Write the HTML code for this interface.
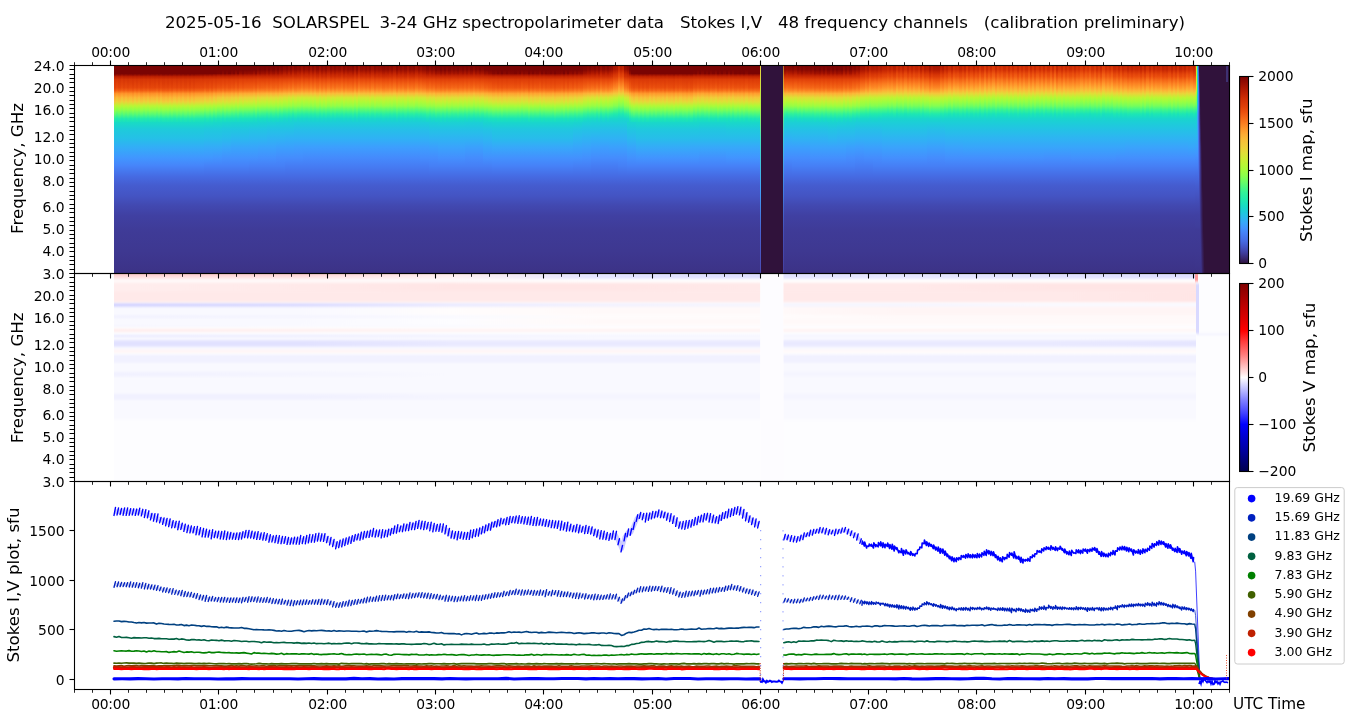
<!DOCTYPE html>
<html><head><meta charset="utf-8"><title>SOLARSPEL</title>
<style>html,body{margin:0;padding:0;background:#fff;}svg{display:block;}</style></head>
<body><svg width="1350" height="725" viewBox="0 0 1350 725" font-family="'DejaVu Sans', 'Liberation Sans', sans-serif">
<defs><linearGradient id="u0" x1="0" y1="0" x2="0" y2="1"><stop offset="0" stop-color="#7a0403"/><stop offset="0.07" stop-color="#7a0403"/><stop offset="0.14" stop-color="#7a0403"/><stop offset="0.16" stop-color="#880802"/><stop offset="0.19" stop-color="#bc2002"/><stop offset="0.24" stop-color="#d63506"/><stop offset="0.31" stop-color="#dc3b07"/><stop offset="0.38" stop-color="#e2430a"/><stop offset="0.43" stop-color="#ef5811"/><stop offset="0.48" stop-color="#fd8d27"/><stop offset="0.55" stop-color="#fdae35"/><stop offset="0.62" stop-color="#f2c93a"/><stop offset="0.69" stop-color="#bef434"/><stop offset="0.76" stop-color="#92ff47"/><stop offset="0.83" stop-color="#61fc6c"/><stop offset="0.91" stop-color="#25eca7"/><stop offset="1" stop-color="#18dbc5"/></linearGradient><linearGradient id="u1" x1="0" y1="0" x2="0" y2="1"><stop offset="0" stop-color="#7a0403"/><stop offset="0.07" stop-color="#7a0403"/><stop offset="0.14" stop-color="#7a0403"/><stop offset="0.16" stop-color="#950d01"/><stop offset="0.19" stop-color="#be2102"/><stop offset="0.24" stop-color="#d83706"/><stop offset="0.31" stop-color="#e14109"/><stop offset="0.38" stop-color="#e7490c"/><stop offset="0.43" stop-color="#f36315"/><stop offset="0.48" stop-color="#fe962b"/><stop offset="0.55" stop-color="#faba39"/><stop offset="0.62" stop-color="#e9d539"/><stop offset="0.69" stop-color="#b7f735"/><stop offset="0.76" stop-color="#8bff4b"/><stop offset="0.83" stop-color="#55fa76"/><stop offset="0.91" stop-color="#1fe9af"/><stop offset="1" stop-color="#18d7ca"/></linearGradient><linearGradient id="u2" x1="0" y1="0" x2="0" y2="1"><stop offset="0" stop-color="#7a0403"/><stop offset="0.07" stop-color="#7a0403"/><stop offset="0.14" stop-color="#7a0403"/><stop offset="0.16" stop-color="#8e0a01"/><stop offset="0.19" stop-color="#bc2002"/><stop offset="0.24" stop-color="#d63506"/><stop offset="0.31" stop-color="#dd3d08"/><stop offset="0.38" stop-color="#e4450a"/><stop offset="0.43" stop-color="#f15d13"/><stop offset="0.48" stop-color="#fe9029"/><stop offset="0.55" stop-color="#fcb336"/><stop offset="0.62" stop-color="#efcd3a"/><stop offset="0.69" stop-color="#bcf534"/><stop offset="0.76" stop-color="#8fff49"/><stop offset="0.83" stop-color="#5dfc6f"/><stop offset="0.91" stop-color="#22ebaa"/><stop offset="1" stop-color="#18d9c8"/></linearGradient><linearGradient id="u3" x1="0" y1="0" x2="0" y2="1"><stop offset="0" stop-color="#7a0403"/><stop offset="0.07" stop-color="#7a0403"/><stop offset="0.14" stop-color="#7a0403"/><stop offset="0.16" stop-color="#980e01"/><stop offset="0.19" stop-color="#c12302"/><stop offset="0.24" stop-color="#da3907"/><stop offset="0.31" stop-color="#e14109"/><stop offset="0.38" stop-color="#e84b0c"/><stop offset="0.43" stop-color="#f36315"/><stop offset="0.48" stop-color="#fe962b"/><stop offset="0.55" stop-color="#f9bc39"/><stop offset="0.62" stop-color="#e7d739"/><stop offset="0.69" stop-color="#b4f836"/><stop offset="0.76" stop-color="#88ff4e"/><stop offset="0.83" stop-color="#52fa7a"/><stop offset="0.91" stop-color="#1fe9af"/><stop offset="1" stop-color="#18d7ca"/></linearGradient><linearGradient id="u4" x1="0" y1="0" x2="0" y2="1"><stop offset="0" stop-color="#7a0403"/><stop offset="0.07" stop-color="#7a0403"/><stop offset="0.14" stop-color="#7a0403"/><stop offset="0.16" stop-color="#920b01"/><stop offset="0.19" stop-color="#be2102"/><stop offset="0.24" stop-color="#d83706"/><stop offset="0.31" stop-color="#df3f08"/><stop offset="0.38" stop-color="#e7490c"/><stop offset="0.43" stop-color="#f26014"/><stop offset="0.48" stop-color="#fe932a"/><stop offset="0.55" stop-color="#fbb838"/><stop offset="0.62" stop-color="#ebd339"/><stop offset="0.69" stop-color="#b7f735"/><stop offset="0.76" stop-color="#8bff4b"/><stop offset="0.83" stop-color="#55fa76"/><stop offset="0.91" stop-color="#20eaac"/><stop offset="1" stop-color="#18d7ca"/></linearGradient><linearGradient id="u5" x1="0" y1="0" x2="0" y2="1"><stop offset="0" stop-color="#7a0403"/><stop offset="0.07" stop-color="#7a0403"/><stop offset="0.14" stop-color="#7a0403"/><stop offset="0.16" stop-color="#8b0902"/><stop offset="0.19" stop-color="#bc2002"/><stop offset="0.24" stop-color="#d63506"/><stop offset="0.31" stop-color="#dc3b07"/><stop offset="0.38" stop-color="#e4450a"/><stop offset="0.43" stop-color="#f05b12"/><stop offset="0.48" stop-color="#fd8d27"/><stop offset="0.55" stop-color="#fcb136"/><stop offset="0.62" stop-color="#f1cb3a"/><stop offset="0.69" stop-color="#bcf534"/><stop offset="0.76" stop-color="#92ff47"/><stop offset="0.83" stop-color="#5dfc6f"/><stop offset="0.91" stop-color="#22ebaa"/><stop offset="1" stop-color="#18d9c8"/></linearGradient><linearGradient id="u6" x1="0" y1="0" x2="0" y2="1"><stop offset="0" stop-color="#7a0403"/><stop offset="0.07" stop-color="#7a0403"/><stop offset="0.14" stop-color="#7a0403"/><stop offset="0.16" stop-color="#920b01"/><stop offset="0.19" stop-color="#be2102"/><stop offset="0.24" stop-color="#d83706"/><stop offset="0.31" stop-color="#df3f08"/><stop offset="0.38" stop-color="#e5470b"/><stop offset="0.43" stop-color="#f15d13"/><stop offset="0.48" stop-color="#fe9029"/><stop offset="0.55" stop-color="#fbb637"/><stop offset="0.62" stop-color="#eecf3a"/><stop offset="0.69" stop-color="#b9f635"/><stop offset="0.76" stop-color="#8fff49"/><stop offset="0.83" stop-color="#59fb73"/><stop offset="0.91" stop-color="#20eaac"/><stop offset="1" stop-color="#18d9c8"/></linearGradient><linearGradient id="u7" x1="0" y1="0" x2="0" y2="1"><stop offset="0" stop-color="#7a0403"/><stop offset="0.07" stop-color="#7a0403"/><stop offset="0.14" stop-color="#7a0403"/><stop offset="0.16" stop-color="#9e1001"/><stop offset="0.19" stop-color="#c32503"/><stop offset="0.24" stop-color="#da3907"/><stop offset="0.31" stop-color="#e4450a"/><stop offset="0.38" stop-color="#eb500e"/><stop offset="0.43" stop-color="#f66c19"/><stop offset="0.48" stop-color="#fe9b2d"/><stop offset="0.55" stop-color="#f6c33a"/><stop offset="0.62" stop-color="#e1dd37"/><stop offset="0.69" stop-color="#b1f936"/><stop offset="0.76" stop-color="#80ff53"/><stop offset="0.83" stop-color="#4af880"/><stop offset="0.91" stop-color="#1ce6b4"/><stop offset="1" stop-color="#19d5cd"/></linearGradient><linearGradient id="u8" x1="0" y1="0" x2="0" y2="1"><stop offset="0" stop-color="#7a0403"/><stop offset="0.07" stop-color="#7a0403"/><stop offset="0.14" stop-color="#7a0403"/><stop offset="0.16" stop-color="#a41301"/><stop offset="0.19" stop-color="#c32503"/><stop offset="0.24" stop-color="#dc3b07"/><stop offset="0.31" stop-color="#e5470b"/><stop offset="0.38" stop-color="#ec530f"/><stop offset="0.43" stop-color="#f76f1a"/><stop offset="0.48" stop-color="#fea130"/><stop offset="0.55" stop-color="#f2c93a"/><stop offset="0.62" stop-color="#dde037"/><stop offset="0.69" stop-color="#acfb38"/><stop offset="0.76" stop-color="#7dff56"/><stop offset="0.83" stop-color="#46f884"/><stop offset="0.91" stop-color="#1ae4b6"/><stop offset="1" stop-color="#1ad4d0"/></linearGradient><linearGradient id="u9" x1="0" y1="0" x2="0" y2="1"><stop offset="0" stop-color="#7a0403"/><stop offset="0.07" stop-color="#7a0403"/><stop offset="0.14" stop-color="#7a0403"/><stop offset="0.16" stop-color="#9e1001"/><stop offset="0.19" stop-color="#c12302"/><stop offset="0.24" stop-color="#da3907"/><stop offset="0.31" stop-color="#e2430a"/><stop offset="0.38" stop-color="#ea4e0d"/><stop offset="0.43" stop-color="#f56918"/><stop offset="0.48" stop-color="#fe9b2d"/><stop offset="0.55" stop-color="#f7c13a"/><stop offset="0.62" stop-color="#e3db38"/><stop offset="0.69" stop-color="#b1f936"/><stop offset="0.76" stop-color="#84ff51"/><stop offset="0.83" stop-color="#4ef97d"/><stop offset="0.91" stop-color="#1de7b2"/><stop offset="1" stop-color="#19d5cd"/></linearGradient><linearGradient id="u10" x1="0" y1="0" x2="0" y2="1"><stop offset="0" stop-color="#7a0403"/><stop offset="0.07" stop-color="#7a0403"/><stop offset="0.14" stop-color="#7e0502"/><stop offset="0.16" stop-color="#a71401"/><stop offset="0.19" stop-color="#c52603"/><stop offset="0.24" stop-color="#dc3b07"/><stop offset="0.31" stop-color="#e5470b"/><stop offset="0.38" stop-color="#ed5510"/><stop offset="0.43" stop-color="#f8721c"/><stop offset="0.48" stop-color="#fea130"/><stop offset="0.55" stop-color="#f1cb3a"/><stop offset="0.62" stop-color="#dbe236"/><stop offset="0.69" stop-color="#acfb38"/><stop offset="0.76" stop-color="#79fe59"/><stop offset="0.83" stop-color="#43f787"/><stop offset="0.91" stop-color="#1ae4b6"/><stop offset="1" stop-color="#1ad4d0"/></linearGradient><linearGradient id="u11" x1="0" y1="0" x2="0" y2="1"><stop offset="0" stop-color="#7a0403"/><stop offset="0.07" stop-color="#7a0403"/><stop offset="0.14" stop-color="#7a0403"/><stop offset="0.16" stop-color="#a11201"/><stop offset="0.19" stop-color="#c32503"/><stop offset="0.24" stop-color="#dc3b07"/><stop offset="0.31" stop-color="#e4450a"/><stop offset="0.38" stop-color="#ec530f"/><stop offset="0.43" stop-color="#f66c19"/><stop offset="0.48" stop-color="#fe9e2f"/><stop offset="0.55" stop-color="#f4c73a"/><stop offset="0.62" stop-color="#dfdf37"/><stop offset="0.69" stop-color="#affa37"/><stop offset="0.76" stop-color="#80ff53"/><stop offset="0.83" stop-color="#4af880"/><stop offset="0.91" stop-color="#1ce6b4"/><stop offset="1" stop-color="#19d5cd"/></linearGradient><linearGradient id="u12" x1="0" y1="0" x2="0" y2="1"><stop offset="0" stop-color="#7a0403"/><stop offset="0.07" stop-color="#7a0403"/><stop offset="0.14" stop-color="#880802"/><stop offset="0.16" stop-color="#a91601"/><stop offset="0.19" stop-color="#c52603"/><stop offset="0.24" stop-color="#dd3d08"/><stop offset="0.31" stop-color="#e7490c"/><stop offset="0.38" stop-color="#ef5811"/><stop offset="0.43" stop-color="#f9751d"/><stop offset="0.48" stop-color="#fea732"/><stop offset="0.55" stop-color="#eecf3a"/><stop offset="0.62" stop-color="#d7e535"/><stop offset="0.69" stop-color="#a9fb39"/><stop offset="0.76" stop-color="#75fe5c"/><stop offset="0.83" stop-color="#3ff68a"/><stop offset="0.91" stop-color="#19e3b9"/><stop offset="1" stop-color="#1ad4d0"/></linearGradient><linearGradient id="u13" x1="0" y1="0" x2="0" y2="1"><stop offset="0" stop-color="#7a0403"/><stop offset="0.07" stop-color="#7a0403"/><stop offset="0.14" stop-color="#850702"/><stop offset="0.16" stop-color="#a71401"/><stop offset="0.19" stop-color="#c52603"/><stop offset="0.24" stop-color="#dd3d08"/><stop offset="0.31" stop-color="#e7490c"/><stop offset="0.38" stop-color="#ef5811"/><stop offset="0.43" stop-color="#f8721c"/><stop offset="0.48" stop-color="#fea431"/><stop offset="0.55" stop-color="#efcd3a"/><stop offset="0.62" stop-color="#d9e436"/><stop offset="0.69" stop-color="#a9fb39"/><stop offset="0.76" stop-color="#79fe59"/><stop offset="0.83" stop-color="#43f787"/><stop offset="0.91" stop-color="#19e3b9"/><stop offset="1" stop-color="#1ad4d0"/></linearGradient><linearGradient id="u14" x1="0" y1="0" x2="0" y2="1"><stop offset="0" stop-color="#7a0403"/><stop offset="0.07" stop-color="#7a0403"/><stop offset="0.14" stop-color="#920b01"/><stop offset="0.16" stop-color="#af1801"/><stop offset="0.19" stop-color="#c82803"/><stop offset="0.24" stop-color="#dd3d08"/><stop offset="0.31" stop-color="#ea4e0d"/><stop offset="0.38" stop-color="#f15d13"/><stop offset="0.43" stop-color="#f9781e"/><stop offset="0.48" stop-color="#fea933"/><stop offset="0.55" stop-color="#ebd339"/><stop offset="0.62" stop-color="#d2e935"/><stop offset="0.69" stop-color="#a4fc3c"/><stop offset="0.76" stop-color="#71fe5f"/><stop offset="0.83" stop-color="#3cf58e"/><stop offset="0.91" stop-color="#19e2bb"/><stop offset="1" stop-color="#1ad2d2"/></linearGradient><linearGradient id="u15" x1="0" y1="0" x2="0" y2="1"><stop offset="0" stop-color="#7a0403"/><stop offset="0.07" stop-color="#7a0403"/><stop offset="0.14" stop-color="#950d01"/><stop offset="0.16" stop-color="#b21a01"/><stop offset="0.19" stop-color="#c82803"/><stop offset="0.24" stop-color="#df3f08"/><stop offset="0.31" stop-color="#ea4e0d"/><stop offset="0.38" stop-color="#f15d13"/><stop offset="0.43" stop-color="#fa7b1f"/><stop offset="0.48" stop-color="#fdac34"/><stop offset="0.55" stop-color="#e9d539"/><stop offset="0.62" stop-color="#cdec34"/><stop offset="0.69" stop-color="#a4fc3c"/><stop offset="0.76" stop-color="#71fe5f"/><stop offset="0.83" stop-color="#38f491"/><stop offset="0.91" stop-color="#19e2bb"/><stop offset="1" stop-color="#1ad2d2"/></linearGradient><linearGradient id="u16" x1="0" y1="0" x2="0" y2="1"><stop offset="0" stop-color="#7a0403"/><stop offset="0.07" stop-color="#7a0403"/><stop offset="0.14" stop-color="#9e1001"/><stop offset="0.16" stop-color="#b41b01"/><stop offset="0.19" stop-color="#ca2a04"/><stop offset="0.24" stop-color="#df3f08"/><stop offset="0.31" stop-color="#eb500e"/><stop offset="0.38" stop-color="#f36315"/><stop offset="0.43" stop-color="#fb7e21"/><stop offset="0.48" stop-color="#fdae35"/><stop offset="0.55" stop-color="#e5d938"/><stop offset="0.62" stop-color="#c8ef34"/><stop offset="0.69" stop-color="#a1fd3d"/><stop offset="0.76" stop-color="#69fd66"/><stop offset="0.83" stop-color="#35f394"/><stop offset="0.91" stop-color="#18e0bd"/><stop offset="1" stop-color="#1bd0d5"/></linearGradient><linearGradient id="u17" x1="0" y1="0" x2="0" y2="1"><stop offset="0" stop-color="#7a0403"/><stop offset="0.07" stop-color="#7a0403"/><stop offset="0.14" stop-color="#8b0902"/><stop offset="0.16" stop-color="#ac1701"/><stop offset="0.19" stop-color="#c82803"/><stop offset="0.24" stop-color="#dd3d08"/><stop offset="0.31" stop-color="#e84b0c"/><stop offset="0.38" stop-color="#f05b12"/><stop offset="0.43" stop-color="#f9781e"/><stop offset="0.48" stop-color="#fea732"/><stop offset="0.55" stop-color="#ecd13a"/><stop offset="0.62" stop-color="#d4e735"/><stop offset="0.69" stop-color="#a7fc3a"/><stop offset="0.76" stop-color="#75fe5c"/><stop offset="0.83" stop-color="#3ff68a"/><stop offset="0.91" stop-color="#19e2bb"/><stop offset="1" stop-color="#1ad2d2"/></linearGradient><linearGradient id="u18" x1="0" y1="0" x2="0" y2="1"><stop offset="0" stop-color="#7a0403"/><stop offset="0.07" stop-color="#810602"/><stop offset="0.14" stop-color="#a41301"/><stop offset="0.16" stop-color="#b91e02"/><stop offset="0.19" stop-color="#cc2b04"/><stop offset="0.24" stop-color="#e14109"/><stop offset="0.31" stop-color="#ec530f"/><stop offset="0.38" stop-color="#f46617"/><stop offset="0.43" stop-color="#fc8423"/><stop offset="0.48" stop-color="#fcb136"/><stop offset="0.55" stop-color="#e1dd37"/><stop offset="0.62" stop-color="#c3f134"/><stop offset="0.69" stop-color="#9ffd3f"/><stop offset="0.76" stop-color="#65fd69"/><stop offset="0.83" stop-color="#32f298"/><stop offset="0.91" stop-color="#18dec0"/><stop offset="1" stop-color="#1ccdd8"/></linearGradient><linearGradient id="u19" x1="0" y1="0" x2="0" y2="1"><stop offset="0" stop-color="#7a0403"/><stop offset="0.07" stop-color="#7a0403"/><stop offset="0.14" stop-color="#980e01"/><stop offset="0.16" stop-color="#b21a01"/><stop offset="0.19" stop-color="#ca2a04"/><stop offset="0.24" stop-color="#df3f08"/><stop offset="0.31" stop-color="#eb500e"/><stop offset="0.38" stop-color="#f26014"/><stop offset="0.43" stop-color="#fb7e21"/><stop offset="0.48" stop-color="#fdac34"/><stop offset="0.55" stop-color="#e7d739"/><stop offset="0.62" stop-color="#cbed34"/><stop offset="0.69" stop-color="#a1fd3d"/><stop offset="0.76" stop-color="#6dfe62"/><stop offset="0.83" stop-color="#38f491"/><stop offset="0.91" stop-color="#18e0bd"/><stop offset="1" stop-color="#1bd0d5"/></linearGradient><linearGradient id="u20" x1="0" y1="0" x2="0" y2="1"><stop offset="0" stop-color="#7a0403"/><stop offset="0.07" stop-color="#7e0502"/><stop offset="0.14" stop-color="#a11201"/><stop offset="0.16" stop-color="#b71d02"/><stop offset="0.19" stop-color="#ca2a04"/><stop offset="0.24" stop-color="#df3f08"/><stop offset="0.31" stop-color="#ec530f"/><stop offset="0.38" stop-color="#f36315"/><stop offset="0.43" stop-color="#fb8122"/><stop offset="0.48" stop-color="#fdae35"/><stop offset="0.55" stop-color="#e3db38"/><stop offset="0.62" stop-color="#c6f034"/><stop offset="0.69" stop-color="#9ffd3f"/><stop offset="0.76" stop-color="#69fd66"/><stop offset="0.83" stop-color="#35f394"/><stop offset="0.91" stop-color="#18dec0"/><stop offset="1" stop-color="#1bd0d5"/></linearGradient><linearGradient id="u21" x1="0" y1="0" x2="0" y2="1"><stop offset="0" stop-color="#7a0403"/><stop offset="0.07" stop-color="#850702"/><stop offset="0.14" stop-color="#a91601"/><stop offset="0.16" stop-color="#bc2002"/><stop offset="0.19" stop-color="#cc2b04"/><stop offset="0.24" stop-color="#e14109"/><stop offset="0.31" stop-color="#ed5510"/><stop offset="0.38" stop-color="#f56918"/><stop offset="0.43" stop-color="#fc8423"/><stop offset="0.48" stop-color="#fcb336"/><stop offset="0.55" stop-color="#dfdf37"/><stop offset="0.62" stop-color="#c1f334"/><stop offset="0.69" stop-color="#9cfe40"/><stop offset="0.76" stop-color="#65fd69"/><stop offset="0.83" stop-color="#2ff19b"/><stop offset="0.91" stop-color="#18ddc2"/><stop offset="1" stop-color="#1ccdd8"/></linearGradient><linearGradient id="u22" x1="0" y1="0" x2="0" y2="1"><stop offset="0" stop-color="#7a0403"/><stop offset="0.07" stop-color="#880802"/><stop offset="0.14" stop-color="#ac1701"/><stop offset="0.16" stop-color="#bc2002"/><stop offset="0.19" stop-color="#cc2b04"/><stop offset="0.24" stop-color="#e14109"/><stop offset="0.31" stop-color="#ed5510"/><stop offset="0.38" stop-color="#f56918"/><stop offset="0.43" stop-color="#fc8725"/><stop offset="0.48" stop-color="#fcb336"/><stop offset="0.55" stop-color="#dde037"/><stop offset="0.62" stop-color="#bef434"/><stop offset="0.69" stop-color="#99fe42"/><stop offset="0.76" stop-color="#61fc6c"/><stop offset="0.83" stop-color="#2ff19b"/><stop offset="0.91" stop-color="#18ddc2"/><stop offset="1" stop-color="#1ccdd8"/></linearGradient><linearGradient id="u23" x1="0" y1="0" x2="0" y2="1"><stop offset="0" stop-color="#7e0502"/><stop offset="0.07" stop-color="#8b0902"/><stop offset="0.14" stop-color="#af1801"/><stop offset="0.16" stop-color="#be2102"/><stop offset="0.19" stop-color="#ce2d04"/><stop offset="0.24" stop-color="#e2430a"/><stop offset="0.31" stop-color="#ef5811"/><stop offset="0.38" stop-color="#f66c19"/><stop offset="0.43" stop-color="#fd8a26"/><stop offset="0.48" stop-color="#fbb637"/><stop offset="0.55" stop-color="#dbe236"/><stop offset="0.62" stop-color="#bcf534"/><stop offset="0.69" stop-color="#99fe42"/><stop offset="0.76" stop-color="#5dfc6f"/><stop offset="0.83" stop-color="#2cf09e"/><stop offset="0.91" stop-color="#18dbc5"/><stop offset="1" stop-color="#1ccdd8"/></linearGradient><linearGradient id="u24" x1="0" y1="0" x2="0" y2="1"><stop offset="0" stop-color="#850702"/><stop offset="0.07" stop-color="#920b01"/><stop offset="0.14" stop-color="#b71d02"/><stop offset="0.16" stop-color="#c32503"/><stop offset="0.19" stop-color="#ce2d04"/><stop offset="0.24" stop-color="#e2430a"/><stop offset="0.31" stop-color="#f05b12"/><stop offset="0.38" stop-color="#f76f1a"/><stop offset="0.43" stop-color="#fd8d27"/><stop offset="0.48" stop-color="#fbb838"/><stop offset="0.55" stop-color="#d7e535"/><stop offset="0.62" stop-color="#b7f735"/><stop offset="0.69" stop-color="#96fe44"/><stop offset="0.76" stop-color="#59fb73"/><stop offset="0.83" stop-color="#2aefa1"/><stop offset="0.91" stop-color="#18d9c8"/><stop offset="1" stop-color="#1ecbda"/></linearGradient><linearGradient id="u25" x1="0" y1="0" x2="0" y2="1"><stop offset="0" stop-color="#8b0902"/><stop offset="0.07" stop-color="#950d01"/><stop offset="0.14" stop-color="#be2102"/><stop offset="0.16" stop-color="#c52603"/><stop offset="0.19" stop-color="#d02f05"/><stop offset="0.24" stop-color="#e4450a"/><stop offset="0.31" stop-color="#f15d13"/><stop offset="0.38" stop-color="#f9751d"/><stop offset="0.43" stop-color="#fe9029"/><stop offset="0.48" stop-color="#f9bc39"/><stop offset="0.55" stop-color="#d0ea34"/><stop offset="0.62" stop-color="#b1f936"/><stop offset="0.69" stop-color="#92ff47"/><stop offset="0.76" stop-color="#55fa76"/><stop offset="0.83" stop-color="#27eea4"/><stop offset="0.91" stop-color="#18d7ca"/><stop offset="1" stop-color="#1fc9dd"/></linearGradient><linearGradient id="u26" x1="0" y1="0" x2="0" y2="1"><stop offset="0" stop-color="#8e0a01"/><stop offset="0.07" stop-color="#9b0f01"/><stop offset="0.14" stop-color="#c12302"/><stop offset="0.16" stop-color="#ca2a04"/><stop offset="0.19" stop-color="#d23105"/><stop offset="0.24" stop-color="#e5470b"/><stop offset="0.31" stop-color="#f26014"/><stop offset="0.38" stop-color="#f9781e"/><stop offset="0.43" stop-color="#fe962b"/><stop offset="0.48" stop-color="#f8be39"/><stop offset="0.55" stop-color="#d0ea34"/><stop offset="0.62" stop-color="#affa37"/><stop offset="0.69" stop-color="#8fff49"/><stop offset="0.76" stop-color="#55fa76"/><stop offset="0.83" stop-color="#25eca7"/><stop offset="0.91" stop-color="#18d7ca"/><stop offset="1" stop-color="#1fc9dd"/></linearGradient><linearGradient id="u27" x1="0" y1="0" x2="0" y2="1"><stop offset="0" stop-color="#810602"/><stop offset="0.07" stop-color="#8e0a01"/><stop offset="0.14" stop-color="#b41b01"/><stop offset="0.16" stop-color="#c12302"/><stop offset="0.19" stop-color="#ce2d04"/><stop offset="0.24" stop-color="#e2430a"/><stop offset="0.31" stop-color="#ef5811"/><stop offset="0.38" stop-color="#f76f1a"/><stop offset="0.43" stop-color="#fd8a26"/><stop offset="0.48" stop-color="#fbb838"/><stop offset="0.55" stop-color="#d9e436"/><stop offset="0.62" stop-color="#b9f635"/><stop offset="0.69" stop-color="#96fe44"/><stop offset="0.76" stop-color="#5dfc6f"/><stop offset="0.83" stop-color="#2cf09e"/><stop offset="0.91" stop-color="#18dbc5"/><stop offset="1" stop-color="#1ecbda"/></linearGradient><linearGradient id="u28" x1="0" y1="0" x2="0" y2="1"><stop offset="0" stop-color="#880802"/><stop offset="0.07" stop-color="#920b01"/><stop offset="0.14" stop-color="#b91e02"/><stop offset="0.16" stop-color="#c52603"/><stop offset="0.19" stop-color="#d02f05"/><stop offset="0.24" stop-color="#e2430a"/><stop offset="0.31" stop-color="#f05b12"/><stop offset="0.38" stop-color="#f8721c"/><stop offset="0.43" stop-color="#fe9029"/><stop offset="0.48" stop-color="#faba39"/><stop offset="0.55" stop-color="#d2e935"/><stop offset="0.62" stop-color="#b4f836"/><stop offset="0.69" stop-color="#92ff47"/><stop offset="0.76" stop-color="#59fb73"/><stop offset="0.83" stop-color="#27eea4"/><stop offset="0.91" stop-color="#18d9c8"/><stop offset="1" stop-color="#1ecbda"/></linearGradient><linearGradient id="u29" x1="0" y1="0" x2="0" y2="1"><stop offset="0" stop-color="#950d01"/><stop offset="0.07" stop-color="#a11201"/><stop offset="0.14" stop-color="#c52603"/><stop offset="0.16" stop-color="#cc2b04"/><stop offset="0.19" stop-color="#d63506"/><stop offset="0.24" stop-color="#e7490c"/><stop offset="0.31" stop-color="#f36315"/><stop offset="0.38" stop-color="#fa7b1f"/><stop offset="0.43" stop-color="#fe992c"/><stop offset="0.48" stop-color="#f7c13a"/><stop offset="0.55" stop-color="#cdec34"/><stop offset="0.62" stop-color="#acfb38"/><stop offset="0.69" stop-color="#8bff4b"/><stop offset="0.76" stop-color="#52fa7a"/><stop offset="0.83" stop-color="#25eca7"/><stop offset="0.91" stop-color="#18d7ca"/><stop offset="1" stop-color="#1ecbda"/></linearGradient><linearGradient id="u30" x1="0" y1="0" x2="0" y2="1"><stop offset="0" stop-color="#9b0f01"/><stop offset="0.07" stop-color="#a71401"/><stop offset="0.14" stop-color="#c82803"/><stop offset="0.16" stop-color="#d02f05"/><stop offset="0.19" stop-color="#d83706"/><stop offset="0.24" stop-color="#e84b0c"/><stop offset="0.31" stop-color="#f46617"/><stop offset="0.38" stop-color="#fb7e21"/><stop offset="0.43" stop-color="#fe9b2d"/><stop offset="0.48" stop-color="#f6c33a"/><stop offset="0.55" stop-color="#cbed34"/><stop offset="0.62" stop-color="#a9fb39"/><stop offset="0.69" stop-color="#8bff4b"/><stop offset="0.76" stop-color="#4ef97d"/><stop offset="0.83" stop-color="#22ebaa"/><stop offset="0.91" stop-color="#18d7ca"/><stop offset="1" stop-color="#1ecbda"/></linearGradient><linearGradient id="u31" x1="0" y1="0" x2="0" y2="1"><stop offset="0" stop-color="#a41301"/><stop offset="0.07" stop-color="#af1801"/><stop offset="0.14" stop-color="#ce2d04"/><stop offset="0.16" stop-color="#d63506"/><stop offset="0.19" stop-color="#dd3d08"/><stop offset="0.24" stop-color="#eb500e"/><stop offset="0.31" stop-color="#f66c19"/><stop offset="0.38" stop-color="#fc8725"/><stop offset="0.43" stop-color="#fea431"/><stop offset="0.48" stop-color="#f4c73a"/><stop offset="0.55" stop-color="#c8ef34"/><stop offset="0.62" stop-color="#a7fc3a"/><stop offset="0.69" stop-color="#84ff51"/><stop offset="0.76" stop-color="#4af880"/><stop offset="0.83" stop-color="#20eaac"/><stop offset="0.91" stop-color="#18d7ca"/><stop offset="1" stop-color="#1ecbda"/></linearGradient><linearGradient id="u32" x1="0" y1="0" x2="0" y2="1"><stop offset="0" stop-color="#a91601"/><stop offset="0.07" stop-color="#b41b01"/><stop offset="0.14" stop-color="#d23105"/><stop offset="0.16" stop-color="#d83706"/><stop offset="0.19" stop-color="#df3f08"/><stop offset="0.24" stop-color="#ec530f"/><stop offset="0.31" stop-color="#f8721c"/><stop offset="0.38" stop-color="#fd8a26"/><stop offset="0.43" stop-color="#fea732"/><stop offset="0.48" stop-color="#f2c93a"/><stop offset="0.55" stop-color="#c6f034"/><stop offset="0.62" stop-color="#a4fc3c"/><stop offset="0.69" stop-color="#84ff51"/><stop offset="0.76" stop-color="#46f884"/><stop offset="0.83" stop-color="#20eaac"/><stop offset="0.91" stop-color="#18d7ca"/><stop offset="1" stop-color="#1ecbda"/></linearGradient><linearGradient id="u33" x1="0" y1="0" x2="0" y2="1"><stop offset="0" stop-color="#c52603"/><stop offset="0.07" stop-color="#cc2b04"/><stop offset="0.14" stop-color="#e2430a"/><stop offset="0.16" stop-color="#e7490c"/><stop offset="0.19" stop-color="#eb500e"/><stop offset="0.24" stop-color="#f46617"/><stop offset="0.31" stop-color="#fc8423"/><stop offset="0.38" stop-color="#fea130"/><stop offset="0.43" stop-color="#fbb838"/><stop offset="0.48" stop-color="#e9d539"/><stop offset="0.55" stop-color="#b9f635"/><stop offset="0.62" stop-color="#99fe42"/><stop offset="0.69" stop-color="#75fe5c"/><stop offset="0.76" stop-color="#3cf58e"/><stop offset="0.83" stop-color="#1ce6b4"/><stop offset="0.91" stop-color="#19d5cd"/><stop offset="1" stop-color="#1ecbda"/></linearGradient><linearGradient id="u34" x1="0" y1="0" x2="0" y2="1"><stop offset="0" stop-color="#b41b01"/><stop offset="0.07" stop-color="#bc2002"/><stop offset="0.14" stop-color="#d83706"/><stop offset="0.16" stop-color="#dd3d08"/><stop offset="0.19" stop-color="#e4450a"/><stop offset="0.24" stop-color="#f05b12"/><stop offset="0.31" stop-color="#f9781e"/><stop offset="0.38" stop-color="#fe932a"/><stop offset="0.43" stop-color="#fdac34"/><stop offset="0.48" stop-color="#efcd3a"/><stop offset="0.55" stop-color="#c1f334"/><stop offset="0.62" stop-color="#a1fd3d"/><stop offset="0.69" stop-color="#7dff56"/><stop offset="0.76" stop-color="#43f787"/><stop offset="0.83" stop-color="#1fe9af"/><stop offset="0.91" stop-color="#19d5cd"/><stop offset="1" stop-color="#1ecbda"/></linearGradient><linearGradient id="u35" x1="0" y1="0" x2="0" y2="1"><stop offset="0" stop-color="#bc2002"/><stop offset="0.07" stop-color="#c32503"/><stop offset="0.14" stop-color="#dd3d08"/><stop offset="0.16" stop-color="#e2430a"/><stop offset="0.19" stop-color="#e7490c"/><stop offset="0.24" stop-color="#f26014"/><stop offset="0.31" stop-color="#fb7e21"/><stop offset="0.38" stop-color="#fe992c"/><stop offset="0.43" stop-color="#fcb336"/><stop offset="0.48" stop-color="#ecd13a"/><stop offset="0.55" stop-color="#bef434"/><stop offset="0.62" stop-color="#9cfe40"/><stop offset="0.69" stop-color="#79fe59"/><stop offset="0.76" stop-color="#3ff68a"/><stop offset="0.83" stop-color="#1de7b2"/><stop offset="0.91" stop-color="#19d5cd"/><stop offset="1" stop-color="#1ecbda"/></linearGradient><linearGradient id="u36" x1="0" y1="0" x2="0" y2="1"><stop offset="0" stop-color="#7a0403"/><stop offset="0.07" stop-color="#7a0403"/><stop offset="0.14" stop-color="#7a0403"/><stop offset="0.16" stop-color="#9b0f01"/><stop offset="0.19" stop-color="#c12302"/><stop offset="0.24" stop-color="#da3907"/><stop offset="0.31" stop-color="#e2430a"/><stop offset="0.38" stop-color="#ea4e0d"/><stop offset="0.43" stop-color="#f46617"/><stop offset="0.48" stop-color="#fe992c"/><stop offset="0.55" stop-color="#f8be39"/><stop offset="0.62" stop-color="#e5d938"/><stop offset="0.69" stop-color="#b4f836"/><stop offset="0.76" stop-color="#84ff51"/><stop offset="0.83" stop-color="#52fa7a"/><stop offset="0.91" stop-color="#1de7b2"/><stop offset="1" stop-color="#18d7ca"/></linearGradient><linearGradient id="u37" x1="0" y1="0" x2="0" y2="1"><stop offset="0" stop-color="#a11201"/><stop offset="0.07" stop-color="#a91601"/><stop offset="0.14" stop-color="#cc2b04"/><stop offset="0.16" stop-color="#d23105"/><stop offset="0.19" stop-color="#da3907"/><stop offset="0.24" stop-color="#ea4e0d"/><stop offset="0.31" stop-color="#f56918"/><stop offset="0.38" stop-color="#fc8423"/><stop offset="0.43" stop-color="#fe9e2f"/><stop offset="0.48" stop-color="#f5c53a"/><stop offset="0.55" stop-color="#c8ef34"/><stop offset="0.62" stop-color="#a9fb39"/><stop offset="0.69" stop-color="#88ff4e"/><stop offset="0.76" stop-color="#4ef97d"/><stop offset="0.83" stop-color="#22ebaa"/><stop offset="0.91" stop-color="#18d7ca"/><stop offset="1" stop-color="#1ecbda"/></linearGradient><linearGradient id="u38" x1="0" y1="0" x2="0" y2="1"><stop offset="0" stop-color="#af1801"/><stop offset="0.07" stop-color="#b71d02"/><stop offset="0.14" stop-color="#d43305"/><stop offset="0.16" stop-color="#dc3b07"/><stop offset="0.19" stop-color="#e14109"/><stop offset="0.24" stop-color="#ef5811"/><stop offset="0.31" stop-color="#f9751d"/><stop offset="0.38" stop-color="#fd8d27"/><stop offset="0.43" stop-color="#fea933"/><stop offset="0.48" stop-color="#f1cb3a"/><stop offset="0.55" stop-color="#c3f134"/><stop offset="0.62" stop-color="#a4fc3c"/><stop offset="0.69" stop-color="#80ff53"/><stop offset="0.76" stop-color="#46f884"/><stop offset="0.83" stop-color="#1fe9af"/><stop offset="0.91" stop-color="#18d7ca"/><stop offset="1" stop-color="#1ecbda"/></linearGradient><linearGradient id="u39" x1="0" y1="0" x2="0" y2="1"><stop offset="0" stop-color="#b71d02"/><stop offset="0.07" stop-color="#c12302"/><stop offset="0.14" stop-color="#da3907"/><stop offset="0.16" stop-color="#e14109"/><stop offset="0.19" stop-color="#e5470b"/><stop offset="0.24" stop-color="#f15d13"/><stop offset="0.31" stop-color="#fa7b1f"/><stop offset="0.38" stop-color="#fe962b"/><stop offset="0.43" stop-color="#fcb136"/><stop offset="0.48" stop-color="#eecf3a"/><stop offset="0.55" stop-color="#c1f334"/><stop offset="0.62" stop-color="#9ffd3f"/><stop offset="0.69" stop-color="#7dff56"/><stop offset="0.76" stop-color="#43f787"/><stop offset="0.83" stop-color="#1de7b2"/><stop offset="0.91" stop-color="#19d5cd"/><stop offset="1" stop-color="#1ecbda"/></linearGradient><linearGradient id="u40" x1="0" y1="0" x2="0" y2="1"><stop offset="0" stop-color="#c12302"/><stop offset="0.07" stop-color="#c82803"/><stop offset="0.14" stop-color="#df3f08"/><stop offset="0.16" stop-color="#e4450a"/><stop offset="0.19" stop-color="#ea4e0d"/><stop offset="0.24" stop-color="#f36315"/><stop offset="0.31" stop-color="#fb8122"/><stop offset="0.38" stop-color="#fe9b2d"/><stop offset="0.43" stop-color="#fbb637"/><stop offset="0.48" stop-color="#ebd339"/><stop offset="0.55" stop-color="#bcf534"/><stop offset="0.62" stop-color="#9cfe40"/><stop offset="0.69" stop-color="#75fe5c"/><stop offset="0.76" stop-color="#3cf58e"/><stop offset="0.83" stop-color="#1ce6b4"/><stop offset="0.91" stop-color="#19d5cd"/><stop offset="1" stop-color="#1ecbda"/></linearGradient><linearGradient id="u41" x1="0" y1="0" x2="0" y2="1"><stop offset="0" stop-color="#c82803"/><stop offset="0.07" stop-color="#ce2d04"/><stop offset="0.14" stop-color="#e5470b"/><stop offset="0.16" stop-color="#e84b0c"/><stop offset="0.19" stop-color="#ec530f"/><stop offset="0.24" stop-color="#f56918"/><stop offset="0.31" stop-color="#fc8725"/><stop offset="0.38" stop-color="#fea431"/><stop offset="0.43" stop-color="#f9bc39"/><stop offset="0.48" stop-color="#e7d739"/><stop offset="0.55" stop-color="#b9f635"/><stop offset="0.62" stop-color="#96fe44"/><stop offset="0.69" stop-color="#71fe5f"/><stop offset="0.76" stop-color="#38f491"/><stop offset="0.83" stop-color="#1ae4b6"/><stop offset="0.91" stop-color="#19d5cd"/><stop offset="1" stop-color="#1ecbda"/></linearGradient><linearGradient id="u42" x1="0" y1="0" x2="0" y2="1"><stop offset="0" stop-color="#cc2b04"/><stop offset="0.07" stop-color="#d23105"/><stop offset="0.14" stop-color="#e7490c"/><stop offset="0.16" stop-color="#eb500e"/><stop offset="0.19" stop-color="#ef5811"/><stop offset="0.24" stop-color="#f76f1a"/><stop offset="0.31" stop-color="#fd8a26"/><stop offset="0.38" stop-color="#fea732"/><stop offset="0.43" stop-color="#f8be39"/><stop offset="0.48" stop-color="#e3db38"/><stop offset="0.55" stop-color="#b7f735"/><stop offset="0.62" stop-color="#96fe44"/><stop offset="0.69" stop-color="#6dfe62"/><stop offset="0.76" stop-color="#38f491"/><stop offset="0.83" stop-color="#19e3b9"/><stop offset="0.91" stop-color="#19d5cd"/><stop offset="1" stop-color="#1ecbda"/></linearGradient><linearGradient id="u43" x1="0" y1="0" x2="0" y2="1"><stop offset="0" stop-color="#d02f05"/><stop offset="0.07" stop-color="#d63506"/><stop offset="0.14" stop-color="#ea4e0d"/><stop offset="0.16" stop-color="#ec530f"/><stop offset="0.19" stop-color="#f05b12"/><stop offset="0.24" stop-color="#f8721c"/><stop offset="0.31" stop-color="#fd8d27"/><stop offset="0.38" stop-color="#fea933"/><stop offset="0.43" stop-color="#f7c13a"/><stop offset="0.48" stop-color="#e1dd37"/><stop offset="0.55" stop-color="#b4f836"/><stop offset="0.62" stop-color="#92ff47"/><stop offset="0.69" stop-color="#6dfe62"/><stop offset="0.76" stop-color="#35f394"/><stop offset="0.83" stop-color="#19e3b9"/><stop offset="0.91" stop-color="#19d5cd"/><stop offset="1" stop-color="#1ecbda"/></linearGradient><linearGradient id="u44" x1="0" y1="0" x2="0" y2="1"><stop offset="0" stop-color="#d23105"/><stop offset="0.07" stop-color="#d83706"/><stop offset="0.14" stop-color="#eb500e"/><stop offset="0.16" stop-color="#ef5811"/><stop offset="0.19" stop-color="#f26014"/><stop offset="0.24" stop-color="#f9751d"/><stop offset="0.31" stop-color="#fe932a"/><stop offset="0.38" stop-color="#fdae35"/><stop offset="0.43" stop-color="#f6c33a"/><stop offset="0.48" stop-color="#dfdf37"/><stop offset="0.55" stop-color="#b1f936"/><stop offset="0.62" stop-color="#8fff49"/><stop offset="0.69" stop-color="#69fd66"/><stop offset="0.76" stop-color="#32f298"/><stop offset="0.83" stop-color="#19e2bb"/><stop offset="0.91" stop-color="#19d5cd"/><stop offset="1" stop-color="#1ecbda"/></linearGradient><linearGradient id="u45" x1="0" y1="0" x2="0" y2="1"><stop offset="0" stop-color="#d63506"/><stop offset="0.07" stop-color="#dc3b07"/><stop offset="0.14" stop-color="#ed5510"/><stop offset="0.16" stop-color="#f05b12"/><stop offset="0.19" stop-color="#f36315"/><stop offset="0.24" stop-color="#f9781e"/><stop offset="0.31" stop-color="#fe962b"/><stop offset="0.38" stop-color="#fcb136"/><stop offset="0.43" stop-color="#f4c73a"/><stop offset="0.48" stop-color="#dde037"/><stop offset="0.55" stop-color="#b1f936"/><stop offset="0.62" stop-color="#8bff4b"/><stop offset="0.69" stop-color="#69fd66"/><stop offset="0.76" stop-color="#32f298"/><stop offset="0.83" stop-color="#19e2bb"/><stop offset="0.91" stop-color="#1ad4d0"/><stop offset="1" stop-color="#1ecbda"/></linearGradient><linearGradient id="u46" x1="0" y1="0" x2="0" y2="1"><stop offset="0" stop-color="#da3907"/><stop offset="0.07" stop-color="#df3f08"/><stop offset="0.14" stop-color="#ef5811"/><stop offset="0.16" stop-color="#f26014"/><stop offset="0.19" stop-color="#f46617"/><stop offset="0.24" stop-color="#fa7b1f"/><stop offset="0.31" stop-color="#fe992c"/><stop offset="0.38" stop-color="#fcb336"/><stop offset="0.43" stop-color="#f2c93a"/><stop offset="0.48" stop-color="#dbe236"/><stop offset="0.55" stop-color="#affa37"/><stop offset="0.62" stop-color="#8bff4b"/><stop offset="0.69" stop-color="#65fd69"/><stop offset="0.76" stop-color="#2ff19b"/><stop offset="0.83" stop-color="#18e0bd"/><stop offset="0.91" stop-color="#1ad4d0"/><stop offset="1" stop-color="#1ecbda"/></linearGradient><linearGradient id="l47" x1="0" y1="0" x2="0" y2="1"><stop offset="0" stop-color="#18dec0"/><stop offset="0.05" stop-color="#1ecbda"/><stop offset="0.11" stop-color="#25c0e7"/><stop offset="0.17" stop-color="#33adf7"/><stop offset="0.24" stop-color="#4196ff"/><stop offset="0.29" stop-color="#4685fa"/><stop offset="0.36" stop-color="#466be3"/><stop offset="0.42" stop-color="#455ccf"/><stop offset="0.49" stop-color="#4454c3"/><stop offset="0.55" stop-color="#4249b1"/><stop offset="0.62" stop-color="#4040a2"/><stop offset="0.72" stop-color="#3f3b97"/><stop offset="0.85" stop-color="#3e3891"/><stop offset="1" stop-color="#3c3286"/></linearGradient><linearGradient id="l48" x1="0" y1="0" x2="0" y2="1"><stop offset="0" stop-color="#18dec0"/><stop offset="0.05" stop-color="#1ecbda"/><stop offset="0.11" stop-color="#25c0e7"/><stop offset="0.17" stop-color="#33adf7"/><stop offset="0.24" stop-color="#4196ff"/><stop offset="0.29" stop-color="#4685fa"/><stop offset="0.36" stop-color="#466be3"/><stop offset="0.42" stop-color="#455ccf"/><stop offset="0.49" stop-color="#4454c3"/><stop offset="0.55" stop-color="#4249b1"/><stop offset="0.62" stop-color="#4040a2"/><stop offset="0.72" stop-color="#3f3b97"/><stop offset="0.85" stop-color="#3e3891"/><stop offset="1" stop-color="#3c3286"/></linearGradient><linearGradient id="l49" x1="0" y1="0" x2="0" y2="1"><stop offset="0" stop-color="#18ddc2"/><stop offset="0.05" stop-color="#1fc9dd"/><stop offset="0.11" stop-color="#27bee9"/><stop offset="0.17" stop-color="#35abf8"/><stop offset="0.24" stop-color="#4196ff"/><stop offset="0.29" stop-color="#4682f8"/><stop offset="0.36" stop-color="#466be3"/><stop offset="0.42" stop-color="#455ccf"/><stop offset="0.49" stop-color="#4454c3"/><stop offset="0.55" stop-color="#4249b1"/><stop offset="0.62" stop-color="#4040a2"/><stop offset="0.72" stop-color="#3f3b97"/><stop offset="0.85" stop-color="#3e3891"/><stop offset="1" stop-color="#3c3286"/></linearGradient><linearGradient id="l50" x1="0" y1="0" x2="0" y2="1"><stop offset="0" stop-color="#18dbc5"/><stop offset="0.05" stop-color="#1fc9dd"/><stop offset="0.11" stop-color="#27bee9"/><stop offset="0.17" stop-color="#35abf8"/><stop offset="0.24" stop-color="#4294ff"/><stop offset="0.29" stop-color="#4682f8"/><stop offset="0.36" stop-color="#466be3"/><stop offset="0.42" stop-color="#455ccf"/><stop offset="0.49" stop-color="#4454c3"/><stop offset="0.55" stop-color="#4249b1"/><stop offset="0.62" stop-color="#4040a2"/><stop offset="0.72" stop-color="#3f3b97"/><stop offset="0.85" stop-color="#3e3891"/><stop offset="1" stop-color="#3c3286"/></linearGradient><linearGradient id="l51" x1="0" y1="0" x2="0" y2="1"><stop offset="0" stop-color="#18d9c8"/><stop offset="0.05" stop-color="#20c7df"/><stop offset="0.11" stop-color="#28bceb"/><stop offset="0.17" stop-color="#37a8fa"/><stop offset="0.24" stop-color="#4391fe"/><stop offset="0.29" stop-color="#4682f8"/><stop offset="0.36" stop-color="#466be3"/><stop offset="0.42" stop-color="#455ccf"/><stop offset="0.49" stop-color="#4454c3"/><stop offset="0.55" stop-color="#4249b1"/><stop offset="0.62" stop-color="#4040a2"/><stop offset="0.72" stop-color="#3f3b97"/><stop offset="0.85" stop-color="#3e3891"/><stop offset="1" stop-color="#3c3286"/></linearGradient><linearGradient id="l52" x1="0" y1="0" x2="0" y2="1"><stop offset="0" stop-color="#18d7ca"/><stop offset="0.05" stop-color="#20c7df"/><stop offset="0.11" stop-color="#2ab9ee"/><stop offset="0.17" stop-color="#38a5fb"/><stop offset="0.24" stop-color="#4391fe"/><stop offset="0.29" stop-color="#4682f8"/><stop offset="0.36" stop-color="#466be3"/><stop offset="0.42" stop-color="#455ccf"/><stop offset="0.49" stop-color="#4454c3"/><stop offset="0.55" stop-color="#4249b1"/><stop offset="0.62" stop-color="#4040a2"/><stop offset="0.72" stop-color="#3f3b97"/><stop offset="0.85" stop-color="#3e3891"/><stop offset="1" stop-color="#3c3286"/></linearGradient><linearGradient id="l53" x1="0" y1="0" x2="0" y2="1"><stop offset="0" stop-color="#18d7ca"/><stop offset="0.05" stop-color="#22c5e2"/><stop offset="0.11" stop-color="#2cb7f0"/><stop offset="0.17" stop-color="#38a5fb"/><stop offset="0.24" stop-color="#4391fe"/><stop offset="0.29" stop-color="#4680f6"/><stop offset="0.36" stop-color="#466be3"/><stop offset="0.42" stop-color="#455ccf"/><stop offset="0.49" stop-color="#4454c3"/><stop offset="0.55" stop-color="#4249b1"/><stop offset="0.62" stop-color="#4040a2"/><stop offset="0.72" stop-color="#3f3b97"/><stop offset="0.85" stop-color="#3e3891"/><stop offset="1" stop-color="#3c3286"/></linearGradient><linearGradient id="l54" x1="0" y1="0" x2="0" y2="1"><stop offset="0" stop-color="#19d5cd"/><stop offset="0.05" stop-color="#22c5e2"/><stop offset="0.11" stop-color="#2cb7f0"/><stop offset="0.17" stop-color="#3aa3fc"/><stop offset="0.24" stop-color="#448ffe"/><stop offset="0.29" stop-color="#4680f6"/><stop offset="0.36" stop-color="#466be3"/><stop offset="0.42" stop-color="#455ccf"/><stop offset="0.49" stop-color="#4454c3"/><stop offset="0.55" stop-color="#4249b1"/><stop offset="0.62" stop-color="#4040a2"/><stop offset="0.72" stop-color="#3f3b97"/><stop offset="0.85" stop-color="#3e3891"/><stop offset="1" stop-color="#3c3286"/></linearGradient><linearGradient id="l55" x1="0" y1="0" x2="0" y2="1"><stop offset="0" stop-color="#1ad4d0"/><stop offset="0.05" stop-color="#23c3e4"/><stop offset="0.11" stop-color="#2eb4f2"/><stop offset="0.17" stop-color="#3aa3fc"/><stop offset="0.24" stop-color="#448ffe"/><stop offset="0.29" stop-color="#4680f6"/><stop offset="0.36" stop-color="#466be3"/><stop offset="0.42" stop-color="#455ccf"/><stop offset="0.49" stop-color="#4454c3"/><stop offset="0.55" stop-color="#4249b1"/><stop offset="0.62" stop-color="#4040a2"/><stop offset="0.72" stop-color="#3f3b97"/><stop offset="0.85" stop-color="#3e3891"/><stop offset="1" stop-color="#3c3286"/></linearGradient><linearGradient id="l56" x1="0" y1="0" x2="0" y2="1"><stop offset="0" stop-color="#1ad2d2"/><stop offset="0.05" stop-color="#23c3e4"/><stop offset="0.11" stop-color="#2eb4f2"/><stop offset="0.17" stop-color="#3ba0fd"/><stop offset="0.24" stop-color="#458cfd"/><stop offset="0.29" stop-color="#4680f6"/><stop offset="0.36" stop-color="#466be3"/><stop offset="0.42" stop-color="#455ccf"/><stop offset="0.49" stop-color="#4454c3"/><stop offset="0.55" stop-color="#4249b1"/><stop offset="0.62" stop-color="#4040a2"/><stop offset="0.72" stop-color="#3f3b97"/><stop offset="0.85" stop-color="#3e3891"/><stop offset="1" stop-color="#3c3286"/></linearGradient><linearGradient id="l57" x1="0" y1="0" x2="0" y2="1"><stop offset="0" stop-color="#1ad2d2"/><stop offset="0.05" stop-color="#23c3e4"/><stop offset="0.11" stop-color="#2fb2f4"/><stop offset="0.17" stop-color="#3ba0fd"/><stop offset="0.24" stop-color="#458cfd"/><stop offset="0.29" stop-color="#467df4"/><stop offset="0.36" stop-color="#466be3"/><stop offset="0.42" stop-color="#455ccf"/><stop offset="0.49" stop-color="#4454c3"/><stop offset="0.55" stop-color="#4249b1"/><stop offset="0.62" stop-color="#4040a2"/><stop offset="0.72" stop-color="#3f3b97"/><stop offset="0.85" stop-color="#3e3891"/><stop offset="1" stop-color="#3c3286"/></linearGradient><linearGradient id="l58" x1="0" y1="0" x2="0" y2="1"><stop offset="0" stop-color="#1bd0d5"/><stop offset="0.05" stop-color="#25c0e7"/><stop offset="0.11" stop-color="#2fb2f4"/><stop offset="0.17" stop-color="#3d9efe"/><stop offset="0.24" stop-color="#458cfd"/><stop offset="0.29" stop-color="#467df4"/><stop offset="0.36" stop-color="#466be3"/><stop offset="0.42" stop-color="#455ccf"/><stop offset="0.49" stop-color="#4454c3"/><stop offset="0.55" stop-color="#4249b1"/><stop offset="0.62" stop-color="#4040a2"/><stop offset="0.72" stop-color="#3f3b97"/><stop offset="0.85" stop-color="#3e3891"/><stop offset="1" stop-color="#3c3286"/></linearGradient><linearGradient id="l59" x1="0" y1="0" x2="0" y2="1"><stop offset="0" stop-color="#1bd0d5"/><stop offset="0.05" stop-color="#25c0e7"/><stop offset="0.11" stop-color="#2fb2f4"/><stop offset="0.17" stop-color="#3d9efe"/><stop offset="0.24" stop-color="#458afc"/><stop offset="0.29" stop-color="#467df4"/><stop offset="0.36" stop-color="#466be3"/><stop offset="0.42" stop-color="#455ccf"/><stop offset="0.49" stop-color="#4454c3"/><stop offset="0.55" stop-color="#4249b1"/><stop offset="0.62" stop-color="#4040a2"/><stop offset="0.72" stop-color="#3f3b97"/><stop offset="0.85" stop-color="#3e3891"/><stop offset="1" stop-color="#3c3286"/></linearGradient><linearGradient id="l60" x1="0" y1="0" x2="0" y2="1"><stop offset="0" stop-color="#1bd0d5"/><stop offset="0.05" stop-color="#25c0e7"/><stop offset="0.11" stop-color="#2fb2f4"/><stop offset="0.17" stop-color="#3ba0fd"/><stop offset="0.24" stop-color="#458cfd"/><stop offset="0.29" stop-color="#467df4"/><stop offset="0.36" stop-color="#466be3"/><stop offset="0.42" stop-color="#455ccf"/><stop offset="0.49" stop-color="#4454c3"/><stop offset="0.55" stop-color="#4249b1"/><stop offset="0.62" stop-color="#4040a2"/><stop offset="0.72" stop-color="#3f3b97"/><stop offset="0.85" stop-color="#3e3891"/><stop offset="1" stop-color="#3c3286"/></linearGradient><linearGradient id="l61" x1="0" y1="0" x2="0" y2="1"><stop offset="0" stop-color="#1bd0d5"/><stop offset="0.05" stop-color="#25c0e7"/><stop offset="0.11" stop-color="#2fb2f4"/><stop offset="0.17" stop-color="#3ba0fd"/><stop offset="0.24" stop-color="#458cfd"/><stop offset="0.29" stop-color="#4680f6"/><stop offset="0.36" stop-color="#466be3"/><stop offset="0.42" stop-color="#455ccf"/><stop offset="0.49" stop-color="#4454c3"/><stop offset="0.55" stop-color="#4249b1"/><stop offset="0.62" stop-color="#4040a2"/><stop offset="0.72" stop-color="#3f3b97"/><stop offset="0.85" stop-color="#3e3891"/><stop offset="1" stop-color="#3c3286"/></linearGradient><linearGradient id="l62" x1="0" y1="0" x2="0" y2="1"><stop offset="0" stop-color="#18dbc5"/><stop offset="0.05" stop-color="#1fc9dd"/><stop offset="0.11" stop-color="#28bceb"/><stop offset="0.17" stop-color="#37a8fa"/><stop offset="0.24" stop-color="#4294ff"/><stop offset="0.29" stop-color="#4682f8"/><stop offset="0.36" stop-color="#466be3"/><stop offset="0.42" stop-color="#455ccf"/><stop offset="0.49" stop-color="#4454c3"/><stop offset="0.55" stop-color="#4249b1"/><stop offset="0.62" stop-color="#4040a2"/><stop offset="0.72" stop-color="#3f3b97"/><stop offset="0.85" stop-color="#3e3891"/><stop offset="1" stop-color="#3c3286"/></linearGradient><linearGradient id="l63" x1="0" y1="0" x2="0" y2="1"><stop offset="0" stop-color="#1bd0d5"/><stop offset="0.05" stop-color="#25c0e7"/><stop offset="0.11" stop-color="#2fb2f4"/><stop offset="0.17" stop-color="#3ba0fd"/><stop offset="0.24" stop-color="#458cfd"/><stop offset="0.29" stop-color="#467df4"/><stop offset="0.36" stop-color="#466be3"/><stop offset="0.42" stop-color="#455ccf"/><stop offset="0.49" stop-color="#4454c3"/><stop offset="0.55" stop-color="#4249b1"/><stop offset="0.62" stop-color="#4040a2"/><stop offset="0.72" stop-color="#3f3b97"/><stop offset="0.85" stop-color="#3e3891"/><stop offset="1" stop-color="#3c3286"/></linearGradient><linearGradient id="l64" x1="0" y1="0" x2="0" y2="1"><stop offset="0" stop-color="#1bd0d5"/><stop offset="0.05" stop-color="#23c3e4"/><stop offset="0.11" stop-color="#2eb4f2"/><stop offset="0.17" stop-color="#3aa3fc"/><stop offset="0.24" stop-color="#448ffe"/><stop offset="0.29" stop-color="#4680f6"/><stop offset="0.36" stop-color="#466be3"/><stop offset="0.42" stop-color="#455ccf"/><stop offset="0.49" stop-color="#4454c3"/><stop offset="0.55" stop-color="#4249b1"/><stop offset="0.62" stop-color="#4040a2"/><stop offset="0.72" stop-color="#3f3b97"/><stop offset="0.85" stop-color="#3e3891"/><stop offset="1" stop-color="#3c3286"/></linearGradient><linearGradient id="l65" x1="0" y1="0" x2="0" y2="1"><stop offset="0" stop-color="#1bd0d5"/><stop offset="0.05" stop-color="#23c3e4"/><stop offset="0.11" stop-color="#2eb4f2"/><stop offset="0.17" stop-color="#3aa3fc"/><stop offset="0.24" stop-color="#448ffe"/><stop offset="0.29" stop-color="#4680f6"/><stop offset="0.36" stop-color="#466be3"/><stop offset="0.42" stop-color="#455ccf"/><stop offset="0.49" stop-color="#4454c3"/><stop offset="0.55" stop-color="#4249b1"/><stop offset="0.62" stop-color="#4040a2"/><stop offset="0.72" stop-color="#3f3b97"/><stop offset="0.85" stop-color="#3e3891"/><stop offset="1" stop-color="#3c3286"/></linearGradient><linearGradient id="l66" x1="0" y1="0" x2="0" y2="1"><stop offset="0" stop-color="#1bd0d5"/><stop offset="0.05" stop-color="#23c3e4"/><stop offset="0.11" stop-color="#2eb4f2"/><stop offset="0.17" stop-color="#38a5fb"/><stop offset="0.24" stop-color="#448ffe"/><stop offset="0.29" stop-color="#4680f6"/><stop offset="0.36" stop-color="#466be3"/><stop offset="0.42" stop-color="#455ccf"/><stop offset="0.49" stop-color="#4454c3"/><stop offset="0.55" stop-color="#4249b1"/><stop offset="0.62" stop-color="#4040a2"/><stop offset="0.72" stop-color="#3f3b97"/><stop offset="0.85" stop-color="#3e3891"/><stop offset="1" stop-color="#3c3286"/></linearGradient><linearGradient id="l67" x1="0" y1="0" x2="0" y2="1"><stop offset="0" stop-color="#1bd0d5"/><stop offset="0.05" stop-color="#23c3e4"/><stop offset="0.11" stop-color="#2eb4f2"/><stop offset="0.17" stop-color="#38a5fb"/><stop offset="0.24" stop-color="#4391fe"/><stop offset="0.29" stop-color="#4680f6"/><stop offset="0.36" stop-color="#466be3"/><stop offset="0.42" stop-color="#455ccf"/><stop offset="0.49" stop-color="#4454c3"/><stop offset="0.55" stop-color="#4249b1"/><stop offset="0.62" stop-color="#4040a2"/><stop offset="0.72" stop-color="#3f3b97"/><stop offset="0.85" stop-color="#3e3891"/><stop offset="1" stop-color="#3c3286"/></linearGradient><linearGradient id="gedge" x1="0" y1="0" x2="0" y2="1"><stop offset="0" stop-color="#e8d040"/><stop offset="0.2" stop-color="#b0f040"/><stop offset="0.35" stop-color="#40e0c0"/><stop offset="0.6" stop-color="#40a0f8"/><stop offset="0.8" stop-color="#4860d0"/><stop offset="1" stop-color="#4a4ab0"/></linearGradient><linearGradient id="ge0" x1="0" y1="0" x2="0" y2="1"><stop offset="0" stop-color="#e5470b"/><stop offset="0.02" stop-color="#da3907"/><stop offset="0.04" stop-color="#e2430a"/><stop offset="0.05" stop-color="#e7490c"/><stop offset="0.05" stop-color="#eb500e"/><stop offset="0.07" stop-color="#f56918"/><stop offset="0.09" stop-color="#fc8423"/><stop offset="0.11" stop-color="#fea130"/><stop offset="0.12" stop-color="#faba39"/><stop offset="0.13" stop-color="#e7d739"/><stop offset="0.15" stop-color="#b9f635"/><stop offset="0.17" stop-color="#99fe42"/><stop offset="0.19" stop-color="#75fe5c"/><stop offset="0.21" stop-color="#3cf58e"/><stop offset="0.23" stop-color="#1ae4b6"/><stop offset="0.25" stop-color="#19d5cd"/><stop offset="0.27" stop-color="#1bd0d5"/><stop offset="0.28" stop-color="#1ecbda"/><stop offset="0.31" stop-color="#23c3e4"/><stop offset="0.34" stop-color="#2cb7f0"/><stop offset="0.35" stop-color="#2eb4f2"/><stop offset="0.39" stop-color="#3aa3fc"/><stop offset="0.43" stop-color="#4294ff"/><stop offset="0.44" stop-color="#448ffe"/><stop offset="0.48" stop-color="#4680f6"/><stop offset="0.53" stop-color="#466be3"/><stop offset="0.58" stop-color="#455ccf"/><stop offset="0.62" stop-color="#4454c3"/><stop offset="0.67" stop-color="#4249b1"/><stop offset="0.72" stop-color="#4040a2"/><stop offset="0.77" stop-color="#3f3e9c"/><stop offset="0.79" stop-color="#3f3b97"/><stop offset="0.89" stop-color="#3e3891"/><stop offset="0.96" stop-color="#3d358b"/><stop offset="1" stop-color="#3c3286"/></linearGradient><linearGradient id="ge1" x1="0" y1="0" x2="0" y2="1"><stop offset="0" stop-color="#b1f936"/><stop offset="0.02" stop-color="#c3f134"/><stop offset="0.04" stop-color="#c3f134"/><stop offset="0.05" stop-color="#c6f034"/><stop offset="0.05" stop-color="#c8ef34"/><stop offset="0.07" stop-color="#c8ef34"/><stop offset="0.09" stop-color="#cbed34"/><stop offset="0.11" stop-color="#cbed34"/><stop offset="0.12" stop-color="#c3f134"/><stop offset="0.13" stop-color="#b4f836"/><stop offset="0.15" stop-color="#92ff47"/><stop offset="0.17" stop-color="#7dff56"/><stop offset="0.19" stop-color="#6dfe62"/><stop offset="0.21" stop-color="#3cf58e"/><stop offset="0.23" stop-color="#1ae4b6"/><stop offset="0.25" stop-color="#19d5cd"/><stop offset="0.27" stop-color="#1bd0d5"/><stop offset="0.28" stop-color="#1ecbda"/><stop offset="0.31" stop-color="#23c3e4"/><stop offset="0.34" stop-color="#2cb7f0"/><stop offset="0.35" stop-color="#2eb4f2"/><stop offset="0.39" stop-color="#3aa3fc"/><stop offset="0.43" stop-color="#4294ff"/><stop offset="0.44" stop-color="#448ffe"/><stop offset="0.48" stop-color="#4680f6"/><stop offset="0.53" stop-color="#466be3"/><stop offset="0.58" stop-color="#455ccf"/><stop offset="0.62" stop-color="#4454c3"/><stop offset="0.67" stop-color="#4249b1"/><stop offset="0.72" stop-color="#4040a2"/><stop offset="0.77" stop-color="#3f3e9c"/><stop offset="0.79" stop-color="#3f3b97"/><stop offset="0.89" stop-color="#3e3891"/><stop offset="0.96" stop-color="#3d358b"/><stop offset="1" stop-color="#3c3286"/></linearGradient><linearGradient id="ge2" x1="0" y1="0" x2="0" y2="1"><stop offset="0" stop-color="#1fc9dd"/><stop offset="0.02" stop-color="#1ad4d0"/><stop offset="0.04" stop-color="#18d7ca"/><stop offset="0.05" stop-color="#18dbc5"/><stop offset="0.05" stop-color="#18ddc2"/><stop offset="0.07" stop-color="#18dec0"/><stop offset="0.09" stop-color="#19e2bb"/><stop offset="0.11" stop-color="#1ae4b6"/><stop offset="0.12" stop-color="#1ae4b6"/><stop offset="0.13" stop-color="#18e0bd"/><stop offset="0.15" stop-color="#19d5cd"/><stop offset="0.17" stop-color="#1ad2d2"/><stop offset="0.19" stop-color="#1ccdd8"/><stop offset="0.21" stop-color="#25c0e7"/><stop offset="0.23" stop-color="#2fb2f4"/><stop offset="0.25" stop-color="#35abf8"/><stop offset="0.27" stop-color="#35abf8"/><stop offset="0.28" stop-color="#35abf8"/><stop offset="0.31" stop-color="#33adf7"/><stop offset="0.34" stop-color="#33adf7"/><stop offset="0.35" stop-color="#33adf7"/><stop offset="0.39" stop-color="#3aa3fc"/><stop offset="0.43" stop-color="#4294ff"/><stop offset="0.44" stop-color="#448ffe"/><stop offset="0.48" stop-color="#4680f6"/><stop offset="0.53" stop-color="#466be3"/><stop offset="0.58" stop-color="#455ccf"/><stop offset="0.62" stop-color="#4454c3"/><stop offset="0.67" stop-color="#4249b1"/><stop offset="0.72" stop-color="#4040a2"/><stop offset="0.77" stop-color="#3f3e9c"/><stop offset="0.79" stop-color="#3f3b97"/><stop offset="0.89" stop-color="#3e3891"/><stop offset="0.96" stop-color="#3d358b"/><stop offset="1" stop-color="#3c3286"/></linearGradient><linearGradient id="ge3" x1="0" y1="0" x2="0" y2="1"><stop offset="0" stop-color="#4454c3"/><stop offset="0.02" stop-color="#455ed3"/><stop offset="0.04" stop-color="#4666dd"/><stop offset="0.05" stop-color="#4669e0"/><stop offset="0.05" stop-color="#466be3"/><stop offset="0.07" stop-color="#4771e9"/><stop offset="0.09" stop-color="#4778f0"/><stop offset="0.11" stop-color="#467df4"/><stop offset="0.12" stop-color="#4680f6"/><stop offset="0.13" stop-color="#4680f6"/><stop offset="0.15" stop-color="#467df4"/><stop offset="0.17" stop-color="#467df4"/><stop offset="0.19" stop-color="#467df4"/><stop offset="0.21" stop-color="#4778f0"/><stop offset="0.23" stop-color="#4771e9"/><stop offset="0.25" stop-color="#476ee6"/><stop offset="0.27" stop-color="#4771e9"/><stop offset="0.28" stop-color="#4771e9"/><stop offset="0.31" stop-color="#4776ee"/><stop offset="0.34" stop-color="#4778f0"/><stop offset="0.35" stop-color="#4778f0"/><stop offset="0.39" stop-color="#477bf2"/><stop offset="0.43" stop-color="#4778f0"/><stop offset="0.44" stop-color="#4778f0"/><stop offset="0.48" stop-color="#4773eb"/><stop offset="0.53" stop-color="#466be3"/><stop offset="0.58" stop-color="#455ccf"/><stop offset="0.62" stop-color="#4454c3"/><stop offset="0.67" stop-color="#4249b1"/><stop offset="0.72" stop-color="#4040a2"/><stop offset="0.77" stop-color="#3f3e9c"/><stop offset="0.79" stop-color="#3f3b97"/><stop offset="0.89" stop-color="#3e3891"/><stop offset="0.96" stop-color="#3d358b"/><stop offset="1" stop-color="#3c3286"/></linearGradient><linearGradient id="ge4" x1="0" y1="0" x2="0" y2="1"><stop offset="0" stop-color="#30123b"/><stop offset="0.02" stop-color="#30123b"/><stop offset="0.04" stop-color="#33184a"/><stop offset="0.05" stop-color="#33184a"/><stop offset="0.05" stop-color="#341b51"/><stop offset="0.07" stop-color="#351e58"/><stop offset="0.09" stop-color="#372466"/><stop offset="0.11" stop-color="#392a73"/><stop offset="0.12" stop-color="#3b2f80"/><stop offset="0.13" stop-color="#3c3286"/><stop offset="0.15" stop-color="#3d358b"/><stop offset="0.17" stop-color="#3e3891"/><stop offset="0.19" stop-color="#3f3b97"/><stop offset="0.21" stop-color="#3f3b97"/><stop offset="0.23" stop-color="#3f3b97"/><stop offset="0.25" stop-color="#3f3e9c"/><stop offset="0.27" stop-color="#3f3e9c"/><stop offset="0.28" stop-color="#4040a2"/><stop offset="0.31" stop-color="#4146ac"/><stop offset="0.34" stop-color="#4249b1"/><stop offset="0.35" stop-color="#4249b1"/><stop offset="0.39" stop-color="#434eba"/><stop offset="0.43" stop-color="#4451bf"/><stop offset="0.44" stop-color="#4451bf"/><stop offset="0.48" stop-color="#4451bf"/><stop offset="0.53" stop-color="#424bb5"/><stop offset="0.58" stop-color="#4249b1"/><stop offset="0.62" stop-color="#4249b1"/><stop offset="0.67" stop-color="#4146ac"/><stop offset="0.72" stop-color="#4040a2"/><stop offset="0.77" stop-color="#3f3e9c"/><stop offset="0.79" stop-color="#3f3b97"/><stop offset="0.89" stop-color="#3e3891"/><stop offset="0.96" stop-color="#3d358b"/><stop offset="1" stop-color="#3c3286"/></linearGradient><linearGradient id="ge5" x1="0" y1="0" x2="0" y2="1"><stop offset="0" stop-color="#30123b"/><stop offset="0.02" stop-color="#30123b"/><stop offset="0.04" stop-color="#30123b"/><stop offset="0.05" stop-color="#30123b"/><stop offset="0.05" stop-color="#30123b"/><stop offset="0.07" stop-color="#30123b"/><stop offset="0.09" stop-color="#30123b"/><stop offset="0.11" stop-color="#30123b"/><stop offset="0.12" stop-color="#30123b"/><stop offset="0.13" stop-color="#30123b"/><stop offset="0.15" stop-color="#30123b"/><stop offset="0.17" stop-color="#30123b"/><stop offset="0.19" stop-color="#30123b"/><stop offset="0.21" stop-color="#321543"/><stop offset="0.23" stop-color="#321543"/><stop offset="0.25" stop-color="#33184a"/><stop offset="0.27" stop-color="#341b51"/><stop offset="0.28" stop-color="#341b51"/><stop offset="0.31" stop-color="#36215f"/><stop offset="0.34" stop-color="#372466"/><stop offset="0.35" stop-color="#372466"/><stop offset="0.39" stop-color="#3a2d79"/><stop offset="0.43" stop-color="#3b2f80"/><stop offset="0.44" stop-color="#3b2f80"/><stop offset="0.48" stop-color="#3c3286"/><stop offset="0.53" stop-color="#3c3286"/><stop offset="0.58" stop-color="#3c3286"/><stop offset="0.62" stop-color="#3c3286"/><stop offset="0.67" stop-color="#3c3286"/><stop offset="0.72" stop-color="#3c3286"/><stop offset="0.77" stop-color="#3d358b"/><stop offset="0.79" stop-color="#3d358b"/><stop offset="0.89" stop-color="#3e3891"/><stop offset="0.96" stop-color="#3d358b"/><stop offset="1" stop-color="#3c3286"/></linearGradient><linearGradient id="ge6" x1="0" y1="0" x2="0" y2="1"><stop offset="0" stop-color="#30123b"/><stop offset="0.02" stop-color="#30123b"/><stop offset="0.04" stop-color="#30123b"/><stop offset="0.05" stop-color="#30123b"/><stop offset="0.05" stop-color="#30123b"/><stop offset="0.07" stop-color="#30123b"/><stop offset="0.09" stop-color="#30123b"/><stop offset="0.11" stop-color="#30123b"/><stop offset="0.12" stop-color="#30123b"/><stop offset="0.13" stop-color="#30123b"/><stop offset="0.15" stop-color="#30123b"/><stop offset="0.17" stop-color="#30123b"/><stop offset="0.19" stop-color="#30123b"/><stop offset="0.21" stop-color="#30123b"/><stop offset="0.23" stop-color="#30123b"/><stop offset="0.25" stop-color="#30123b"/><stop offset="0.27" stop-color="#30123b"/><stop offset="0.28" stop-color="#30123b"/><stop offset="0.31" stop-color="#30123b"/><stop offset="0.34" stop-color="#30123b"/><stop offset="0.35" stop-color="#30123b"/><stop offset="0.39" stop-color="#321543"/><stop offset="0.43" stop-color="#33184a"/><stop offset="0.44" stop-color="#33184a"/><stop offset="0.48" stop-color="#341b51"/><stop offset="0.53" stop-color="#351e58"/><stop offset="0.58" stop-color="#351e58"/><stop offset="0.62" stop-color="#36215f"/><stop offset="0.67" stop-color="#372466"/><stop offset="0.72" stop-color="#372466"/><stop offset="0.77" stop-color="#38276d"/><stop offset="0.79" stop-color="#38276d"/><stop offset="0.89" stop-color="#3a2d79"/><stop offset="0.96" stop-color="#3b2f80"/><stop offset="1" stop-color="#3c3286"/></linearGradient><linearGradient id="ge7" x1="0" y1="0" x2="0" y2="1"><stop offset="0" stop-color="#30123b"/><stop offset="0.02" stop-color="#30123b"/><stop offset="0.04" stop-color="#30123b"/><stop offset="0.05" stop-color="#30123b"/><stop offset="0.05" stop-color="#30123b"/><stop offset="0.07" stop-color="#30123b"/><stop offset="0.09" stop-color="#30123b"/><stop offset="0.11" stop-color="#30123b"/><stop offset="0.12" stop-color="#30123b"/><stop offset="0.13" stop-color="#30123b"/><stop offset="0.15" stop-color="#30123b"/><stop offset="0.17" stop-color="#30123b"/><stop offset="0.19" stop-color="#30123b"/><stop offset="0.21" stop-color="#30123b"/><stop offset="0.23" stop-color="#30123b"/><stop offset="0.25" stop-color="#30123b"/><stop offset="0.27" stop-color="#30123b"/><stop offset="0.28" stop-color="#30123b"/><stop offset="0.31" stop-color="#30123b"/><stop offset="0.34" stop-color="#30123b"/><stop offset="0.35" stop-color="#30123b"/><stop offset="0.39" stop-color="#30123b"/><stop offset="0.43" stop-color="#30123b"/><stop offset="0.44" stop-color="#30123b"/><stop offset="0.48" stop-color="#30123b"/><stop offset="0.53" stop-color="#30123b"/><stop offset="0.58" stop-color="#30123b"/><stop offset="0.62" stop-color="#321543"/><stop offset="0.67" stop-color="#33184a"/><stop offset="0.72" stop-color="#33184a"/><stop offset="0.77" stop-color="#341b51"/><stop offset="0.79" stop-color="#341b51"/><stop offset="0.89" stop-color="#36215f"/><stop offset="0.96" stop-color="#372466"/><stop offset="1" stop-color="#372466"/></linearGradient><linearGradient id="ge8" x1="0" y1="0" x2="0" y2="1"><stop offset="0" stop-color="#30123b"/><stop offset="0.02" stop-color="#30123b"/><stop offset="0.04" stop-color="#30123b"/><stop offset="0.05" stop-color="#30123b"/><stop offset="0.05" stop-color="#30123b"/><stop offset="0.07" stop-color="#30123b"/><stop offset="0.09" stop-color="#30123b"/><stop offset="0.11" stop-color="#30123b"/><stop offset="0.12" stop-color="#30123b"/><stop offset="0.13" stop-color="#30123b"/><stop offset="0.15" stop-color="#30123b"/><stop offset="0.17" stop-color="#30123b"/><stop offset="0.19" stop-color="#30123b"/><stop offset="0.21" stop-color="#30123b"/><stop offset="0.23" stop-color="#30123b"/><stop offset="0.25" stop-color="#30123b"/><stop offset="0.27" stop-color="#30123b"/><stop offset="0.28" stop-color="#30123b"/><stop offset="0.31" stop-color="#30123b"/><stop offset="0.34" stop-color="#30123b"/><stop offset="0.35" stop-color="#30123b"/><stop offset="0.39" stop-color="#30123b"/><stop offset="0.43" stop-color="#30123b"/><stop offset="0.44" stop-color="#30123b"/><stop offset="0.48" stop-color="#30123b"/><stop offset="0.53" stop-color="#30123b"/><stop offset="0.58" stop-color="#30123b"/><stop offset="0.62" stop-color="#30123b"/><stop offset="0.67" stop-color="#30123b"/><stop offset="0.72" stop-color="#30123b"/><stop offset="0.77" stop-color="#30123b"/><stop offset="0.79" stop-color="#30123b"/><stop offset="0.89" stop-color="#33184a"/><stop offset="0.96" stop-color="#341b51"/><stop offset="1" stop-color="#341b51"/></linearGradient><linearGradient id="ge9" x1="0" y1="0" x2="0" y2="1"><stop offset="0" stop-color="#30123b"/><stop offset="0.02" stop-color="#30123b"/><stop offset="0.04" stop-color="#30123b"/><stop offset="0.05" stop-color="#30123b"/><stop offset="0.05" stop-color="#30123b"/><stop offset="0.07" stop-color="#30123b"/><stop offset="0.09" stop-color="#30123b"/><stop offset="0.11" stop-color="#30123b"/><stop offset="0.12" stop-color="#30123b"/><stop offset="0.13" stop-color="#30123b"/><stop offset="0.15" stop-color="#30123b"/><stop offset="0.17" stop-color="#30123b"/><stop offset="0.19" stop-color="#30123b"/><stop offset="0.21" stop-color="#30123b"/><stop offset="0.23" stop-color="#30123b"/><stop offset="0.25" stop-color="#30123b"/><stop offset="0.27" stop-color="#30123b"/><stop offset="0.28" stop-color="#30123b"/><stop offset="0.31" stop-color="#30123b"/><stop offset="0.34" stop-color="#30123b"/><stop offset="0.35" stop-color="#30123b"/><stop offset="0.39" stop-color="#30123b"/><stop offset="0.43" stop-color="#30123b"/><stop offset="0.44" stop-color="#30123b"/><stop offset="0.48" stop-color="#30123b"/><stop offset="0.53" stop-color="#30123b"/><stop offset="0.58" stop-color="#30123b"/><stop offset="0.62" stop-color="#30123b"/><stop offset="0.67" stop-color="#30123b"/><stop offset="0.72" stop-color="#30123b"/><stop offset="0.77" stop-color="#30123b"/><stop offset="0.79" stop-color="#30123b"/><stop offset="0.89" stop-color="#30123b"/><stop offset="0.96" stop-color="#30123b"/><stop offset="1" stop-color="#321543"/></linearGradient><linearGradient id="ge10" x1="0" y1="0" x2="0" y2="1"><stop offset="0" stop-color="#30123b"/><stop offset="0.02" stop-color="#30123b"/><stop offset="0.04" stop-color="#30123b"/><stop offset="0.05" stop-color="#30123b"/><stop offset="0.05" stop-color="#30123b"/><stop offset="0.07" stop-color="#30123b"/><stop offset="0.09" stop-color="#30123b"/><stop offset="0.11" stop-color="#30123b"/><stop offset="0.12" stop-color="#30123b"/><stop offset="0.13" stop-color="#30123b"/><stop offset="0.15" stop-color="#30123b"/><stop offset="0.17" stop-color="#30123b"/><stop offset="0.19" stop-color="#30123b"/><stop offset="0.21" stop-color="#30123b"/><stop offset="0.23" stop-color="#30123b"/><stop offset="0.25" stop-color="#30123b"/><stop offset="0.27" stop-color="#30123b"/><stop offset="0.28" stop-color="#30123b"/><stop offset="0.31" stop-color="#30123b"/><stop offset="0.34" stop-color="#30123b"/><stop offset="0.35" stop-color="#30123b"/><stop offset="0.39" stop-color="#30123b"/><stop offset="0.43" stop-color="#30123b"/><stop offset="0.44" stop-color="#30123b"/><stop offset="0.48" stop-color="#30123b"/><stop offset="0.53" stop-color="#30123b"/><stop offset="0.58" stop-color="#30123b"/><stop offset="0.62" stop-color="#30123b"/><stop offset="0.67" stop-color="#30123b"/><stop offset="0.72" stop-color="#30123b"/><stop offset="0.77" stop-color="#30123b"/><stop offset="0.79" stop-color="#30123b"/><stop offset="0.89" stop-color="#30123b"/><stop offset="0.96" stop-color="#30123b"/><stop offset="1" stop-color="#30123b"/></linearGradient><linearGradient id="ge11" x1="0" y1="0" x2="0" y2="1"><stop offset="0" stop-color="#30123b"/><stop offset="0.02" stop-color="#30123b"/><stop offset="0.04" stop-color="#30123b"/><stop offset="0.05" stop-color="#30123b"/><stop offset="0.05" stop-color="#30123b"/><stop offset="0.07" stop-color="#30123b"/><stop offset="0.09" stop-color="#30123b"/><stop offset="0.11" stop-color="#30123b"/><stop offset="0.12" stop-color="#30123b"/><stop offset="0.13" stop-color="#30123b"/><stop offset="0.15" stop-color="#30123b"/><stop offset="0.17" stop-color="#30123b"/><stop offset="0.19" stop-color="#30123b"/><stop offset="0.21" stop-color="#30123b"/><stop offset="0.23" stop-color="#30123b"/><stop offset="0.25" stop-color="#30123b"/><stop offset="0.27" stop-color="#30123b"/><stop offset="0.28" stop-color="#30123b"/><stop offset="0.31" stop-color="#30123b"/><stop offset="0.34" stop-color="#30123b"/><stop offset="0.35" stop-color="#30123b"/><stop offset="0.39" stop-color="#30123b"/><stop offset="0.43" stop-color="#30123b"/><stop offset="0.44" stop-color="#30123b"/><stop offset="0.48" stop-color="#30123b"/><stop offset="0.53" stop-color="#30123b"/><stop offset="0.58" stop-color="#30123b"/><stop offset="0.62" stop-color="#30123b"/><stop offset="0.67" stop-color="#30123b"/><stop offset="0.72" stop-color="#30123b"/><stop offset="0.77" stop-color="#30123b"/><stop offset="0.79" stop-color="#30123b"/><stop offset="0.89" stop-color="#30123b"/><stop offset="0.96" stop-color="#30123b"/><stop offset="1" stop-color="#30123b"/></linearGradient><linearGradient id="ge12" x1="0" y1="0" x2="0" y2="1"><stop offset="0" stop-color="#30123b"/><stop offset="0.02" stop-color="#30123b"/><stop offset="0.04" stop-color="#30123b"/><stop offset="0.05" stop-color="#30123b"/><stop offset="0.05" stop-color="#30123b"/><stop offset="0.07" stop-color="#30123b"/><stop offset="0.09" stop-color="#30123b"/><stop offset="0.11" stop-color="#30123b"/><stop offset="0.12" stop-color="#30123b"/><stop offset="0.13" stop-color="#30123b"/><stop offset="0.15" stop-color="#30123b"/><stop offset="0.17" stop-color="#30123b"/><stop offset="0.19" stop-color="#30123b"/><stop offset="0.21" stop-color="#30123b"/><stop offset="0.23" stop-color="#30123b"/><stop offset="0.25" stop-color="#30123b"/><stop offset="0.27" stop-color="#30123b"/><stop offset="0.28" stop-color="#30123b"/><stop offset="0.31" stop-color="#30123b"/><stop offset="0.34" stop-color="#30123b"/><stop offset="0.35" stop-color="#30123b"/><stop offset="0.39" stop-color="#30123b"/><stop offset="0.43" stop-color="#30123b"/><stop offset="0.44" stop-color="#30123b"/><stop offset="0.48" stop-color="#30123b"/><stop offset="0.53" stop-color="#30123b"/><stop offset="0.58" stop-color="#30123b"/><stop offset="0.62" stop-color="#30123b"/><stop offset="0.67" stop-color="#30123b"/><stop offset="0.72" stop-color="#30123b"/><stop offset="0.77" stop-color="#30123b"/><stop offset="0.79" stop-color="#30123b"/><stop offset="0.89" stop-color="#30123b"/><stop offset="0.96" stop-color="#30123b"/><stop offset="1" stop-color="#30123b"/></linearGradient><filter id="vblur" x="0" y="0" width="1" height="1"><feGaussianBlur stdDeviation="0.6 1.1"/></filter><clipPath id="clip2"><rect x="74.5" y="273.5" width="1155" height="208"/></clipPath><linearGradient id="v0" x1="0" y1="0" x2="1" y2="0"><stop offset="0" stop-color="#ffbdbd"/><stop offset="0.29" stop-color="#ffc5c5"/><stop offset="0.52" stop-color="#ffe5e5"/><stop offset="0.75" stop-color="#e5e5ff"/><stop offset="1" stop-color="#ddddff"/></linearGradient><linearGradient id="v1" x1="0" y1="0" x2="1" y2="0"><stop offset="0" stop-color="#e1e1ff"/><stop offset="0.28" stop-color="#e5e5ff"/><stop offset="0.65" stop-color="#e1e1ff"/><stop offset="1" stop-color="#ddddff"/></linearGradient><linearGradient id="v2" x1="0" y1="0" x2="1" y2="0"><stop offset="0" stop-color="#ffdddd"/><stop offset="0.29" stop-color="#ffe1e1"/><stop offset="0.52" stop-color="#fff1f1"/><stop offset="0.75" stop-color="#e1e1ff"/><stop offset="1" stop-color="#ddddff"/></linearGradient><linearGradient id="v3" x1="0" y1="0" x2="1" y2="0"><stop offset="0" stop-color="#e1e1ff"/><stop offset="0.28" stop-color="#e5e5ff"/><stop offset="0.65" stop-color="#e1e1ff"/><stop offset="1" stop-color="#ddddff"/></linearGradient><linearGradient id="v4" x1="0" y1="0" x2="1" y2="0"><stop offset="0" stop-color="#fff9f9"/><stop offset="0.29" stop-color="#fff9f9"/><stop offset="0.52" stop-color="#fff9f9"/><stop offset="0.75" stop-color="#fffdfd"/><stop offset="1" stop-color="#fffdfd"/></linearGradient><linearGradient id="v5" x1="0" y1="0" x2="1" y2="0"><stop offset="0" stop-color="#fffdfd"/><stop offset="0.28" stop-color="#fffdfd"/><stop offset="0.65" stop-color="#fffdfd"/><stop offset="1" stop-color="#fffdfd"/></linearGradient><linearGradient id="v6" x1="0" y1="0" x2="1" y2="0"><stop offset="0" stop-color="#ffeded"/><stop offset="0.29" stop-color="#ffe9e9"/><stop offset="0.52" stop-color="#ffe5e5"/><stop offset="0.75" stop-color="#ffe5e5"/><stop offset="1" stop-color="#ffe9e9"/></linearGradient><linearGradient id="v7" x1="0" y1="0" x2="1" y2="0"><stop offset="0" stop-color="#ffe9e9"/><stop offset="0.28" stop-color="#ffe9e9"/><stop offset="0.65" stop-color="#ffe5e5"/><stop offset="1" stop-color="#ffe5e5"/></linearGradient><linearGradient id="v8" x1="0" y1="0" x2="1" y2="0"><stop offset="0" stop-color="#ffe9e9"/><stop offset="0.29" stop-color="#ffe9e9"/><stop offset="0.52" stop-color="#ffe9e9"/><stop offset="0.75" stop-color="#ffe9e9"/><stop offset="1" stop-color="#ffe9e9"/></linearGradient><linearGradient id="v9" x1="0" y1="0" x2="1" y2="0"><stop offset="0" stop-color="#ffe9e9"/><stop offset="0.28" stop-color="#ffe9e9"/><stop offset="0.65" stop-color="#ffe9e9"/><stop offset="1" stop-color="#ffe5e5"/></linearGradient><linearGradient id="v10" x1="0" y1="0" x2="1" y2="0"><stop offset="0" stop-color="#d1d1ff"/><stop offset="0.29" stop-color="#d9d9ff"/><stop offset="0.52" stop-color="#e9e9ff"/><stop offset="0.75" stop-color="#f1f1ff"/><stop offset="1" stop-color="#f5f5ff"/></linearGradient><linearGradient id="v11" x1="0" y1="0" x2="1" y2="0"><stop offset="0" stop-color="#f5f5ff"/><stop offset="0.28" stop-color="#f5f5ff"/><stop offset="0.65" stop-color="#f9f9ff"/><stop offset="1" stop-color="#f9f9ff"/></linearGradient><linearGradient id="v12" x1="0" y1="0" x2="1" y2="0"><stop offset="0" stop-color="#f9f9ff"/><stop offset="0.29" stop-color="#f9f9ff"/><stop offset="0.52" stop-color="#fffdfd"/><stop offset="0.75" stop-color="#fff9f9"/><stop offset="1" stop-color="#fff9f9"/></linearGradient><linearGradient id="v13" x1="0" y1="0" x2="1" y2="0"><stop offset="0" stop-color="#fff9f9"/><stop offset="0.28" stop-color="#fff5f5"/><stop offset="0.65" stop-color="#fff5f5"/><stop offset="1" stop-color="#fff5f5"/></linearGradient><linearGradient id="v14" x1="0" y1="0" x2="1" y2="0"><stop offset="0" stop-color="#f1f1ff"/><stop offset="0.29" stop-color="#f5f5ff"/><stop offset="0.52" stop-color="#f9f9ff"/><stop offset="0.75" stop-color="#fffdfd"/><stop offset="1" stop-color="#fffdfd"/></linearGradient><linearGradient id="v15" x1="0" y1="0" x2="1" y2="0"><stop offset="0" stop-color="#fffdfd"/><stop offset="0.28" stop-color="#fff9f9"/><stop offset="0.65" stop-color="#fff9f9"/><stop offset="1" stop-color="#fff9f9"/></linearGradient><linearGradient id="v16" x1="0" y1="0" x2="1" y2="0"><stop offset="0" stop-color="#f9f9ff"/><stop offset="0.29" stop-color="#f9f9ff"/><stop offset="0.52" stop-color="#fdfdff"/><stop offset="0.75" stop-color="#fff9f9"/><stop offset="1" stop-color="#fff9f9"/></linearGradient><linearGradient id="v17" x1="0" y1="0" x2="1" y2="0"><stop offset="0" stop-color="#fff9f9"/><stop offset="0.28" stop-color="#fff9f9"/><stop offset="0.65" stop-color="#fff9f9"/><stop offset="1" stop-color="#fff9f9"/></linearGradient><linearGradient id="v18" x1="0" y1="0" x2="1" y2="0"><stop offset="0" stop-color="#f5f5ff"/><stop offset="0.29" stop-color="#f9f9ff"/><stop offset="0.52" stop-color="#f9f9ff"/><stop offset="0.75" stop-color="#fdfdff"/><stop offset="1" stop-color="#fdfdff"/></linearGradient><linearGradient id="v19" x1="0" y1="0" x2="1" y2="0"><stop offset="0" stop-color="#ffe9e9"/><stop offset="0.29" stop-color="#ffeded"/><stop offset="0.52" stop-color="#fff1f1"/><stop offset="0.75" stop-color="#fff1f1"/><stop offset="1" stop-color="#fff1f1"/></linearGradient><linearGradient id="v20" x1="0" y1="0" x2="1" y2="0"><stop offset="0" stop-color="#fff1f1"/><stop offset="0.28" stop-color="#fff1f1"/><stop offset="0.65" stop-color="#fff5f5"/><stop offset="1" stop-color="#fff5f5"/></linearGradient><linearGradient id="v21" x1="0" y1="0" x2="1" y2="0"><stop offset="0" stop-color="#e9e9ff"/><stop offset="0.29" stop-color="#ededff"/><stop offset="0.52" stop-color="#f1f1ff"/><stop offset="0.75" stop-color="#f5f5ff"/><stop offset="1" stop-color="#f5f5ff"/></linearGradient><linearGradient id="v22" x1="0" y1="0" x2="1" y2="0"><stop offset="0" stop-color="#e1e1ff"/><stop offset="0.29" stop-color="#e1e1ff"/><stop offset="0.52" stop-color="#e9e9ff"/><stop offset="0.75" stop-color="#e9e9ff"/><stop offset="1" stop-color="#e9e9ff"/></linearGradient><linearGradient id="v23" x1="0" y1="0" x2="1" y2="0"><stop offset="0" stop-color="#e9e9ff"/><stop offset="0.28" stop-color="#e9e9ff"/><stop offset="0.65" stop-color="#e9e9ff"/><stop offset="1" stop-color="#e5e5ff"/></linearGradient><linearGradient id="v24" x1="0" y1="0" x2="1" y2="0"><stop offset="0" stop-color="#f9f9ff"/><stop offset="0.29" stop-color="#f9f9ff"/><stop offset="0.52" stop-color="#f9f9ff"/><stop offset="0.75" stop-color="#f9f9ff"/><stop offset="1" stop-color="#f9f9ff"/></linearGradient><linearGradient id="v25" x1="0" y1="0" x2="1" y2="0"><stop offset="0" stop-color="#fff9f9"/><stop offset="0.28" stop-color="#fff9f9"/><stop offset="0.65" stop-color="#fff9f9"/><stop offset="1" stop-color="#fff9f9"/></linearGradient><linearGradient id="v26" x1="0" y1="0" x2="1" y2="0"><stop offset="0" stop-color="#f1f1ff"/><stop offset="0.29" stop-color="#f1f1ff"/><stop offset="0.52" stop-color="#f1f1ff"/><stop offset="0.75" stop-color="#f1f1ff"/><stop offset="1" stop-color="#f1f1ff"/></linearGradient><linearGradient id="v27" x1="0" y1="0" x2="1" y2="0"><stop offset="0" stop-color="#f1f1ff"/><stop offset="0.28" stop-color="#f1f1ff"/><stop offset="0.65" stop-color="#f1f1ff"/><stop offset="1" stop-color="#f1f1ff"/></linearGradient><linearGradient id="v28" x1="0" y1="0" x2="1" y2="0"><stop offset="0" stop-color="#f1f1ff"/><stop offset="0.29" stop-color="#f5f5ff"/><stop offset="0.52" stop-color="#f9f9ff"/><stop offset="0.75" stop-color="#f9f9ff"/><stop offset="1" stop-color="#f9f9ff"/></linearGradient><linearGradient id="v29" x1="0" y1="0" x2="1" y2="0"><stop offset="0" stop-color="#f1f1ff"/><stop offset="0.29" stop-color="#f1f1ff"/><stop offset="0.52" stop-color="#f5f5ff"/><stop offset="0.75" stop-color="#f5f5ff"/><stop offset="1" stop-color="#f5f5ff"/></linearGradient><linearGradient id="v30" x1="0" y1="0" x2="1" y2="0"><stop offset="0" stop-color="#f9f9ff"/><stop offset="0.29" stop-color="#f9f9ff"/><stop offset="0.52" stop-color="#f9f9ff"/><stop offset="0.75" stop-color="#f9f9ff"/><stop offset="1" stop-color="#f9f9ff"/></linearGradient><linearGradient id="v31" x1="0" y1="0" x2="1" y2="0"><stop offset="0" stop-color="#fdfdff"/><stop offset="0.28" stop-color="#fdfdff"/><stop offset="0.65" stop-color="#fdfdff"/><stop offset="1" stop-color="#fdfdff"/></linearGradient><clipPath id="clip3"><rect x="74.5" y="481.5" width="1155" height="208"/></clipPath><linearGradient id="cbI" x1="0" y1="1" x2="0" y2="0"><stop offset="0" stop-color="#30123b"/><stop offset="0.03" stop-color="#392a73"/><stop offset="0.06" stop-color="#4040a2"/><stop offset="0.09" stop-color="#4456c7"/><stop offset="0.12" stop-color="#466be3"/><stop offset="0.16" stop-color="#4680f6"/><stop offset="0.19" stop-color="#4294ff"/><stop offset="0.22" stop-color="#37a8fa"/><stop offset="0.25" stop-color="#28bceb"/><stop offset="0.28" stop-color="#1ccdd8"/><stop offset="0.31" stop-color="#18ddc2"/><stop offset="0.34" stop-color="#1fe9af"/><stop offset="0.38" stop-color="#32f298"/><stop offset="0.41" stop-color="#4ef97d"/><stop offset="0.44" stop-color="#6dfe62"/><stop offset="0.47" stop-color="#8bff4b"/><stop offset="0.5" stop-color="#a4fc3c"/><stop offset="0.53" stop-color="#b9f635"/><stop offset="0.56" stop-color="#cdec34"/><stop offset="0.59" stop-color="#dfdf37"/><stop offset="0.62" stop-color="#eecf3a"/><stop offset="0.66" stop-color="#f8be39"/><stop offset="0.69" stop-color="#fdac34"/><stop offset="0.72" stop-color="#fe962b"/><stop offset="0.75" stop-color="#fb7e21"/><stop offset="0.78" stop-color="#f46617"/><stop offset="0.81" stop-color="#eb500e"/><stop offset="0.84" stop-color="#df3f08"/><stop offset="0.88" stop-color="#d02f05"/><stop offset="0.91" stop-color="#be2102"/><stop offset="0.94" stop-color="#a91601"/><stop offset="0.97" stop-color="#920b01"/><stop offset="1" stop-color="#7a0403"/></linearGradient><linearGradient id="cbV" x1="0" y1="1" x2="0" y2="0"><stop offset="0" stop-color="#00004d"/><stop offset="0.06" stop-color="#000079"/><stop offset="0.12" stop-color="#0000a6"/><stop offset="0.19" stop-color="#0000d3"/><stop offset="0.25" stop-color="#0101ff"/><stop offset="0.31" stop-color="#4141ff"/><stop offset="0.38" stop-color="#8181ff"/><stop offset="0.44" stop-color="#c1c1ff"/><stop offset="0.5" stop-color="#fffdfd"/><stop offset="0.56" stop-color="#ffbdbd"/><stop offset="0.62" stop-color="#ff7d7d"/><stop offset="0.69" stop-color="#ff3d3d"/><stop offset="0.75" stop-color="#fe0000"/><stop offset="0.81" stop-color="#de0000"/><stop offset="0.88" stop-color="#be0000"/><stop offset="0.94" stop-color="#9e0000"/><stop offset="1" stop-color="#800000"/></linearGradient></defs>
<g shape-rendering="crispEdges"><rect x="114" y="65.5" width="2.5" height="58.5" fill="url(#u0)"/><rect x="116.2" y="65.5" width="2.5" height="58.5" fill="url(#u1)"/><rect x="118.4" y="65.5" width="2.5" height="58.5" fill="url(#u2)"/><rect x="120.6" y="65.5" width="2.5" height="58.5" fill="url(#u3)"/><rect x="122.8" y="65.5" width="2.5" height="58.5" fill="url(#u2)"/><rect x="125" y="65.5" width="2.5" height="58.5" fill="url(#u1)"/><rect x="127.2" y="65.5" width="2.5" height="58.5" fill="url(#u2)"/><rect x="129.4" y="65.5" width="2.5" height="58.5" fill="url(#u4)"/><rect x="131.6" y="65.5" width="2.5" height="58.5" fill="url(#u5)"/><rect x="133.8" y="65.5" width="2.5" height="58.5" fill="url(#u1)"/><rect x="136" y="65.5" width="2.5" height="58.5" fill="url(#u2)"/><rect x="138.2" y="65.5" width="2.5" height="58.5" fill="url(#u1)"/><rect x="140.4" y="65.5" width="2.5" height="58.5" fill="url(#u5)"/><rect x="142.6" y="65.5" width="2.5" height="58.5" fill="url(#u4)"/><rect x="144.8" y="65.5" width="2.5" height="58.5" fill="url(#u2)"/><rect x="147" y="65.5" width="2.5" height="58.5" fill="url(#u1)"/><rect x="149.2" y="65.5" width="2.5" height="58.5" fill="url(#u5)"/><rect x="151.4" y="65.5" width="2.5" height="58.5" fill="url(#u6)"/><rect x="153.6" y="65.5" width="2.5" height="58.5" fill="url(#u2)"/><rect x="155.8" y="65.5" width="2.5" height="58.5" fill="url(#u1)"/><rect x="158" y="65.5" width="2.5" height="58.5" fill="url(#u5)"/><rect x="160.2" y="65.5" width="2.5" height="58.5" fill="url(#u1)"/><rect x="162.4" y="65.5" width="2.5" height="58.5" fill="url(#u5)"/><rect x="164.6" y="65.5" width="2.5" height="58.5" fill="url(#u6)"/><rect x="166.8" y="65.5" width="2.5" height="58.5" fill="url(#u5)"/><rect x="169" y="65.5" width="2.5" height="58.5" fill="url(#u4)"/><rect x="171.2" y="65.5" width="2.5" height="58.5" fill="url(#u5)"/><rect x="173.4" y="65.5" width="2.5" height="58.5" fill="url(#u1)"/><rect x="175.6" y="65.5" width="2.5" height="58.5" fill="url(#u2)"/><rect x="177.8" y="65.5" width="2.5" height="58.5" fill="url(#u1)"/><rect x="180" y="65.5" width="2.5" height="58.5" fill="url(#u2)"/><rect x="182.2" y="65.5" width="2.5" height="58.5" fill="url(#u1)"/><rect x="184.4" y="65.5" width="2.5" height="58.5" fill="url(#u2)"/><rect x="186.6" y="65.5" width="2.5" height="58.5" fill="url(#u1)"/><rect x="188.8" y="65.5" width="2.5" height="58.5" fill="url(#u5)"/><rect x="191" y="65.5" width="2.5" height="58.5" fill="url(#u1)"/><rect x="193.2" y="65.5" width="2.5" height="58.5" fill="url(#u2)"/><rect x="195.4" y="65.5" width="2.5" height="58.5" fill="url(#u1)"/><rect x="197.6" y="65.5" width="2.5" height="58.5" fill="url(#u1)"/><rect x="199.8" y="65.5" width="2.5" height="58.5" fill="url(#u3)"/><rect x="202" y="65.5" width="2.5" height="58.5" fill="url(#u1)"/><rect x="204.2" y="65.5" width="2.5" height="58.5" fill="url(#u7)"/><rect x="206.4" y="65.5" width="2.5" height="58.5" fill="url(#u3)"/><rect x="208.6" y="65.5" width="2.5" height="58.5" fill="url(#u7)"/><rect x="210.8" y="65.5" width="2.5" height="58.5" fill="url(#u3)"/><rect x="213" y="65.5" width="2.5" height="58.5" fill="url(#u8)"/><rect x="215.2" y="65.5" width="2.5" height="58.5" fill="url(#u9)"/><rect x="217.4" y="65.5" width="2.5" height="58.5" fill="url(#u10)"/><rect x="219.6" y="65.5" width="2.5" height="58.5" fill="url(#u11)"/><rect x="221.8" y="65.5" width="2.5" height="58.5" fill="url(#u12)"/><rect x="224" y="65.5" width="2.5" height="58.5" fill="url(#u11)"/><rect x="226.2" y="65.5" width="2.5" height="58.5" fill="url(#u13)"/><rect x="228.4" y="65.5" width="2.5" height="58.5" fill="url(#u8)"/><rect x="230.6" y="65.5" width="2.5" height="58.5" fill="url(#u12)"/><rect x="232.8" y="65.5" width="2.5" height="58.5" fill="url(#u10)"/><rect x="235" y="65.5" width="2.5" height="58.5" fill="url(#u14)"/><rect x="237.2" y="65.5" width="2.5" height="58.5" fill="url(#u10)"/><rect x="239.4" y="65.5" width="2.5" height="58.5" fill="url(#u15)"/><rect x="241.6" y="65.5" width="2.5" height="58.5" fill="url(#u12)"/><rect x="243.8" y="65.5" width="2.5" height="58.5" fill="url(#u15)"/><rect x="246" y="65.5" width="2.5" height="58.5" fill="url(#u14)"/><rect x="248.2" y="65.5" width="2.5" height="58.5" fill="url(#u15)"/><rect x="250.4" y="65.5" width="2.5" height="58.5" fill="url(#u14)"/><rect x="252.6" y="65.5" width="2.5" height="58.5" fill="url(#u16)"/><rect x="254.8" y="65.5" width="2.5" height="58.5" fill="url(#u17)"/><rect x="257" y="65.5" width="2.5" height="58.5" fill="url(#u18)"/><rect x="259.2" y="65.5" width="2.5" height="58.5" fill="url(#u19)"/><rect x="261.4" y="65.5" width="2.5" height="58.5" fill="url(#u20)"/><rect x="263.6" y="65.5" width="2.5" height="58.5" fill="url(#u16)"/><rect x="265.8" y="65.5" width="2.5" height="58.5" fill="url(#u21)"/><rect x="268" y="65.5" width="2.5" height="58.5" fill="url(#u16)"/><rect x="270.2" y="65.5" width="2.5" height="58.5" fill="url(#u21)"/><rect x="272.4" y="65.5" width="2.5" height="58.5" fill="url(#u20)"/><rect x="274.6" y="65.5" width="2.5" height="58.5" fill="url(#u22)"/><rect x="276.8" y="65.5" width="2.5" height="58.5" fill="url(#u20)"/><rect x="279" y="65.5" width="2.5" height="58.5" fill="url(#u23)"/><rect x="281.2" y="65.5" width="2.5" height="58.5" fill="url(#u21)"/><rect x="283.4" y="65.5" width="2.5" height="58.5" fill="url(#u24)"/><rect x="285.6" y="65.5" width="2.5" height="58.5" fill="url(#u23)"/><rect x="287.8" y="65.5" width="2.5" height="58.5" fill="url(#u25)"/><rect x="290" y="65.5" width="2.5" height="58.5" fill="url(#u23)"/><rect x="292.2" y="65.5" width="2.5" height="58.5" fill="url(#u26)"/><rect x="294.4" y="65.5" width="2.5" height="58.5" fill="url(#u27)"/><rect x="296.6" y="65.5" width="2.5" height="58.5" fill="url(#u25)"/><rect x="298.8" y="65.5" width="2.5" height="58.5" fill="url(#u28)"/><rect x="301" y="65.5" width="2.5" height="58.5" fill="url(#u29)"/><rect x="303.2" y="65.5" width="2.5" height="58.5" fill="url(#u28)"/><rect x="305.4" y="65.5" width="2.5" height="58.5" fill="url(#u26)"/><rect x="307.6" y="65.5" width="2.5" height="58.5" fill="url(#u28)"/><rect x="309.8" y="65.5" width="2.5" height="58.5" fill="url(#u29)"/><rect x="312" y="65.5" width="2.5" height="58.5" fill="url(#u28)"/><rect x="314.2" y="65.5" width="2.5" height="58.5" fill="url(#u29)"/><rect x="316.4" y="65.5" width="2.5" height="58.5" fill="url(#u24)"/><rect x="318.6" y="65.5" width="2.5" height="58.5" fill="url(#u29)"/><rect x="320.8" y="65.5" width="2.5" height="58.5" fill="url(#u24)"/><rect x="323" y="65.5" width="2.5" height="58.5" fill="url(#u26)"/><rect x="325.2" y="65.5" width="2.5" height="58.5" fill="url(#u24)"/><rect x="327.4" y="65.5" width="2.5" height="58.5" fill="url(#u29)"/><rect x="329.6" y="65.5" width="2.5" height="58.5" fill="url(#u24)"/><rect x="331.8" y="65.5" width="2.5" height="58.5" fill="url(#u26)"/><rect x="334" y="65.5" width="2.5" height="58.5" fill="url(#u24)"/><rect x="336.2" y="65.5" width="2.5" height="58.5" fill="url(#u26)"/><rect x="338.4" y="65.5" width="2.5" height="58.5" fill="url(#u25)"/><rect x="340.6" y="65.5" width="2.5" height="58.5" fill="url(#u29)"/><rect x="342.8" y="65.5" width="2.5" height="58.5" fill="url(#u24)"/><rect x="345" y="65.5" width="2.5" height="58.5" fill="url(#u26)"/><rect x="347.2" y="65.5" width="2.5" height="58.5" fill="url(#u28)"/><rect x="349.4" y="65.5" width="2.5" height="58.5" fill="url(#u25)"/><rect x="351.6" y="65.5" width="2.5" height="58.5" fill="url(#u27)"/><rect x="353.8" y="65.5" width="2.5" height="58.5" fill="url(#u29)"/><rect x="356" y="65.5" width="2.5" height="58.5" fill="url(#u27)"/><rect x="358.2" y="65.5" width="2.5" height="58.5" fill="url(#u30)"/><rect x="360.4" y="65.5" width="2.5" height="58.5" fill="url(#u25)"/><rect x="362.6" y="65.5" width="2.5" height="58.5" fill="url(#u26)"/><rect x="364.8" y="65.5" width="2.5" height="58.5" fill="url(#u28)"/><rect x="367" y="65.5" width="2.5" height="58.5" fill="url(#u26)"/><rect x="369.2" y="65.5" width="2.5" height="58.5" fill="url(#u24)"/><rect x="371.4" y="65.5" width="2.5" height="58.5" fill="url(#u29)"/><rect x="373.6" y="65.5" width="2.5" height="58.5" fill="url(#u24)"/><rect x="375.8" y="65.5" width="2.5" height="58.5" fill="url(#u26)"/><rect x="378" y="65.5" width="2.5" height="58.5" fill="url(#u25)"/><rect x="380.2" y="65.5" width="2.5" height="58.5" fill="url(#u26)"/><rect x="382.4" y="65.5" width="2.5" height="58.5" fill="url(#u24)"/><rect x="384.6" y="65.5" width="2.5" height="58.5" fill="url(#u25)"/><rect x="386.8" y="65.5" width="2.5" height="58.5" fill="url(#u28)"/><rect x="389" y="65.5" width="2.5" height="58.5" fill="url(#u26)"/><rect x="391.2" y="65.5" width="2.5" height="58.5" fill="url(#u28)"/><rect x="393.4" y="65.5" width="2.5" height="58.5" fill="url(#u29)"/><rect x="395.6" y="65.5" width="2.5" height="58.5" fill="url(#u27)"/><rect x="397.8" y="65.5" width="2.5" height="58.5" fill="url(#u26)"/><rect x="400" y="65.5" width="2.5" height="58.5" fill="url(#u28)"/><rect x="402.2" y="65.5" width="2.5" height="58.5" fill="url(#u26)"/><rect x="404.4" y="65.5" width="2.5" height="58.5" fill="url(#u24)"/><rect x="406.6" y="65.5" width="2.5" height="58.5" fill="url(#u29)"/><rect x="408.8" y="65.5" width="2.5" height="58.5" fill="url(#u28)"/><rect x="411" y="65.5" width="2.5" height="58.5" fill="url(#u25)"/><rect x="413.2" y="65.5" width="2.5" height="58.5" fill="url(#u24)"/><rect x="415.4" y="65.5" width="2.5" height="58.5" fill="url(#u29)"/><rect x="417.6" y="65.5" width="2.5" height="58.5" fill="url(#u28)"/><rect x="419.8" y="65.5" width="2.5" height="58.5" fill="url(#u26)"/><rect x="422" y="65.5" width="2.5" height="58.5" fill="url(#u28)"/><rect x="424.2" y="65.5" width="2.5" height="58.5" fill="url(#u28)"/><rect x="426.4" y="65.5" width="2.5" height="58.5" fill="url(#u22)"/><rect x="428.6" y="65.5" width="2.5" height="58.5" fill="url(#u24)"/><rect x="430.8" y="65.5" width="2.5" height="58.5" fill="url(#u22)"/><rect x="433" y="65.5" width="2.5" height="58.5" fill="url(#u27)"/><rect x="435.2" y="65.5" width="2.5" height="58.5" fill="url(#u20)"/><rect x="437.4" y="65.5" width="2.5" height="58.5" fill="url(#u21)"/><rect x="439.6" y="65.5" width="2.5" height="58.5" fill="url(#u16)"/><rect x="441.8" y="65.5" width="2.5" height="58.5" fill="url(#u21)"/><rect x="444" y="65.5" width="2.5" height="58.5" fill="url(#u16)"/><rect x="446.2" y="65.5" width="2.5" height="58.5" fill="url(#u22)"/><rect x="448.4" y="65.5" width="2.5" height="58.5" fill="url(#u20)"/><rect x="450.6" y="65.5" width="2.5" height="58.5" fill="url(#u22)"/><rect x="452.8" y="65.5" width="2.5" height="58.5" fill="url(#u18)"/><rect x="455" y="65.5" width="2.5" height="58.5" fill="url(#u21)"/><rect x="457.2" y="65.5" width="2.5" height="58.5" fill="url(#u20)"/><rect x="459.4" y="65.5" width="2.5" height="58.5" fill="url(#u22)"/><rect x="461.6" y="65.5" width="2.5" height="58.5" fill="url(#u18)"/><rect x="463.8" y="65.5" width="2.5" height="58.5" fill="url(#u23)"/><rect x="466" y="65.5" width="2.5" height="58.5" fill="url(#u18)"/><rect x="468.2" y="65.5" width="2.5" height="58.5" fill="url(#u23)"/><rect x="470.4" y="65.5" width="2.5" height="58.5" fill="url(#u18)"/><rect x="472.6" y="65.5" width="2.5" height="58.5" fill="url(#u27)"/><rect x="474.8" y="65.5" width="2.5" height="58.5" fill="url(#u18)"/><rect x="477" y="65.5" width="2.5" height="58.5" fill="url(#u22)"/><rect x="479.2" y="65.5" width="2.5" height="58.5" fill="url(#u20)"/><rect x="481.4" y="65.5" width="2.5" height="58.5" fill="url(#u21)"/><rect x="483.6" y="65.5" width="2.5" height="58.5" fill="url(#u19)"/><rect x="485.8" y="65.5" width="2.5" height="58.5" fill="url(#u16)"/><rect x="488" y="65.5" width="2.5" height="58.5" fill="url(#u14)"/><rect x="490.2" y="65.5" width="2.5" height="58.5" fill="url(#u14)"/><rect x="492.4" y="65.5" width="2.5" height="58.5" fill="url(#u13)"/><rect x="494.6" y="65.5" width="2.5" height="58.5" fill="url(#u17)"/><rect x="496.8" y="65.5" width="2.5" height="58.5" fill="url(#u10)"/><rect x="499" y="65.5" width="2.5" height="58.5" fill="url(#u12)"/><rect x="501.2" y="65.5" width="2.5" height="58.5" fill="url(#u8)"/><rect x="503.4" y="65.5" width="2.5" height="58.5" fill="url(#u12)"/><rect x="505.6" y="65.5" width="2.5" height="58.5" fill="url(#u10)"/><rect x="507.8" y="65.5" width="2.5" height="58.5" fill="url(#u12)"/><rect x="510" y="65.5" width="2.5" height="58.5" fill="url(#u13)"/><rect x="512.2" y="65.5" width="2.5" height="58.5" fill="url(#u13)"/><rect x="514.4" y="65.5" width="2.5" height="58.5" fill="url(#u10)"/><rect x="516.6" y="65.5" width="2.5" height="58.5" fill="url(#u12)"/><rect x="518.8" y="65.5" width="2.5" height="58.5" fill="url(#u10)"/><rect x="521" y="65.5" width="2.5" height="58.5" fill="url(#u14)"/><rect x="523.2" y="65.5" width="2.5" height="58.5" fill="url(#u13)"/><rect x="525.4" y="65.5" width="2.5" height="58.5" fill="url(#u17)"/><rect x="527.6" y="65.5" width="2.5" height="58.5" fill="url(#u11)"/><rect x="529.8" y="65.5" width="2.5" height="58.5" fill="url(#u17)"/><rect x="532" y="65.5" width="2.5" height="58.5" fill="url(#u10)"/><rect x="534.2" y="65.5" width="2.5" height="58.5" fill="url(#u17)"/><rect x="536.4" y="65.5" width="2.5" height="58.5" fill="url(#u13)"/><rect x="538.6" y="65.5" width="2.5" height="58.5" fill="url(#u14)"/><rect x="540.8" y="65.5" width="2.5" height="58.5" fill="url(#u10)"/><rect x="543" y="65.5" width="2.5" height="58.5" fill="url(#u17)"/><rect x="545.2" y="65.5" width="2.5" height="58.5" fill="url(#u10)"/><rect x="547.4" y="65.5" width="2.5" height="58.5" fill="url(#u13)"/><rect x="549.6" y="65.5" width="2.5" height="58.5" fill="url(#u10)"/><rect x="551.8" y="65.5" width="2.5" height="58.5" fill="url(#u12)"/><rect x="554" y="65.5" width="2.5" height="58.5" fill="url(#u11)"/><rect x="556.2" y="65.5" width="2.5" height="58.5" fill="url(#u13)"/><rect x="558.4" y="65.5" width="2.5" height="58.5" fill="url(#u13)"/><rect x="560.6" y="65.5" width="2.5" height="58.5" fill="url(#u17)"/><rect x="562.8" y="65.5" width="2.5" height="58.5" fill="url(#u8)"/><rect x="565" y="65.5" width="2.5" height="58.5" fill="url(#u14)"/><rect x="567.2" y="65.5" width="2.5" height="58.5" fill="url(#u10)"/><rect x="569.4" y="65.5" width="2.5" height="58.5" fill="url(#u14)"/><rect x="571.6" y="65.5" width="2.5" height="58.5" fill="url(#u12)"/><rect x="573.8" y="65.5" width="2.5" height="58.5" fill="url(#u19)"/><rect x="576" y="65.5" width="2.5" height="58.5" fill="url(#u17)"/><rect x="578.2" y="65.5" width="2.5" height="58.5" fill="url(#u19)"/><rect x="580.4" y="65.5" width="2.5" height="58.5" fill="url(#u14)"/><rect x="582.6" y="65.5" width="2.5" height="58.5" fill="url(#u18)"/><rect x="584.8" y="65.5" width="2.5" height="58.5" fill="url(#u18)"/><rect x="587" y="65.5" width="2.5" height="58.5" fill="url(#u23)"/><rect x="589.2" y="65.5" width="2.5" height="58.5" fill="url(#u21)"/><rect x="591.4" y="65.5" width="2.5" height="58.5" fill="url(#u27)"/><rect x="593.6" y="65.5" width="2.5" height="58.5" fill="url(#u22)"/><rect x="595.8" y="65.5" width="2.5" height="58.5" fill="url(#u28)"/><rect x="598" y="65.5" width="2.5" height="58.5" fill="url(#u22)"/><rect x="600.2" y="65.5" width="2.5" height="58.5" fill="url(#u26)"/><rect x="602.4" y="65.5" width="2.5" height="58.5" fill="url(#u27)"/><rect x="604.6" y="65.5" width="2.5" height="58.5" fill="url(#u25)"/><rect x="606.8" y="65.5" width="2.5" height="58.5" fill="url(#u27)"/><rect x="609" y="65.5" width="2.5" height="58.5" fill="url(#u25)"/><rect x="611.2" y="65.5" width="2.5" height="58.5" fill="url(#u26)"/><rect x="613.4" y="65.5" width="2.5" height="58.5" fill="url(#u31)"/><rect x="615.6" y="65.5" width="2.5" height="58.5" fill="url(#u32)"/><rect x="617.8" y="65.5" width="2.5" height="58.5" fill="url(#u33)"/><rect x="620" y="65.5" width="2.5" height="58.5" fill="url(#u34)"/><rect x="622.2" y="65.5" width="2.5" height="58.5" fill="url(#u35)"/><rect x="624.4" y="65.5" width="2.5" height="58.5" fill="url(#u26)"/><rect x="626.6" y="65.5" width="2.5" height="58.5" fill="url(#u24)"/><rect x="628.8" y="65.5" width="2.5" height="58.5" fill="url(#u14)"/><rect x="631" y="65.5" width="2.5" height="58.5" fill="url(#u11)"/><rect x="633.2" y="65.5" width="2.5" height="58.5" fill="url(#u36)"/><rect x="635.4" y="65.5" width="2.5" height="58.5" fill="url(#u11)"/><rect x="637.6" y="65.5" width="2.5" height="58.5" fill="url(#u3)"/><rect x="639.8" y="65.5" width="2.5" height="58.5" fill="url(#u7)"/><rect x="642" y="65.5" width="2.5" height="58.5" fill="url(#u3)"/><rect x="644.2" y="65.5" width="2.5" height="58.5" fill="url(#u7)"/><rect x="646.4" y="65.5" width="2.5" height="58.5" fill="url(#u3)"/><rect x="648.6" y="65.5" width="2.5" height="58.5" fill="url(#u11)"/><rect x="650.8" y="65.5" width="2.5" height="58.5" fill="url(#u36)"/><rect x="653" y="65.5" width="2.5" height="58.5" fill="url(#u11)"/><rect x="655.2" y="65.5" width="2.5" height="58.5" fill="url(#u36)"/><rect x="657.4" y="65.5" width="2.5" height="58.5" fill="url(#u7)"/><rect x="659.6" y="65.5" width="2.5" height="58.5" fill="url(#u36)"/><rect x="661.8" y="65.5" width="2.5" height="58.5" fill="url(#u7)"/><rect x="664" y="65.5" width="2.5" height="58.5" fill="url(#u3)"/><rect x="666.2" y="65.5" width="2.5" height="58.5" fill="url(#u11)"/><rect x="668.4" y="65.5" width="2.5" height="58.5" fill="url(#u36)"/><rect x="670.6" y="65.5" width="2.5" height="58.5" fill="url(#u9)"/><rect x="672.8" y="65.5" width="2.5" height="58.5" fill="url(#u1)"/><rect x="675" y="65.5" width="2.5" height="58.5" fill="url(#u11)"/><rect x="677.2" y="65.5" width="2.5" height="58.5" fill="url(#u36)"/><rect x="679.4" y="65.5" width="2.5" height="58.5" fill="url(#u11)"/><rect x="681.6" y="65.5" width="2.5" height="58.5" fill="url(#u36)"/><rect x="683.8" y="65.5" width="2.5" height="58.5" fill="url(#u9)"/><rect x="686" y="65.5" width="2.5" height="58.5" fill="url(#u3)"/><rect x="688.2" y="65.5" width="2.5" height="58.5" fill="url(#u7)"/><rect x="690.4" y="65.5" width="2.5" height="58.5" fill="url(#u3)"/><rect x="692.6" y="65.5" width="2.5" height="58.5" fill="url(#u10)"/><rect x="694.8" y="65.5" width="2.5" height="58.5" fill="url(#u11)"/><rect x="697" y="65.5" width="2.5" height="58.5" fill="url(#u12)"/><rect x="699.2" y="65.5" width="2.5" height="58.5" fill="url(#u8)"/><rect x="701.4" y="65.5" width="2.5" height="58.5" fill="url(#u12)"/><rect x="703.6" y="65.5" width="2.5" height="58.5" fill="url(#u8)"/><rect x="705.8" y="65.5" width="2.5" height="58.5" fill="url(#u13)"/><rect x="708" y="65.5" width="2.5" height="58.5" fill="url(#u11)"/><rect x="710.2" y="65.5" width="2.5" height="58.5" fill="url(#u12)"/><rect x="712.4" y="65.5" width="2.5" height="58.5" fill="url(#u10)"/><rect x="714.6" y="65.5" width="2.5" height="58.5" fill="url(#u17)"/><rect x="716.8" y="65.5" width="2.5" height="58.5" fill="url(#u11)"/><rect x="719" y="65.5" width="2.5" height="58.5" fill="url(#u13)"/><rect x="721.2" y="65.5" width="2.5" height="58.5" fill="url(#u8)"/><rect x="723.4" y="65.5" width="2.5" height="58.5" fill="url(#u12)"/><rect x="725.6" y="65.5" width="2.5" height="58.5" fill="url(#u8)"/><rect x="727.8" y="65.5" width="2.5" height="58.5" fill="url(#u17)"/><rect x="730" y="65.5" width="2.5" height="58.5" fill="url(#u11)"/><rect x="732.2" y="65.5" width="2.5" height="58.5" fill="url(#u12)"/><rect x="734.4" y="65.5" width="2.5" height="58.5" fill="url(#u11)"/><rect x="736.6" y="65.5" width="2.5" height="58.5" fill="url(#u10)"/><rect x="738.8" y="65.5" width="2.5" height="58.5" fill="url(#u11)"/><rect x="741" y="65.5" width="2.5" height="58.5" fill="url(#u10)"/><rect x="743.2" y="65.5" width="2.5" height="58.5" fill="url(#u7)"/><rect x="745.4" y="65.5" width="2.5" height="58.5" fill="url(#u13)"/><rect x="747.6" y="65.5" width="2.5" height="58.5" fill="url(#u7)"/><rect x="749.8" y="65.5" width="2.5" height="58.5" fill="url(#u8)"/><rect x="752" y="65.5" width="2.5" height="58.5" fill="url(#u7)"/><rect x="754.2" y="65.5" width="2.5" height="58.5" fill="url(#u8)"/><rect x="756.4" y="65.5" width="2.5" height="58.5" fill="url(#u11)"/><rect x="758.6" y="65.5" width="2.1" height="58.5" fill="url(#u8)"/><rect x="783.3" y="65.5" width="2.5" height="58.5" fill="url(#u23)"/><rect x="785.5" y="65.5" width="2.5" height="58.5" fill="url(#u28)"/><rect x="787.7" y="65.5" width="2.5" height="58.5" fill="url(#u27)"/><rect x="789.9" y="65.5" width="2.5" height="58.5" fill="url(#u27)"/><rect x="792.1" y="65.5" width="2.5" height="58.5" fill="url(#u22)"/><rect x="794.3" y="65.5" width="2.5" height="58.5" fill="url(#u24)"/><rect x="796.5" y="65.5" width="2.5" height="58.5" fill="url(#u21)"/><rect x="798.7" y="65.5" width="2.5" height="58.5" fill="url(#u23)"/><rect x="800.9" y="65.5" width="2.5" height="58.5" fill="url(#u18)"/><rect x="803.1" y="65.5" width="2.5" height="58.5" fill="url(#u23)"/><rect x="805.3" y="65.5" width="2.5" height="58.5" fill="url(#u21)"/><rect x="807.5" y="65.5" width="2.5" height="58.5" fill="url(#u22)"/><rect x="809.7" y="65.5" width="2.5" height="58.5" fill="url(#u18)"/><rect x="811.9" y="65.5" width="2.5" height="58.5" fill="url(#u22)"/><rect x="814.1" y="65.5" width="2.5" height="58.5" fill="url(#u16)"/><rect x="816.3" y="65.5" width="2.5" height="58.5" fill="url(#u18)"/><rect x="818.5" y="65.5" width="2.5" height="58.5" fill="url(#u16)"/><rect x="820.7" y="65.5" width="2.5" height="58.5" fill="url(#u21)"/><rect x="822.9" y="65.5" width="2.5" height="58.5" fill="url(#u16)"/><rect x="825.1" y="65.5" width="2.5" height="58.5" fill="url(#u22)"/><rect x="827.3" y="65.5" width="2.5" height="58.5" fill="url(#u16)"/><rect x="829.5" y="65.5" width="2.5" height="58.5" fill="url(#u21)"/><rect x="831.7" y="65.5" width="2.5" height="58.5" fill="url(#u16)"/><rect x="833.9" y="65.5" width="2.5" height="58.5" fill="url(#u21)"/><rect x="836.1" y="65.5" width="2.5" height="58.5" fill="url(#u16)"/><rect x="838.3" y="65.5" width="2.5" height="58.5" fill="url(#u18)"/><rect x="840.5" y="65.5" width="2.5" height="58.5" fill="url(#u16)"/><rect x="842.7" y="65.5" width="2.5" height="58.5" fill="url(#u27)"/><rect x="844.9" y="65.5" width="2.5" height="58.5" fill="url(#u18)"/><rect x="847.1" y="65.5" width="2.5" height="58.5" fill="url(#u27)"/><rect x="849.3" y="65.5" width="2.5" height="58.5" fill="url(#u18)"/><rect x="851.5" y="65.5" width="2.5" height="58.5" fill="url(#u24)"/><rect x="853.7" y="65.5" width="2.5" height="58.5" fill="url(#u23)"/><rect x="855.9" y="65.5" width="2.5" height="58.5" fill="url(#u25)"/><rect x="858.1" y="65.5" width="2.5" height="58.5" fill="url(#u24)"/><rect x="860.3" y="65.5" width="2.5" height="58.5" fill="url(#u30)"/><rect x="862.5" y="65.5" width="2.5" height="58.5" fill="url(#u30)"/><rect x="864.7" y="65.5" width="2.5" height="58.5" fill="url(#u32)"/><rect x="866.9" y="65.5" width="2.5" height="58.5" fill="url(#u37)"/><rect x="869.1" y="65.5" width="2.5" height="58.5" fill="url(#u34)"/><rect x="871.3" y="65.5" width="2.5" height="58.5" fill="url(#u32)"/><rect x="873.5" y="65.5" width="2.5" height="58.5" fill="url(#u38)"/><rect x="875.7" y="65.5" width="2.5" height="58.5" fill="url(#u32)"/><rect x="877.9" y="65.5" width="2.5" height="58.5" fill="url(#u34)"/><rect x="880.1" y="65.5" width="2.5" height="58.5" fill="url(#u38)"/><rect x="882.3" y="65.5" width="2.5" height="58.5" fill="url(#u39)"/><rect x="884.5" y="65.5" width="2.5" height="58.5" fill="url(#u39)"/><rect x="886.7" y="65.5" width="2.5" height="58.5" fill="url(#u40)"/><rect x="888.9" y="65.5" width="2.5" height="58.5" fill="url(#u39)"/><rect x="891.1" y="65.5" width="2.5" height="58.5" fill="url(#u40)"/><rect x="893.3" y="65.5" width="2.5" height="58.5" fill="url(#u34)"/><rect x="895.5" y="65.5" width="2.5" height="58.5" fill="url(#u41)"/><rect x="897.7" y="65.5" width="2.5" height="58.5" fill="url(#u35)"/><rect x="899.9" y="65.5" width="2.5" height="58.5" fill="url(#u33)"/><rect x="902.1" y="65.5" width="2.5" height="58.5" fill="url(#u39)"/><rect x="904.3" y="65.5" width="2.5" height="58.5" fill="url(#u41)"/><rect x="906.5" y="65.5" width="2.5" height="58.5" fill="url(#u39)"/><rect x="908.7" y="65.5" width="2.5" height="58.5" fill="url(#u33)"/><rect x="910.9" y="65.5" width="2.5" height="58.5" fill="url(#u39)"/><rect x="913.1" y="65.5" width="2.5" height="58.5" fill="url(#u33)"/><rect x="915.3" y="65.5" width="2.5" height="58.5" fill="url(#u35)"/><rect x="917.5" y="65.5" width="2.5" height="58.5" fill="url(#u33)"/><rect x="919.7" y="65.5" width="2.5" height="58.5" fill="url(#u38)"/><rect x="921.9" y="65.5" width="2.5" height="58.5" fill="url(#u40)"/><rect x="924.1" y="65.5" width="2.5" height="58.5" fill="url(#u38)"/><rect x="926.3" y="65.5" width="2.5" height="58.5" fill="url(#u34)"/><rect x="928.5" y="65.5" width="2.5" height="58.5" fill="url(#u37)"/><rect x="930.7" y="65.5" width="2.5" height="58.5" fill="url(#u38)"/><rect x="932.9" y="65.5" width="2.5" height="58.5" fill="url(#u31)"/><rect x="935.1" y="65.5" width="2.5" height="58.5" fill="url(#u31)"/><rect x="937.3" y="65.5" width="2.5" height="58.5" fill="url(#u31)"/><rect x="939.5" y="65.5" width="2.5" height="58.5" fill="url(#u39)"/><rect x="941.7" y="65.5" width="2.5" height="58.5" fill="url(#u38)"/><rect x="943.9" y="65.5" width="2.5" height="58.5" fill="url(#u40)"/><rect x="946.1" y="65.5" width="2.5" height="58.5" fill="url(#u39)"/><rect x="948.3" y="65.5" width="2.5" height="58.5" fill="url(#u41)"/><rect x="950.5" y="65.5" width="2.5" height="58.5" fill="url(#u39)"/><rect x="952.7" y="65.5" width="2.5" height="58.5" fill="url(#u42)"/><rect x="954.9" y="65.5" width="2.5" height="58.5" fill="url(#u33)"/><rect x="957.1" y="65.5" width="2.5" height="58.5" fill="url(#u41)"/><rect x="959.3" y="65.5" width="2.5" height="58.5" fill="url(#u35)"/><rect x="961.5" y="65.5" width="2.5" height="58.5" fill="url(#u41)"/><rect x="963.7" y="65.5" width="2.5" height="58.5" fill="url(#u35)"/><rect x="965.9" y="65.5" width="2.5" height="58.5" fill="url(#u43)"/><rect x="968.1" y="65.5" width="2.5" height="58.5" fill="url(#u40)"/><rect x="970.3" y="65.5" width="2.5" height="58.5" fill="url(#u42)"/><rect x="972.5" y="65.5" width="2.5" height="58.5" fill="url(#u40)"/><rect x="974.7" y="65.5" width="2.5" height="58.5" fill="url(#u42)"/><rect x="976.9" y="65.5" width="2.5" height="58.5" fill="url(#u33)"/><rect x="979.1" y="65.5" width="2.5" height="58.5" fill="url(#u44)"/><rect x="981.3" y="65.5" width="2.5" height="58.5" fill="url(#u33)"/><rect x="983.5" y="65.5" width="2.5" height="58.5" fill="url(#u45)"/><rect x="985.7" y="65.5" width="2.5" height="58.5" fill="url(#u33)"/><rect x="987.9" y="65.5" width="2.5" height="58.5" fill="url(#u44)"/><rect x="990.1" y="65.5" width="2.5" height="58.5" fill="url(#u41)"/><rect x="992.3" y="65.5" width="2.5" height="58.5" fill="url(#u45)"/><rect x="994.5" y="65.5" width="2.5" height="58.5" fill="url(#u33)"/><rect x="996.7" y="65.5" width="2.5" height="58.5" fill="url(#u44)"/><rect x="998.9" y="65.5" width="2.5" height="58.5" fill="url(#u42)"/><rect x="1001.1" y="65.5" width="2.5" height="58.5" fill="url(#u44)"/><rect x="1003.3" y="65.5" width="2.5" height="58.5" fill="url(#u41)"/><rect x="1005.5" y="65.5" width="2.5" height="58.5" fill="url(#u44)"/><rect x="1007.7" y="65.5" width="2.5" height="58.5" fill="url(#u33)"/><rect x="1009.9" y="65.5" width="2.5" height="58.5" fill="url(#u44)"/><rect x="1012.1" y="65.5" width="2.5" height="58.5" fill="url(#u41)"/><rect x="1014.3" y="65.5" width="2.5" height="58.5" fill="url(#u44)"/><rect x="1016.5" y="65.5" width="2.5" height="58.5" fill="url(#u33)"/><rect x="1018.7" y="65.5" width="2.5" height="58.5" fill="url(#u44)"/><rect x="1020.9" y="65.5" width="2.5" height="58.5" fill="url(#u41)"/><rect x="1023.1" y="65.5" width="2.5" height="58.5" fill="url(#u44)"/><rect x="1025.3" y="65.5" width="2.5" height="58.5" fill="url(#u41)"/><rect x="1027.5" y="65.5" width="2.5" height="58.5" fill="url(#u45)"/><rect x="1029.7" y="65.5" width="2.5" height="58.5" fill="url(#u33)"/><rect x="1031.9" y="65.5" width="2.5" height="58.5" fill="url(#u44)"/><rect x="1034.1" y="65.5" width="2.5" height="58.5" fill="url(#u33)"/><rect x="1036.3" y="65.5" width="2.5" height="58.5" fill="url(#u44)"/><rect x="1038.5" y="65.5" width="2.5" height="58.5" fill="url(#u41)"/><rect x="1040.7" y="65.5" width="2.5" height="58.5" fill="url(#u44)"/><rect x="1042.9" y="65.5" width="2.5" height="58.5" fill="url(#u33)"/><rect x="1045.1" y="65.5" width="2.5" height="58.5" fill="url(#u44)"/><rect x="1047.3" y="65.5" width="2.5" height="58.5" fill="url(#u41)"/><rect x="1049.5" y="65.5" width="2.5" height="58.5" fill="url(#u45)"/><rect x="1051.7" y="65.5" width="2.5" height="58.5" fill="url(#u33)"/><rect x="1053.9" y="65.5" width="2.5" height="58.5" fill="url(#u46)"/><rect x="1056.1" y="65.5" width="2.5" height="58.5" fill="url(#u40)"/><rect x="1058.3" y="65.5" width="2.5" height="58.5" fill="url(#u43)"/><rect x="1060.5" y="65.5" width="2.5" height="58.5" fill="url(#u33)"/><rect x="1062.7" y="65.5" width="2.5" height="58.5" fill="url(#u44)"/><rect x="1064.9" y="65.5" width="2.5" height="58.5" fill="url(#u41)"/><rect x="1067.1" y="65.5" width="2.5" height="58.5" fill="url(#u43)"/><rect x="1069.3" y="65.5" width="2.5" height="58.5" fill="url(#u41)"/><rect x="1071.5" y="65.5" width="2.5" height="58.5" fill="url(#u43)"/><rect x="1073.7" y="65.5" width="2.5" height="58.5" fill="url(#u33)"/><rect x="1075.9" y="65.5" width="2.5" height="58.5" fill="url(#u43)"/><rect x="1078.1" y="65.5" width="2.5" height="58.5" fill="url(#u42)"/><rect x="1080.3" y="65.5" width="2.5" height="58.5" fill="url(#u45)"/><rect x="1082.5" y="65.5" width="2.5" height="58.5" fill="url(#u42)"/><rect x="1084.7" y="65.5" width="2.5" height="58.5" fill="url(#u45)"/><rect x="1086.9" y="65.5" width="2.5" height="58.5" fill="url(#u43)"/><rect x="1089.1" y="65.5" width="2.5" height="58.5" fill="url(#u46)"/><rect x="1091.3" y="65.5" width="2.5" height="58.5" fill="url(#u42)"/><rect x="1093.5" y="65.5" width="2.5" height="58.5" fill="url(#u45)"/><rect x="1095.7" y="65.5" width="2.5" height="58.5" fill="url(#u41)"/><rect x="1097.9" y="65.5" width="2.5" height="58.5" fill="url(#u44)"/><rect x="1100.1" y="65.5" width="2.5" height="58.5" fill="url(#u33)"/><rect x="1102.3" y="65.5" width="2.5" height="58.5" fill="url(#u46)"/><rect x="1104.5" y="65.5" width="2.5" height="58.5" fill="url(#u42)"/><rect x="1106.7" y="65.5" width="2.5" height="58.5" fill="url(#u44)"/><rect x="1108.9" y="65.5" width="2.5" height="58.5" fill="url(#u42)"/><rect x="1111.1" y="65.5" width="2.5" height="58.5" fill="url(#u45)"/><rect x="1113.3" y="65.5" width="2.5" height="58.5" fill="url(#u33)"/><rect x="1115.5" y="65.5" width="2.5" height="58.5" fill="url(#u42)"/><rect x="1117.7" y="65.5" width="2.5" height="58.5" fill="url(#u40)"/><rect x="1119.9" y="65.5" width="2.5" height="58.5" fill="url(#u43)"/><rect x="1122.1" y="65.5" width="2.5" height="58.5" fill="url(#u40)"/><rect x="1124.3" y="65.5" width="2.5" height="58.5" fill="url(#u41)"/><rect x="1126.5" y="65.5" width="2.5" height="58.5" fill="url(#u35)"/><rect x="1128.7" y="65.5" width="2.5" height="58.5" fill="url(#u33)"/><rect x="1130.9" y="65.5" width="2.5" height="58.5" fill="url(#u35)"/><rect x="1133.1" y="65.5" width="2.5" height="58.5" fill="url(#u33)"/><rect x="1135.3" y="65.5" width="2.5" height="58.5" fill="url(#u40)"/><rect x="1137.5" y="65.5" width="2.5" height="58.5" fill="url(#u33)"/><rect x="1139.7" y="65.5" width="2.5" height="58.5" fill="url(#u39)"/><rect x="1141.9" y="65.5" width="2.5" height="58.5" fill="url(#u41)"/><rect x="1144.1" y="65.5" width="2.5" height="58.5" fill="url(#u39)"/><rect x="1146.3" y="65.5" width="2.5" height="58.5" fill="url(#u42)"/><rect x="1148.5" y="65.5" width="2.5" height="58.5" fill="url(#u35)"/><rect x="1150.7" y="65.5" width="2.5" height="58.5" fill="url(#u42)"/><rect x="1152.9" y="65.5" width="2.5" height="58.5" fill="url(#u35)"/><rect x="1155.1" y="65.5" width="2.5" height="58.5" fill="url(#u33)"/><rect x="1157.3" y="65.5" width="2.5" height="58.5" fill="url(#u40)"/><rect x="1159.5" y="65.5" width="2.5" height="58.5" fill="url(#u41)"/><rect x="1161.7" y="65.5" width="2.5" height="58.5" fill="url(#u35)"/><rect x="1163.9" y="65.5" width="2.5" height="58.5" fill="url(#u40)"/><rect x="1166.1" y="65.5" width="2.5" height="58.5" fill="url(#u35)"/><rect x="1168.3" y="65.5" width="2.5" height="58.5" fill="url(#u41)"/><rect x="1170.5" y="65.5" width="2.5" height="58.5" fill="url(#u39)"/><rect x="1172.7" y="65.5" width="2.5" height="58.5" fill="url(#u41)"/><rect x="1174.9" y="65.5" width="2.5" height="58.5" fill="url(#u35)"/><rect x="1177.1" y="65.5" width="2.5" height="58.5" fill="url(#u42)"/><rect x="1179.3" y="65.5" width="2.5" height="58.5" fill="url(#u35)"/><rect x="1181.5" y="65.5" width="2.5" height="58.5" fill="url(#u33)"/><rect x="1183.7" y="65.5" width="2.5" height="58.5" fill="url(#u35)"/><rect x="1185.9" y="65.5" width="2.5" height="58.5" fill="url(#u42)"/><rect x="1188.1" y="65.5" width="2.5" height="58.5" fill="url(#u33)"/><rect x="1190.3" y="65.5" width="2.5" height="58.5" fill="url(#u42)"/><rect x="1192.5" y="65.5" width="2.5" height="58.5" fill="url(#u40)"/><rect x="1194.7" y="65.5" width="0.6" height="58.5" fill="url(#u42)"/><rect x="114" y="121.5" width="9.3" height="152" fill="url(#l47)"/><rect x="123" y="121.5" width="9.3" height="152" fill="url(#l47)"/><rect x="132" y="121.5" width="9.3" height="152" fill="url(#l47)"/><rect x="141" y="121.5" width="9.3" height="152" fill="url(#l47)"/><rect x="150" y="121.5" width="9.3" height="152" fill="url(#l47)"/><rect x="159" y="121.5" width="9.3" height="152" fill="url(#l47)"/><rect x="168" y="121.5" width="9.3" height="152" fill="url(#l47)"/><rect x="177" y="121.5" width="9.3" height="152" fill="url(#l47)"/><rect x="186" y="121.5" width="9.3" height="152" fill="url(#l47)"/><rect x="195" y="121.5" width="9.3" height="152" fill="url(#l48)"/><rect x="204" y="121.5" width="9.3" height="152" fill="url(#l49)"/><rect x="213" y="121.5" width="9.3" height="152" fill="url(#l50)"/><rect x="222" y="121.5" width="9.3" height="152" fill="url(#l51)"/><rect x="231" y="121.5" width="9.3" height="152" fill="url(#l52)"/><rect x="240" y="121.5" width="9.3" height="152" fill="url(#l52)"/><rect x="249" y="121.5" width="9.3" height="152" fill="url(#l53)"/><rect x="258" y="121.5" width="9.3" height="152" fill="url(#l54)"/><rect x="267" y="121.5" width="9.3" height="152" fill="url(#l55)"/><rect x="276" y="121.5" width="9.3" height="152" fill="url(#l56)"/><rect x="285" y="121.5" width="9.3" height="152" fill="url(#l57)"/><rect x="294" y="121.5" width="9.3" height="152" fill="url(#l58)"/><rect x="303" y="121.5" width="9.3" height="152" fill="url(#l59)"/><rect x="312" y="121.5" width="9.3" height="152" fill="url(#l59)"/><rect x="321" y="121.5" width="9.3" height="152" fill="url(#l59)"/><rect x="330" y="121.5" width="9.3" height="152" fill="url(#l59)"/><rect x="339" y="121.5" width="9.3" height="152" fill="url(#l59)"/><rect x="348" y="121.5" width="9.3" height="152" fill="url(#l59)"/><rect x="357" y="121.5" width="9.3" height="152" fill="url(#l59)"/><rect x="366" y="121.5" width="9.3" height="152" fill="url(#l59)"/><rect x="375" y="121.5" width="9.3" height="152" fill="url(#l59)"/><rect x="384" y="121.5" width="9.3" height="152" fill="url(#l59)"/><rect x="393" y="121.5" width="9.3" height="152" fill="url(#l59)"/><rect x="402" y="121.5" width="9.3" height="152" fill="url(#l59)"/><rect x="411" y="121.5" width="9.3" height="152" fill="url(#l59)"/><rect x="420" y="121.5" width="9.3" height="152" fill="url(#l58)"/><rect x="429" y="121.5" width="9.3" height="152" fill="url(#l56)"/><rect x="438" y="121.5" width="9.3" height="152" fill="url(#l55)"/><rect x="447" y="121.5" width="9.3" height="152" fill="url(#l55)"/><rect x="456" y="121.5" width="9.3" height="152" fill="url(#l55)"/><rect x="465" y="121.5" width="9.3" height="152" fill="url(#l56)"/><rect x="474" y="121.5" width="9.3" height="152" fill="url(#l56)"/><rect x="483" y="121.5" width="9.3" height="152" fill="url(#l53)"/><rect x="492" y="121.5" width="9.3" height="152" fill="url(#l51)"/><rect x="501" y="121.5" width="9.3" height="152" fill="url(#l51)"/><rect x="510" y="121.5" width="9.3" height="152" fill="url(#l51)"/><rect x="519" y="121.5" width="9.3" height="152" fill="url(#l51)"/><rect x="528" y="121.5" width="9.3" height="152" fill="url(#l51)"/><rect x="537" y="121.5" width="9.3" height="152" fill="url(#l51)"/><rect x="546" y="121.5" width="9.3" height="152" fill="url(#l51)"/><rect x="555" y="121.5" width="9.3" height="152" fill="url(#l51)"/><rect x="564" y="121.5" width="9.3" height="152" fill="url(#l51)"/><rect x="573" y="121.5" width="9.3" height="152" fill="url(#l53)"/><rect x="582" y="121.5" width="9.3" height="152" fill="url(#l55)"/><rect x="591" y="121.5" width="9.3" height="152" fill="url(#l57)"/><rect x="600" y="121.5" width="9.3" height="152" fill="url(#l58)"/><rect x="609" y="121.5" width="9.3" height="152" fill="url(#l60)"/><rect x="618" y="121.5" width="9.3" height="152" fill="url(#l61)"/><rect x="627" y="121.5" width="9.3" height="152" fill="url(#l52)"/><rect x="636" y="121.5" width="9.3" height="152" fill="url(#l50)"/><rect x="645" y="121.5" width="9.3" height="152" fill="url(#l50)"/><rect x="654" y="121.5" width="9.3" height="152" fill="url(#l50)"/><rect x="663" y="121.5" width="9.3" height="152" fill="url(#l50)"/><rect x="672" y="121.5" width="9.3" height="152" fill="url(#l50)"/><rect x="681" y="121.5" width="9.3" height="152" fill="url(#l50)"/><rect x="690" y="121.5" width="9.3" height="152" fill="url(#l62)"/><rect x="699" y="121.5" width="9.3" height="152" fill="url(#l51)"/><rect x="708" y="121.5" width="9.3" height="152" fill="url(#l51)"/><rect x="717" y="121.5" width="9.3" height="152" fill="url(#l51)"/><rect x="726" y="121.5" width="9.3" height="152" fill="url(#l62)"/><rect x="735" y="121.5" width="9.3" height="152" fill="url(#l62)"/><rect x="744" y="121.5" width="9.3" height="152" fill="url(#l62)"/><rect x="753" y="121.5" width="7.7" height="152" fill="url(#l62)"/><rect x="783.3" y="121.5" width="9.3" height="152" fill="url(#l57)"/><rect x="792.3" y="121.5" width="9.3" height="152" fill="url(#l56)"/><rect x="801.3" y="121.5" width="9.3" height="152" fill="url(#l56)"/><rect x="810.3" y="121.5" width="9.3" height="152" fill="url(#l55)"/><rect x="819.3" y="121.5" width="9.3" height="152" fill="url(#l55)"/><rect x="828.3" y="121.5" width="9.3" height="152" fill="url(#l54)"/><rect x="837.3" y="121.5" width="9.3" height="152" fill="url(#l55)"/><rect x="846.3" y="121.5" width="9.3" height="152" fill="url(#l56)"/><rect x="855.3" y="121.5" width="9.3" height="152" fill="url(#l59)"/><rect x="864.3" y="121.5" width="9.3" height="152" fill="url(#l63)"/><rect x="873.3" y="121.5" width="9.3" height="152" fill="url(#l61)"/><rect x="882.3" y="121.5" width="9.3" height="152" fill="url(#l64)"/><rect x="891.3" y="121.5" width="9.3" height="152" fill="url(#l65)"/><rect x="900.3" y="121.5" width="9.3" height="152" fill="url(#l65)"/><rect x="909.3" y="121.5" width="9.3" height="152" fill="url(#l65)"/><rect x="918.3" y="121.5" width="9.3" height="152" fill="url(#l64)"/><rect x="927.3" y="121.5" width="9.3" height="152" fill="url(#l61)"/><rect x="936.3" y="121.5" width="9.3" height="152" fill="url(#l61)"/><rect x="945.3" y="121.5" width="9.3" height="152" fill="url(#l65)"/><rect x="954.3" y="121.5" width="9.3" height="152" fill="url(#l65)"/><rect x="963.3" y="121.5" width="9.3" height="152" fill="url(#l66)"/><rect x="972.3" y="121.5" width="9.3" height="152" fill="url(#l66)"/><rect x="981.3" y="121.5" width="9.3" height="152" fill="url(#l66)"/><rect x="990.3" y="121.5" width="9.3" height="152" fill="url(#l67)"/><rect x="999.3" y="121.5" width="9.3" height="152" fill="url(#l67)"/><rect x="1008.3" y="121.5" width="9.3" height="152" fill="url(#l67)"/><rect x="1017.3" y="121.5" width="9.3" height="152" fill="url(#l67)"/><rect x="1026.3" y="121.5" width="9.3" height="152" fill="url(#l67)"/><rect x="1035.3" y="121.5" width="9.3" height="152" fill="url(#l67)"/><rect x="1044.3" y="121.5" width="9.3" height="152" fill="url(#l66)"/><rect x="1053.3" y="121.5" width="9.3" height="152" fill="url(#l66)"/><rect x="1062.3" y="121.5" width="9.3" height="152" fill="url(#l66)"/><rect x="1071.3" y="121.5" width="9.3" height="152" fill="url(#l67)"/><rect x="1080.3" y="121.5" width="9.3" height="152" fill="url(#l67)"/><rect x="1089.3" y="121.5" width="9.3" height="152" fill="url(#l67)"/><rect x="1098.3" y="121.5" width="9.3" height="152" fill="url(#l67)"/><rect x="1107.3" y="121.5" width="9.3" height="152" fill="url(#l67)"/><rect x="1116.3" y="121.5" width="9.3" height="152" fill="url(#l66)"/><rect x="1125.3" y="121.5" width="9.3" height="152" fill="url(#l65)"/><rect x="1134.3" y="121.5" width="9.3" height="152" fill="url(#l65)"/><rect x="1143.3" y="121.5" width="9.3" height="152" fill="url(#l65)"/><rect x="1152.3" y="121.5" width="9.3" height="152" fill="url(#l65)"/><rect x="1161.3" y="121.5" width="9.3" height="152" fill="url(#l65)"/><rect x="1170.3" y="121.5" width="9.3" height="152" fill="url(#l65)"/><rect x="1179.3" y="121.5" width="9.3" height="152" fill="url(#l65)"/><rect x="1188.3" y="121.5" width="7" height="152" fill="url(#l66)"/><rect x="760.4" y="65.5" width="22.9" height="208" fill="#30123b"/><rect x="760" y="65.5" width="1" height="208" fill="url(#gedge)"/><rect x="783" y="65.5" width="1" height="208" fill="url(#gedge)" fill-opacity="0.55"/><rect x="1195" y="65.5" width="1.2" height="208" fill="url(#ge0)"/><rect x="1196" y="65.5" width="1.2" height="208" fill="url(#ge1)"/><rect x="1197" y="65.5" width="1.2" height="208" fill="url(#ge2)"/><rect x="1198" y="65.5" width="1.2" height="208" fill="url(#ge3)"/><rect x="1199" y="65.5" width="1.2" height="208" fill="url(#ge4)"/><rect x="1200" y="65.5" width="1.2" height="208" fill="url(#ge5)"/><rect x="1201" y="65.5" width="1.2" height="208" fill="url(#ge6)"/><rect x="1202" y="65.5" width="1.2" height="208" fill="url(#ge7)"/><rect x="1203" y="65.5" width="1.2" height="208" fill="url(#ge8)"/><rect x="1204" y="65.5" width="1.2" height="208" fill="url(#ge9)"/><rect x="1205" y="65.5" width="1.2" height="208" fill="url(#ge10)"/><rect x="1206" y="65.5" width="1.2" height="208" fill="url(#ge11)"/><rect x="1207" y="65.5" width="1.2" height="208" fill="url(#ge12)"/><rect x="1208" y="65.5" width="21.5" height="208" fill="#30123b"/><rect x="1226.4" y="65.5" width="1.4" height="16" fill="#4a4aa0" fill-opacity="0.55"/></g>
<g clip-path="url(#clip2)"><g filter="url(#vblur)"><rect x="114" y="273.2" width="646.4" height="2.6" fill="url(#v0)"/><rect x="783.3" y="273.2" width="412.7" height="2.6" fill="url(#v1)"/><rect x="114" y="275.2" width="646.4" height="4.1" fill="url(#v2)"/><rect x="783.3" y="275.2" width="412.7" height="4.1" fill="url(#v3)"/><rect x="114" y="278.7" width="646.4" height="4.6" fill="url(#v4)"/><rect x="783.3" y="278.7" width="412.7" height="4.6" fill="url(#v5)"/><rect x="114" y="282.7" width="646.4" height="9.1" fill="url(#v6)"/><rect x="783.3" y="282.7" width="412.7" height="9.1" fill="url(#v7)"/><rect x="114" y="291.2" width="646.4" height="11.6" fill="url(#v8)"/><rect x="783.3" y="291.2" width="412.7" height="11.6" fill="url(#v9)"/><rect x="114" y="302.2" width="646.4" height="1.6" fill="#fffdfd"/><rect x="783.3" y="302.2" width="412.7" height="1.6" fill="#fffdfd"/><rect x="114" y="303.2" width="646.4" height="4.1" fill="url(#v10)"/><rect x="783.3" y="303.2" width="412.7" height="4.1" fill="url(#v11)"/><rect x="114" y="306.7" width="646.4" height="9.1" fill="url(#v12)"/><rect x="783.3" y="306.7" width="412.7" height="9.1" fill="url(#v13)"/><rect x="114" y="315.2" width="646.4" height="3.6" fill="url(#v14)"/><rect x="783.3" y="315.2" width="412.7" height="3.6" fill="url(#v15)"/><rect x="114" y="318.2" width="646.4" height="7.6" fill="url(#v16)"/><rect x="783.3" y="318.2" width="412.7" height="7.6" fill="url(#v17)"/><rect x="114" y="325.2" width="646.4" height="2.6" fill="url(#v18)"/><rect x="783.3" y="325.2" width="412.7" height="2.6" fill="#fdfdff"/><rect x="114" y="327.2" width="646.4" height="2.6" fill="#fffdfd"/><rect x="783.3" y="327.2" width="412.7" height="2.6" fill="#fffdfd"/><rect x="114" y="329.2" width="646.4" height="3.1" fill="url(#v19)"/><rect x="783.3" y="329.2" width="412.7" height="3.1" fill="url(#v20)"/><rect x="114" y="331.7" width="646.4" height="3.6" fill="#fdfdff"/><rect x="783.3" y="331.7" width="412.7" height="3.6" fill="#fdfdff"/><rect x="114" y="334.7" width="646.4" height="3.1" fill="url(#v21)"/><rect x="783.3" y="334.7" width="412.7" height="3.1" fill="#f5f5ff"/><rect x="114" y="337.2" width="646.4" height="3.6" fill="#f9f9ff"/><rect x="783.3" y="337.2" width="412.7" height="3.6" fill="#f9f9ff"/><rect x="114" y="340.2" width="646.4" height="7.1" fill="url(#v22)"/><rect x="783.3" y="340.2" width="412.7" height="7.1" fill="url(#v23)"/><rect x="114" y="346.7" width="646.4" height="3.6" fill="url(#v24)"/><rect x="783.3" y="346.7" width="412.7" height="3.6" fill="#f9f9ff"/><rect x="114" y="349.7" width="646.4" height="3.6" fill="#fff5f5"/><rect x="783.3" y="349.7" width="412.7" height="3.6" fill="url(#v25)"/><rect x="114" y="352.7" width="646.4" height="2.6" fill="#fdfdff"/><rect x="783.3" y="352.7" width="412.7" height="2.6" fill="#fdfdff"/><rect x="114" y="354.7" width="646.4" height="8.6" fill="url(#v26)"/><rect x="783.3" y="354.7" width="412.7" height="8.6" fill="url(#v27)"/><rect x="114" y="362.7" width="646.4" height="9.6" fill="#f9f9ff"/><rect x="783.3" y="362.7" width="412.7" height="9.6" fill="#f9f9ff"/><rect x="114" y="371.7" width="646.4" height="5.6" fill="url(#v28)"/><rect x="783.3" y="371.7" width="412.7" height="5.6" fill="#f5f5ff"/><rect x="114" y="376.7" width="646.4" height="17.6" fill="#f9f9ff"/><rect x="783.3" y="376.7" width="412.7" height="17.6" fill="#f9f9ff"/><rect x="114" y="393.7" width="646.4" height="6.6" fill="url(#v29)"/><rect x="783.3" y="393.7" width="412.7" height="6.6" fill="#f5f5ff"/><rect x="114" y="399.7" width="646.4" height="20.6" fill="url(#v30)"/><rect x="783.3" y="399.7" width="412.7" height="20.6" fill="#f9f9ff"/><rect x="114" y="419.7" width="646.4" height="62.1" fill="#fdfdff"/><rect x="783.3" y="419.7" width="412.7" height="62.1" fill="url(#v31)"/><rect x="760.4" y="273.5" width="22.9" height="208" fill="#fdfcff"/><rect x="1196" y="273.5" width="34.5" height="208" fill="#fdfdff"/><rect x="1197" y="333.5" width="34.5" height="1.5" fill="#f1f1ff"/><rect x="1195" y="273.5" width="3" height="8" fill="#ff9999"/><rect x="1196" y="283.5" width="3" height="50" fill="#d9d9ff"/></g></g>
<g clip-path="url(#clip3)"><path d="M114 515.42L115.5 507.44M117.04 514.97L118.54 507.85M120.07 514.53L121.57 508.43M123.11 515.21L124.61 507.84M126.14 515.38L127.64 507.9M129.18 515.2L130.68 508.66M132.22 514.92L133.72 508.83M135.25 515.4L136.75 509.08M138.29 514.97L139.79 508.22M141.32 515.8L142.82 509.33M144.36 517.45L145.86 509.59M147.4 517.76L148.9 510.81M150.43 519.86L151.93 513.47M153.47 521.05L154.97 513.64M156.5 521.87L158 513.96M159.54 522.83L161.04 517.42M162.58 524.26L164.08 517.88M165.61 525.69L167.11 518.42M168.65 526.57L170.15 518.99M171.68 527.7L173.18 520.73M174.72 527.59L176.22 521.33M177.76 529.67L179.26 521.28M180.79 529.43L182.29 523.22M183.83 531.32L185.33 524.09M186.86 532.54L188.36 525.3M189.9 532.85L191.4 525.93M192.94 532.77L194.44 526.65M195.97 534.72L197.47 526.47M199.01 534.76L200.51 527.79M202.04 536.8L203.54 528.51M205.08 537L206.58 529.21M208.12 537.04L209.62 530.13M211.15 538.76L212.65 529.77M214.19 537.53L215.69 531.1M217.22 537.79L218.72 531.14M220.26 538.92L221.76 531.54M223.3 539.07L224.8 530.95M226.33 539.52L227.83 531.95M229.37 538.97L230.87 532.42M232.4 539.12L233.9 533.13M235.44 539.3L236.94 532.92M238.48 539.54L239.98 532.61M241.51 538.95L243.01 531.71M244.55 537.62L246.05 530.36M247.58 537.91L249.08 530.5M250.62 537.96L252.12 531.25M253.66 538.52L255.16 532.01M256.69 539.35L258.19 531.62M259.73 539.33L261.23 532.94M262.76 540.02L264.26 532.8M265.8 540.2L267.3 533.63M268.84 542.13L270.34 534.78M271.87 541.93L273.37 535.81M274.91 542.58L276.41 535.35M277.94 543.19L279.44 535.71M280.98 543.67L282.48 536.34M284.02 543.35L285.52 536.77M287.05 544.37L288.55 537.47M290.09 544.21L291.59 537.99M293.12 543.92L294.62 537.2M296.16 544.07L297.66 537.11M299.2 544.21L300.7 535.52M302.23 543.48L303.73 536.67M305.27 543.78L306.77 535.51M308.3 542.86L309.8 534.54M311.34 542.18L312.84 534.81M314.38 542.17L315.88 533.69M317.41 541.03L318.91 533.29M320.45 541.01L321.95 533.82M323.48 541.31L324.98 533.75M326.52 542.58L328.02 536.4M329.56 544.92L331.06 537.47M332.59 546.48L334.09 539.53M335.63 548.7L337.13 541.78M338.66 547.61L340.16 540.21M341.7 546.77L343.2 538.98M344.74 545.48L346.24 537.97M347.77 544.17L349.27 536.92M350.81 543.24L352.31 535.8M353.84 541.24L355.34 534.56M356.88 539.89L358.38 534.03M359.92 540.13L361.42 532.15M362.95 539.1L364.45 531.35M365.99 537.63L367.49 531.22M369.02 537.37L370.52 530.12M372.06 536.5L373.56 528.53M375.1 537.01L376.6 530.07M378.13 536.65L379.63 529.84M381.17 537.93L382.67 529.66M384.2 537.14L385.7 530.22M387.24 536.67L388.74 529.12M390.28 535.02L391.78 528.37M393.31 533.52L394.81 525.9M396.35 533.05L397.85 524.71M399.38 531.67L400.88 525.88M402.42 531.68L403.92 523.91M405.46 530.74L406.96 524.15M408.49 530.52L409.99 522.45M411.53 529.63L413.03 523M414.56 529.51L416.06 521.39M417.6 528.34L419.1 520.39M420.64 528.89L422.14 521.11M423.67 529.58L425.17 521.36M426.71 528.95L428.21 522.39M429.74 530.75L431.24 522.3M432.78 531.79L434.28 523.56M435.82 531.11L437.32 524.48M438.85 531.29L440.35 523.86M441.89 532.12L443.39 523.94M444.92 533.86L446.42 525.58M447.96 535.76L449.46 528.34M451 538.01L452.5 530.88M454.03 538.64L455.53 531.75M457.07 539.77L458.57 531.51M460.1 538.43L461.6 531.86M463.14 539.1L464.64 532.38M466.18 539.28L467.68 532.48M469.21 539.32L470.71 530.15M472.25 537.71L473.75 529.61M475.28 536.51L476.78 529.04M478.32 536.02L479.82 527.86M481.36 533.86L482.86 526.47M484.39 532.74L485.89 525.06M487.43 530.56L488.93 523.76M490.46 530.16L491.96 522.18M493.5 526.94L495 521.48M496.54 526.75L498.04 519.72M499.57 525.76L501.07 518.33M502.61 523.76L504.11 518.91M505.64 524.72L507.14 517.41M508.68 524.32L510.18 516.36M511.72 522.59L513.22 516.59M514.75 522.88L516.25 516.08M517.79 523.26L519.29 515.78M520.82 523.16L522.32 516.67M523.86 523.89L525.36 516.81M526.9 524.28L528.4 517.25M529.93 524.72L531.43 516.48M532.97 525.4L534.47 517.79M536 525.52L537.5 517.38M539.04 525.15L540.54 519M542.08 525.62L543.58 519.15M545.11 526.24L546.61 519.61M548.15 526.65L549.65 520.32M551.18 527.61L552.68 520.46M554.22 527.82L555.72 520.99M557.26 528.24L558.76 520.85M560.29 530.16L561.79 521.3M563.33 529.82L564.83 522.77M566.36 531.11L567.86 522.12M569.4 530.74L570.9 524.24M572.44 531.6L573.94 525.34M575.47 531.83L576.97 524.54M578.51 532.76L580.01 525.24M581.54 532.16L583.04 526.4M584.58 533.53L586.08 525.34M587.62 533.37L589.12 526.43M590.65 533.95L592.15 527.01M593.69 535.66L595.19 529.28M596.72 537L598.22 529.91M599.76 538.86L601.26 530.59M602.8 539.07L604.3 531.22M605.83 539.51L607.33 532.56M608.87 540.29L610.37 533.55M611.9 539.07L613.4 530.91M614.94 539.46L616.44 531.32M617.98 544.68L619.48 538.72M621.01 551.84L622.51 545.41M624.05 540.86L625.55 533.43M627.08 536.72L628.58 528.89M630.12 535.29L631.62 528.8M633.16 529.31L634.66 522.43M636.19 521.32L637.69 514.81M639.23 518.37L640.73 512.55M642.26 519.68L643.76 513.35M645.3 521.96L646.8 513.2M648.34 520.23L649.84 513.03M651.37 518.87L652.87 511.39M654.41 517.82L655.91 511.54M657.44 516.92L658.94 509.98M660.48 517.56L661.98 511.08M663.52 517.75L665.02 512.27M666.55 520.09L668.05 513.1M669.59 521.54L671.09 513.76M672.62 523.31L674.12 515.95M675.66 526.38L677.16 517.82M678.7 528.13L680.2 521.88M681.73 528.84L683.23 521.54M684.77 529.25L686.27 520.77M687.8 528.13L689.3 520.42M690.84 526.99L692.34 519.72M693.88 525.45L695.38 517.58M696.91 524.57L698.41 516.53M699.95 522.1L701.45 515.16M702.98 521.76L704.48 513.61M706.02 520.01L707.52 513.33M709.06 521.98L710.56 513.59M712.09 522.57L713.59 515.2M715.13 522.94L716.63 516.77M718.16 523.46L719.66 515.2M721.2 520.25L722.7 512.75M724.24 518.47L725.74 511.64M727.27 517.84L728.77 509.31M730.31 516.56L731.81 508.76M733.34 515.35L734.84 507.52M736.38 514.07L737.88 506.64M739.42 514.89L740.92 507.23M742.45 518.02L743.95 509.53M745.49 520.77L746.99 512.68M748.52 522.19L750.02 515.87M751.56 524.53L753.06 517.97M754.6 526.84L756.1 519.06M757.63 527.94L759.13 521.54" fill="none" stroke="#0000ff" stroke-width="1.4" stroke-linecap="round"/><polyline points="114.75,511.51 117.79,511.57 120.82,511.63 123.86,511.68 126.89,511.74 129.93,511.8 132.97,511.85 136,511.91 139.04,511.96 142.07,512.44 145.11,513.63 148.15,514.83 151.18,516.02 154.22,517.21 157.25,518.41 160.29,519.6 163.33,520.79 166.36,521.98 169.4,523.13 172.43,524 175.47,524.86 178.51,525.73 181.54,526.6 184.58,527.47 187.61,528.33 190.65,529.17 193.69,529.93 196.72,530.69 199.76,531.45 202.79,532.21 205.83,532.97 208.87,533.73 211.9,534.16 214.94,534.41 217.97,534.66 221.01,534.91 224.05,535.16 227.08,535.41 230.12,535.66 233.15,535.91 236.19,536.16 239.23,535.93 242.26,535.06 245.3,534.19 248.33,534.38 251.37,534.86 254.41,535.34 257.44,535.81 260.48,536.29 263.51,536.77 266.55,537.31 269.59,537.89 272.62,538.48 275.66,539.07 278.69,539.65 281.73,540.03 284.77,540.39 287.8,540.75 290.84,540.93 293.87,540.69 296.91,540.45 299.95,540.22 302.98,539.98 306.02,539.74 309.05,539.27 312.09,538.75 315.13,538.24 318.16,537.72 321.2,537.2 324.23,537.65 327.27,539.43 330.31,541.21 333.34,543.04 336.38,544.86 339.41,544.16 342.45,542.89 345.49,541.61 348.52,540.33 351.56,539.05 354.59,537.95 357.63,537.09 360.67,536.23 363.7,535.37 366.74,534.5 369.77,533.64 372.81,532.81 375.85,533.17 378.88,533.52 381.92,533.88 384.95,533.65 387.99,532.52 391.03,531.39 394.06,530.26 397.1,529.42 400.13,528.67 403.17,527.92 406.21,527.17 409.24,526.42 412.28,525.74 415.31,525.23 418.35,524.72 421.39,524.84 424.42,525.44 427.46,526.04 430.49,526.64 433.53,527.22 436.57,527.61 439.6,527.99 442.64,528.37 445.67,529.62 448.71,532.14 451.75,534.67 454.78,535.5 457.82,535.5 460.85,535.5 463.89,535.5 466.93,535.5 469.96,535.23 473,534.1 476.03,532.97 479.07,531.84 482.11,530.45 485.14,528.91 488.18,527.36 491.21,525.82 494.25,524.27 497.29,522.94 500.32,522.3 503.36,521.65 506.39,521.01 509.43,520.36 512.47,519.72 515.5,519.07 518.54,519.38 521.57,519.8 524.61,520.23 527.65,520.65 530.68,521.07 533.72,521.5 536.75,521.9 539.79,522.29 542.83,522.68 545.86,523.06 548.9,523.45 551.93,523.84 554.97,524.22 558.01,524.71 561.04,525.46 564.08,526.21 567.11,526.96 570.15,527.71 573.19,528.46 576.22,528.81 579.26,529.07 582.29,529.32 585.33,529.58 588.37,529.84 591.4,530.57 594.44,532.07 597.47,533.57 600.51,534.59 603.55,535.36 606.58,536.13 609.62,536.89 612.65,535.37 615.69,535.19 618.73,541.34 621.76,548.59 624.8,537.3 627.83,532.51 630.87,532.66 633.91,525.6 636.94,518.54 639.98,515.38 643.01,516.61 646.05,517.42 649.09,516.49 652.12,515.57 655.16,514.65 658.19,513.72 661.23,514.16 664.27,515.32 667.3,516.47 670.34,517.67 673.37,520.02 676.41,522.38 679.45,524.73 682.48,525.51 685.52,524.74 688.55,523.96 691.59,523.19 694.63,521.77 697.66,520.26 700.7,518.76 703.73,517.25 706.77,516.54 709.81,517.67 712.84,518.81 715.88,519.94 718.91,519.01 721.95,517.1 724.99,515.2 728.02,513.35 731.06,512.39 734.09,511.43 737.13,510.47 740.17,511.04 743.2,513.89 746.24,516.74 749.27,519.01 752.31,521.03 755.35,523.04 758.38,525.06" fill="none" stroke="#0000ff" stroke-width="4.68" stroke-opacity="0.2" stroke-linejoin="round"/><path d="M783.8 539.83L785.3 534.46M786.97 539.67L788.47 535.07M790.14 541.21L791.64 535.63M793.3 541.74L794.8 536.33M796.47 542.15L797.97 536.71M799.64 540.87L801.14 535.25M802.81 539.54L804.31 532.91M805.98 536.61L807.48 532.96M809.14 535.99L810.64 530.24M812.31 535.1L813.81 529.42M815.48 533.18L816.98 529.12M818.65 532.98L820.15 527.56M821.82 532.77L823.32 527.87M824.98 534.02L826.48 528.35M828.15 534.72L829.65 529.69M831.32 533.92L832.82 530.16M834.49 535.42L835.99 529.24M837.66 533.81L839.16 529.39M840.82 533.12L842.32 528.08M843.99 532.13L845.49 527.59M847.16 533.94L848.66 529.25M850.33 535.46L851.83 530.86M853.5 537.66L855 532.91M856.66 539.98L858.16 533.95M859.83 543.35L861.33 538.89" fill="none" stroke="#0000ff" stroke-width="1.4" stroke-linecap="round"/><polyline points="784.55,536.92 787.72,537.64 790.89,538.35 794.05,539.07 797.22,539.51 800.39,537.9 803.56,536.29 806.73,534.67 809.89,533.42 813.06,532.38 816.23,531.33 819.4,530.28 822.57,530.52 825.73,531.23 828.9,531.94 832.07,532.65 835.24,532.24 838.41,531.52 841.57,530.81 844.74,530.09 847.91,531.54 851.08,533.3 854.25,535.06 857.41,536.82 860.58,540.44" fill="none" stroke="#0000ff" stroke-width="3.38" stroke-opacity="0.2" stroke-linejoin="round"/><polyline points="862,544.25 862.35,541.06 864.3,546.05 864.65,541.97 866.6,548.03 866.95,546.01 868.9,546.42 869.25,544.11 871.2,546.07 871.55,544.29 873.5,548.01 873.85,542.91 875.8,546.68 876.15,544.67 878.1,546.83 878.45,542.51 880.4,545.85 880.75,541.89 882.7,547.52 883.05,542.9 885,547.74 885.35,544.19 887.3,546.37 887.65,543.08 889.6,548.52 889.95,544.62 891.9,549.26 892.25,544.33 894.2,550.92 894.55,546.1 896.5,549.53 896.85,547.46 898.8,552.79 899.15,550.73 901.1,552.72 901.45,548.55 903.4,555.28 903.75,550.31 905.7,553.94 906.05,549.89 908,553.92 908.35,552.5 910.3,555.07 910.65,551.46 912.6,555.45 912.95,553.71 914.9,555.95 915.25,553.53 917.2,553.69 917.55,550.27 919.5,549.3 919.85,547.12 921.8,547.81 922.15,543.08 924.1,543.67 924.45,539.97 926.4,545.55 926.75,541.78 928.7,546.31 929.05,543 931,546.21 931.35,544.62 933.3,548.6 933.65,544.95 935.6,549.9 935.95,547.06 937.9,551.06 938.25,546.94 940.2,553.26 940.55,548.58 942.5,553.05 942.85,548.98 944.8,555.3 945.15,551.05 947.1,556.59 947.45,553.96 949.4,558.75 949.75,556.13 951.7,560.68 952.05,556.71 954,561.66 954.35,558.12 956.3,561.59 956.65,557.69 958.6,559.88 958.95,557.49 960.9,559.43 961.25,555.58 963.2,557.29 963.55,555.45 965.5,558.09 965.85,554.54 967.8,557.55 968.15,553.83 970.1,557.72 970.45,554.69 972.4,557.8 972.75,554.38 974.7,557.53 975.05,554.77 977,557.76 977.35,553.57 979.3,557.5 979.65,554.12 981.6,556.86 981.95,552.7 983.9,555.37 984.25,551.2 986.2,555.44 986.55,549.73 988.5,553.84 988.85,550.48 990.8,555.3 991.15,551.22 993.1,555.56 993.45,551.79 995.4,557.47 995.75,554.73 997.7,559.81 998.05,556.21 1000,560.93 1000.35,557.91 1002.3,561.79 1002.65,556.72 1004.6,559.58 1004.95,557.45 1006.9,558.55 1007.25,554.35 1009.2,557.2 1009.55,552.67 1011.5,555.23 1011.85,553.07 1013.8,558.02 1014.15,551.74 1016.1,558.61 1016.45,556.2 1018.4,559.15 1018.75,556.39 1020.7,562.33 1021.05,557.33 1023,563.03 1023.35,559.22 1025.3,561.06 1025.65,559.48 1027.6,560.93 1027.95,558.42 1029.9,561.22 1030.25,556.7 1032.2,557.73 1032.55,554.98 1034.5,556.66 1034.85,553.91 1036.8,553.85 1037.15,550.67 1039.1,552.21 1039.45,550.94 1041.4,552.68 1041.75,548.79 1043.7,550.97 1044.05,547.69 1046,549.66 1046.35,546.74 1048.3,549.24 1048.65,547.35 1050.6,550 1050.95,545.69 1052.9,549.39 1053.25,547.42 1055.2,550.33 1055.55,546.8 1057.5,550.66 1057.85,547.95 1059.8,549.22 1060.15,546.19 1062.1,550.16 1062.45,548.55 1064.4,552.73 1064.75,549.1 1066.7,553.91 1067.05,551.67 1069,554.76 1069.35,551.05 1071.3,555.5 1071.65,550.26 1073.6,553.11 1073.95,552.79 1075.9,553.45 1076.25,549.91 1078.2,552.78 1078.55,549.86 1080.5,553.62 1080.85,550.19 1082.8,553.05 1083.15,548.99 1085.1,551.08 1085.45,549.1 1087.4,553.2 1087.75,549.44 1089.7,551.56 1090.05,548.94 1092,551.1 1092.35,547.96 1094.3,550.13 1094.65,547.46 1096.6,552.12 1096.95,548.47 1098.9,554.28 1099.25,551.77 1101.2,556.37 1101.55,551.67 1103.5,556.38 1103.85,553.04 1105.8,556.7 1106.15,554.1 1108.1,556.84 1108.45,553.25 1110.4,555.69 1110.75,552.26 1112.7,554.46 1113.05,550.57 1115,554.85 1115.35,550.91 1117.3,551.22 1117.65,547.82 1119.6,549.95 1119.95,547.05 1121.9,549.9 1122.25,546.31 1124.2,549.85 1124.55,546.47 1126.5,551.04 1126.85,547.34 1128.8,551.66 1129.15,547.8 1131.1,551.05 1131.45,548.95 1133.4,555.04 1133.75,549.77 1135.7,553.06 1136.05,550.97 1138,553.33 1138.35,549.48 1140.3,554.22 1140.65,550.07 1142.6,553.29 1142.95,548.83 1144.9,552.73 1145.25,549.23 1147.2,551.43 1147.55,548.33 1149.5,550.19 1149.85,546.02 1151.8,548.31 1152.15,543.45 1154.1,547.08 1154.45,543.71 1156.4,545.48 1156.75,541.77 1158.7,544.96 1159.05,540.64 1161,544.51 1161.35,541.07 1163.3,544.29 1163.65,541.69 1165.6,547.05 1165.95,543.65 1167.9,548.16 1168.25,543.83 1170.2,548.23 1170.55,544.79 1172.5,550.11 1172.85,548.12 1174.8,551.64 1175.15,548.38 1177.1,552.47 1177.45,546.7 1179.4,552.11 1179.75,548.53 1181.7,554.15 1182.05,551.1 1184,553.57 1184.35,550.73 1186.3,555.68 1186.65,551.44 1188.6,555.87 1188.95,552.43 1190.9,558.21 1191.25,553.38 1193.2,561.75 1193.55,557.52" fill="none" stroke="#0000ff" stroke-width="1.6" stroke-linejoin="round" stroke-linecap="round"/><polyline points="1194.7,561.7 1195.6,571.13 1199.8,679.6" fill="none" stroke="#0000ff" stroke-width="1" stroke-opacity="0.75" stroke-linejoin="round"/><path d="M114 587.23L115.5 581.69M117.04 586.71L118.54 581.97M120.07 586.66L121.57 582.41M123.11 586.59L124.61 582.73M126.14 586.69L127.64 582.58M129.18 586.97L130.68 581.93M132.22 587.18L133.72 582.6M135.25 587.38L136.75 582.63M138.29 587.79L139.79 583.28M141.32 588.1L142.82 582.74M144.36 588.94L145.86 583.41M147.4 588.94L148.9 584.28M150.43 589.03L151.93 584.84M153.47 589.67L154.97 585.23M156.5 590.31L158 585.74M159.54 590.73L161.04 587.03M162.58 591.94L164.08 587.75M165.61 592.28L167.11 587.97M168.65 592.78L170.15 588.63M171.68 594.14L173.18 588.65M174.72 594.4L176.22 590.15M177.76 594.87L179.26 590.73M180.79 595.7L182.29 590.42M183.83 596.52L185.33 591.56M186.86 596.55L188.36 592.13M189.9 596.87L191.4 592.42M192.94 597.48L194.44 593.45M195.97 598.51L197.47 593.59M199.01 599.5L200.51 594.95M202.04 600.06L203.54 595.49M205.08 601.23L206.58 595.52M208.12 601.47L209.62 597M211.15 600.97L212.65 596.44M214.19 601.15L215.69 597.55M217.22 601.64L218.72 597.45M220.26 602.07L221.76 597.43M223.3 602.16L224.8 597.32M226.33 602.11L227.83 597.91M229.37 602.43L230.87 597.93M232.4 602.1L233.9 597.88M235.44 602.45L236.94 597.83M238.48 602.48L239.98 598.07M241.51 602.93L243.01 597.39M244.55 601.6L246.05 597.42M247.58 602.21L249.08 596.63M250.62 601.68L252.12 596.78M253.66 601.43L255.16 597.18M256.69 602.18L258.19 596.82M259.73 602.17L261.23 597.66M262.76 602.37L264.26 597.93M265.8 602.41L267.3 597.49M268.84 602.57L270.34 598.23M271.87 603.5L273.37 598.59M274.91 603.59L276.41 599.25M277.94 603.82L279.44 599.51M280.98 604.38L282.48 599.03M284.02 604.11L285.52 600.33M287.05 605.16L288.55 600.1M290.09 605.58L291.59 600.11M293.12 605.72L294.62 600.57M296.16 604.83L297.66 600.77M299.2 604.72L300.7 600.13M302.23 604.8L303.73 599.87M305.27 604.42L306.77 599.95M308.3 604.36L309.8 600.59M311.34 604.12L312.84 599.77M314.38 604.19L315.88 599.92M317.41 604.28L318.91 599.46M320.45 604.54L321.95 599.27M323.48 604.06L324.98 599.84M326.52 604.44L328.02 599.68M329.56 604.88L331.06 601.12M332.59 606.83L334.09 601.62M335.63 607.28L337.13 603.01M338.66 607.29L340.16 602.7M341.7 607.01L343.2 601.77M344.74 606.13L346.24 601.34M347.77 606.01L349.27 600.27M350.81 605.6L352.31 600.5M353.84 604.64L355.34 599.79M356.88 604.29L358.38 599.38M359.92 603.21L361.42 599.47M362.95 602.94L364.45 598.12M365.99 602.72L367.49 597.18M369.02 601.92L370.52 596.85M372.06 601.46L373.56 597.29M375.1 601.22L376.6 596.15M378.13 601.09L379.63 595.61M381.17 600.62L382.67 595.45M384.2 600.32L385.7 595.17M387.24 599.88L388.74 595.68M390.28 599.76L391.78 595.39M393.31 599.96L394.81 594.67M396.35 598.69L397.85 594.03M399.38 598.56L400.88 594.71M402.42 598.15L403.92 593.91M405.46 598.46L406.96 594.02M408.49 598.69L409.99 592.85M411.53 598.04L413.03 593.38M414.56 597.49L416.06 593.14M417.6 596.99L419.1 592.79M420.64 597.56L422.14 592.6M423.67 597.82L425.17 593.26M426.71 598.22L428.21 593.26M429.74 598.71L431.24 593.67M432.78 598.63L434.28 594.33M435.82 598.89L437.32 594.45M438.85 599.73L440.35 595.22M441.89 599.52L443.39 596.1M444.92 601.06L446.42 595.29M447.96 601.25L449.46 596M451 600.82L452.5 596.28M454.03 601.64L455.53 596.54M457.07 601.53L458.57 596.86M460.1 600.9L461.6 596.1M463.14 600.94L464.64 595.64M466.18 600.74L467.68 596.48M469.21 600.63L470.71 595.64M472.25 600.13L473.75 595.98M475.28 600.54L476.78 595.28M478.32 600.5L479.82 595.65M481.36 600.27L482.86 595.11M484.39 599.31L485.89 594.75M487.43 598.92L488.93 594.14M490.46 598.28L491.96 593.49M493.5 597.68L495 592.8M496.54 597.26L498.04 592.68M499.57 596.75L501.07 592.88M502.61 596.6L504.11 591.29M505.64 595.62L507.14 591.91M508.68 595.48L510.18 590.4M511.72 594.49L513.22 590.69M514.75 594.55L516.25 589.1M517.79 594.32L519.29 590.07M520.82 595.09L522.32 589.85M523.86 595.14L525.36 590.29M526.9 594.63L528.4 589.9M529.93 594.51L531.43 590.43M532.97 595.37L534.47 590.4M536 595.07L537.5 590.97M539.04 595.36L540.54 590.03M542.08 595.18L543.58 590.73M545.11 596.64L546.61 589.71M548.15 595.18L549.65 591.54M551.18 595.83L552.68 590.29M554.22 594.67L555.72 590.72M557.26 596.1L558.76 590.72M560.29 596.6L561.79 591.52M563.33 596.53L564.83 592.02M566.36 596.57L567.86 591.97M569.4 596.87L570.9 592.8M572.44 597.82L573.94 593.17M575.47 598.35L576.97 592.86M578.51 598.6L580.01 593.18M581.54 597.88L583.04 593.83M584.58 598.95L586.08 593.81M587.62 598.65L589.12 594.88M590.65 599.14L592.15 594.74M593.69 599.73L595.19 594.19M596.72 599.64L598.22 594.75M599.76 599.65L601.26 595.15M602.8 599.42L604.3 595.33M605.83 598.92L607.33 594.81M608.87 599.12L610.37 593.92M611.9 599.02L613.4 594.61M614.94 598.95L616.44 594.2M617.98 601.1L619.48 597.28M621.01 603.38L622.51 599M624.05 600.37L625.55 595.64M627.08 597.52L628.58 593.03M630.12 595.73L631.62 592.13M633.16 594.19L634.66 590.28M636.19 592.83L637.69 588.12M639.23 592L640.73 586.57M642.26 591.89L643.76 586.92M645.3 590.98L646.8 586.9M648.34 591.39L649.84 586.19M651.37 591.17L652.87 586.49M654.41 590.45L655.91 586.33M657.44 590.56L658.94 586.61M660.48 591.47L661.98 586.25M663.52 591.93L665.02 587.66M666.55 592.36L668.05 587.69M669.59 593.47L671.09 587.63M672.62 594.16L674.12 588.93M675.66 595.44L677.16 590.86M678.7 596.93L680.2 592.22M681.73 597.32L683.23 592.59M684.77 597.09L686.27 591.21M687.8 596.45L689.3 591.42M690.84 595.86L692.34 591.23M693.88 595.69L695.38 590.97M696.91 594.57L698.41 590.57M699.95 596.07L701.45 590.29M702.98 594.49L704.48 590.26M706.02 593.92L707.52 589.71M709.06 593.84L710.56 588.4M712.09 592.95L713.59 588.2M715.13 592.69L716.63 587.89M718.16 592.12L719.66 587.44M721.2 591.35L722.7 587.78M724.24 591.28L725.74 586.2M727.27 590.28L728.77 585.81M730.31 589.71L731.81 584.33M733.34 589.71L734.84 585.84M736.38 590.33L737.88 585.58M739.42 591.03L740.92 586.57M742.45 591.93L743.95 587.86M745.49 593L746.99 588.97M748.52 593.67L750.02 589.4M751.56 594.51L753.06 590.06M754.6 595.3L756.1 591.47M757.63 596.4L759.13 591.9" fill="none" stroke="#0020bf" stroke-width="1.35" stroke-linecap="round"/><polyline points="114.75,584.33 117.79,584.43 120.82,584.53 123.86,584.63 126.89,584.73 129.93,584.83 132.97,584.93 136,585.04 139.04,585.14 142.07,585.42 145.11,586.02 148.15,586.61 151.18,587.21 154.22,587.81 157.25,588.4 160.29,589 163.33,589.6 166.36,590.19 169.4,590.79 172.43,591.41 175.47,592.02 178.51,592.63 181.54,593.25 184.58,593.86 187.61,594.48 190.65,595.09 193.69,595.71 196.72,596.32 199.76,596.94 202.79,597.55 205.83,598.17 208.87,598.78 211.9,599.09 214.94,599.23 217.97,599.37 221.01,599.51 224.05,599.65 227.08,599.8 230.12,599.94 233.15,600.08 236.19,600.22 239.23,600.18 242.26,599.9 245.3,599.62 248.33,599.34 251.37,599.05 254.41,599.25 257.44,599.55 260.48,599.85 263.51,600.16 266.55,600.46 269.59,600.76 272.62,601.07 275.66,601.37 278.69,601.67 281.73,601.98 284.77,602.28 287.8,602.59 290.84,602.77 293.87,602.68 296.91,602.59 299.95,602.49 302.98,602.4 306.02,602.31 309.05,602.21 312.09,602.12 315.13,602.03 318.16,601.94 321.2,601.84 324.23,601.75 327.27,602.16 330.31,603.15 333.34,604.13 336.38,605.11 339.41,604.87 342.45,604.33 345.49,603.8 348.52,603.26 351.56,602.73 354.59,602.2 357.63,601.66 360.67,601.13 363.7,600.59 366.74,600.06 369.77,599.52 372.81,598.99 375.85,598.72 378.88,598.45 381.92,598.18 384.95,597.91 387.99,597.64 391.03,597.36 394.06,597.09 397.1,596.82 400.13,596.55 403.17,596.28 406.21,596 409.24,595.73 412.28,595.46 415.31,595.19 418.35,594.92 421.39,595.02 424.42,595.41 427.46,595.79 430.49,596.18 433.53,596.56 436.57,596.95 439.6,597.33 442.64,597.72 445.67,598.1 448.71,598.49 451.75,598.87 454.78,598.93 457.82,598.81 460.85,598.7 463.89,598.59 466.93,598.48 469.96,598.37 473,598.26 476.03,598.14 479.07,598.03 482.11,597.64 485.14,597.13 488.18,596.62 491.21,596.12 494.25,595.61 497.29,595.1 500.32,594.6 503.36,594.09 506.39,593.58 509.43,593.07 512.47,592.57 515.5,592.06 518.54,592.09 521.57,592.19 524.61,592.3 527.65,592.4 530.68,592.5 533.72,592.61 536.75,592.71 539.79,592.81 542.83,592.91 545.86,593.02 548.9,593.12 551.93,593.22 554.97,593.33 558.01,593.49 561.04,593.79 564.08,594.1 567.11,594.41 570.15,594.72 573.19,595.03 576.22,595.33 579.26,595.64 582.29,595.95 585.33,596.26 588.37,596.57 591.4,596.87 594.44,597.18 597.47,597.49 600.51,597.43 603.55,597.18 606.58,596.92 609.62,596.67 612.65,596.41 615.69,596.63 618.73,599.05 621.76,601.47 624.8,598.01 627.83,595.36 630.87,593.84 633.91,592.32 636.94,590.8 639.98,589.3 643.01,589.17 646.05,589.05 649.09,588.92 652.12,588.8 655.16,588.67 658.19,588.54 661.23,588.91 664.27,589.53 667.3,590.16 670.34,590.84 673.37,591.98 676.41,593.11 679.45,594.24 682.48,594.63 685.52,594.29 688.55,593.94 691.59,593.6 694.63,593.26 697.66,592.92 700.7,592.58 703.73,592.24 706.77,591.84 709.81,591.3 712.84,590.75 715.88,590.21 718.91,589.67 721.95,589.13 724.99,588.59 728.02,588.05 731.06,587.51 734.09,587.3 737.13,588.13 740.17,588.97 743.2,589.8 746.24,590.63 749.27,591.46 752.31,592.29 755.35,593.12 758.38,593.95" fill="none" stroke="#0020bf" stroke-width="2.99" stroke-opacity="0.2" stroke-linejoin="round"/><path d="M783.8 602.19L785.3 598.46M786.97 602.02L788.47 598.86M790.14 602.69L791.64 599.59M793.3 603L794.8 599.3M796.47 602.85L797.97 599.14M799.64 602.85L801.14 599.37M802.81 602.09L804.31 597.9M805.98 600.94L807.48 598.21M809.14 600.85L810.64 597.4M812.31 600.36L813.81 596.7M815.48 599.12L816.98 596.19M818.65 599.48L820.15 595.1M821.82 598.81L823.32 595.28M824.98 598.89L826.48 596.02M828.15 599.57L829.65 595.07M831.32 598.97L832.82 595.75M834.49 599.44L835.99 595.43M837.66 599.72L839.16 595.11M840.82 599.33L842.32 595.94M843.99 599.41L845.49 596.03M847.16 599.33L848.66 597.12M850.33 601.59L851.83 597.79M853.5 602.24L855 598.68M856.66 603.16L858.16 599.88M859.83 603.82L861.33 600.3" fill="none" stroke="#0020bf" stroke-width="1.35" stroke-linecap="round"/><polyline points="784.55,600.31 787.72,600.67 790.89,601.03 794.05,601.38 797.22,601.63 800.39,600.99 803.56,600.35 806.73,599.72 809.89,599.08 813.06,598.44 816.23,597.81 819.4,597.17 822.57,597.06 825.73,597.13 828.9,597.21 832.07,597.28 835.24,597.36 838.41,597.44 841.57,597.51 844.74,597.59 847.91,598.49 851.08,599.51 854.25,600.52 857.41,601.54 860.58,602.56" fill="none" stroke="#0020bf" stroke-width="2.34" stroke-opacity="0.2" stroke-linejoin="round"/><polyline points="862,605.27 862.35,601.3 864.3,603.78 864.65,601.24 866.6,603.91 866.95,601.61 868.9,604.55 869.25,601.94 871.2,604.43 871.55,601.57 873.5,604.24 873.85,602.49 875.8,604.28 876.15,602.05 878.1,603.56 878.45,602.44 880.4,605.14 880.75,603.25 882.7,604.06 883.05,603.05 885,605.8 885.35,603.5 887.3,605.97 887.65,603.99 889.6,607.07 889.95,604.34 891.9,607 892.25,604.64 894.2,607.38 894.55,605.19 896.5,607.64 896.85,604.6 898.8,609.09 899.15,605.13 901.1,608.61 901.45,605.61 903.4,608.78 903.75,606.04 905.7,609.15 906.05,606.35 908,608.78 908.35,607.18 910.3,610.35 910.65,607.46 912.6,609.99 912.95,607.01 914.9,610.15 915.25,608.02 917.2,609.61 917.55,607.99 919.5,608.2 919.85,606 921.8,606.26 922.15,603.87 924.1,604.91 924.45,602.59 926.4,604.79 926.75,601.71 928.7,604.73 929.05,602.69 931,604.65 931.35,603.7 933.3,606.22 933.65,603.68 935.6,606.19 935.95,604.56 937.9,606.89 938.25,605.58 940.2,607.71 940.55,604.37 942.5,608.36 942.85,605.33 944.8,608.22 945.15,605.96 947.1,608.9 947.45,606.69 949.4,609.83 949.75,607.27 951.7,609.57 952.05,606.86 954,609.96 954.35,608.15 956.3,610.75 956.65,608.81 958.6,609.58 958.95,607.9 960.9,610.09 961.25,607.6 963.2,610.21 963.55,607.62 965.5,609.95 965.85,607.36 967.8,610.23 968.15,608.16 970.1,610.79 970.45,607.31 972.4,609.39 972.75,607.39 974.7,609.45 975.05,607.98 977,609.4 977.35,607.45 979.3,609.12 979.65,607.21 981.6,609.94 981.95,608.21 983.9,609.55 984.25,607.68 986.2,608.91 986.55,606.95 988.5,609.6 988.85,607.36 990.8,610.28 991.15,607.98 993.1,609.32 993.45,607.98 995.4,609.62 995.75,608.69 997.7,610.39 998.05,607.91 1000,610.2 1000.35,607.87 1002.3,610.34 1002.65,607.6 1004.6,610.82 1004.95,608.18 1006.9,610.97 1007.25,608.16 1009.2,611.08 1009.55,607.96 1011.5,612.67 1011.85,608.13 1013.8,610.81 1014.15,609.12 1016.1,611.8 1016.45,608.39 1018.4,610.5 1018.75,608.23 1020.7,610.98 1021.05,608.69 1023,611.54 1023.35,609.74 1025.3,612.31 1025.65,609.07 1027.6,612.19 1027.95,609.96 1029.9,612.37 1030.25,609.19 1032.2,610.87 1032.55,609.21 1034.5,611.57 1034.85,608.15 1036.8,611.36 1037.15,608.84 1039.1,609.82 1039.45,606.77 1041.4,609.22 1041.75,606.95 1043.7,609.36 1044.05,605.86 1046,609.88 1046.35,607.44 1048.3,608.05 1048.65,605.08 1050.6,608.49 1050.95,606.39 1052.9,609.41 1053.25,606.69 1055.2,608.8 1055.55,605.51 1057.5,609.31 1057.85,607.08 1059.8,609.06 1060.15,606.96 1062.1,609.48 1062.45,606.86 1064.4,608.96 1064.75,607.31 1066.7,608.99 1067.05,608 1069,609.34 1069.35,607.63 1071.3,609.45 1071.65,607.61 1073.6,609.75 1073.95,607.72 1075.9,609.49 1076.25,606.67 1078.2,609.78 1078.55,607.34 1080.5,609.2 1080.85,607.2 1082.8,609.15 1083.15,607.64 1085.1,609.83 1085.45,607.62 1087.4,611.35 1087.75,607.73 1089.7,610.27 1090.05,608 1092,610.05 1092.35,607.42 1094.3,610.59 1094.65,608.26 1096.6,608.72 1096.95,607.7 1098.9,610.05 1099.25,607.53 1101.2,610.87 1101.55,607.58 1103.5,610.71 1103.85,607.61 1105.8,610.11 1106.15,608.28 1108.1,609.98 1108.45,607.87 1110.4,609.47 1110.75,607.18 1112.7,609.84 1113.05,607.37 1115,608.35 1115.35,605.93 1117.3,609.65 1117.65,605.65 1119.6,607.39 1119.95,605.68 1121.9,606.89 1122.25,604.69 1124.2,607.42 1124.55,605.07 1126.5,606.73 1126.85,605.1 1128.8,606.62 1129.15,604.17 1131.1,606.55 1131.45,604 1133.4,606.67 1133.75,604.15 1135.7,605.88 1136.05,603.96 1138,605.86 1138.35,603.44 1140.3,605.91 1140.65,604.09 1142.6,605.98 1142.95,604.08 1144.9,606.48 1145.25,603.28 1147.2,605.26 1147.55,602.77 1149.5,605.56 1149.85,603.45 1151.8,606.07 1152.15,602.22 1154.1,605.6 1154.45,603.27 1156.4,606.21 1156.75,602.69 1158.7,604.86 1159.05,601.72 1161,604.91 1161.35,602.35 1163.3,605.21 1163.65,602.87 1165.6,605.37 1165.95,603.69 1167.9,606.74 1168.25,604.53 1170.2,606.92 1170.55,605.1 1172.5,607.92 1172.85,604.23 1174.8,607.67 1175.15,604.78 1177.1,607.73 1177.45,605.91 1179.4,608.56 1179.75,606.95 1181.7,610.03 1182.05,606.82 1184,609.3 1184.35,606.92 1186.3,609.78 1186.65,607.67 1188.6,609.81 1188.95,608.07 1190.9,610.44 1191.25,608.69 1193.2,611.63 1193.55,609.42" fill="none" stroke="#0020bf" stroke-width="1.4" stroke-linejoin="round" stroke-linecap="round"/><polyline points="1194.7,610 1195.6,615.57 1199.8,679.6" fill="none" stroke="#0020bf" stroke-width="1" stroke-opacity="0.75" stroke-linejoin="round"/><polyline points="114,621.24 116.5,621.01 119,621.05 121.5,621.6 124,621.4 126.5,621.47 129,622 131.5,621.94 134,622.58 136.5,623.09 139,622.58 141.5,622.88 144,622.45 146.5,623.12 149,622.99 151.5,623 154,622.91 156.5,624.09 159,623.26 161.5,623.52 164,624.02 166.5,624.24 169,624.38 171.5,624.46 174,624.3 176.5,624.93 179,624.9 181.5,624.54 184,625.59 186.5,625.15 189,625.67 191.5,625.09 194,625.3 196.5,625.62 199,625.73 201.5,626.38 204,625.73 206.5,626.41 209,626.2 211.5,626.81 214,626.86 216.5,626.78 219,627.75 221.5,627.22 224,627.7 226.5,627.12 229,627.63 231.5,627.84 234,628 236.5,628 239,627.99 241.5,627.46 244,628.36 246.5,628.4 249,628.75 251.5,629.22 254,629.78 256.5,629.42 259,629.71 261.5,629.73 264,629.91 266.5,630.01 269,629.9 271.5,630.03 274,630.37 276.5,630.95 279,630.79 281.5,631.19 284,630.46 286.5,631.07 289,631.26 291.5,631.32 294,630.71 296.5,630.53 299,630.4 301.5,630.87 304,631.65 306.5,630.96 309,630.49 311.5,630.91 314,630.67 316.5,630.77 319,630.57 321.5,630.34 324,630.6 326.5,630.99 329,630.89 331.5,631.19 334,630.53 336.5,631.19 339,630.91 341.5,630.98 344,631.32 346.5,630.93 349,631.06 351.5,631.2 354,631.23 356.5,631.3 359,631.47 361.5,631.26 364,630.99 366.5,631.88 369,631.16 371.5,631.31 374,631 376.5,630.61 379,631.08 381.5,631.37 384,631.55 386.5,631.44 389,631.71 391.5,631.81 394,631.85 396.5,631.59 399,631.66 401.5,631.61 404,631.45 406.5,632.18 409,631.42 411.5,631.81 414,631.94 416.5,631.28 419,632.18 421.5,631.89 424,632.16 426.5,632.13 429,631.89 431.5,632.54 434,632.65 436.5,633.04 439,633.02 441.5,632.5 444,633.46 446.5,633.5 449,633.62 451.5,633.67 454,633.44 456.5,633.94 459,633.8 461.5,634.87 464,633.88 466.5,633.57 469,633.75 471.5,634.23 474,633.57 476.5,632.96 479,634.08 481.5,633.69 484,633.39 486.5,633.7 489,633.16 491.5,632.98 494,633.48 496.5,632.91 499,633.09 501.5,632.8 504,632.91 506.5,632.55 509,631.77 511.5,632.46 514,631.97 516.5,632.29 519,632.1 521.5,632.53 524,632.06 526.5,631.58 529,632.14 531.5,632.43 534,632.22 536.5,632.22 539,632.85 541.5,632.4 544,632.8 546.5,632.58 549,632.14 551.5,632.33 554,632.56 556.5,632.79 559,632.5 561.5,632.36 564,632.52 566.5,632.71 569,632.65 571.5,632.78 574,633.55 576.5,633.12 579,632.83 581.5,633.12 584,633.64 586.5,633.4 589,633.22 591.5,632.88 594,632.82 596.5,633.27 599,633.38 601.5,632.94 604,633.04 606.5,633.44 609,632.8 611.5,632.96 614,633.47 616.5,633.67 619,633.61 621.5,635.42 624,634.77 626.5,633.19 629,632.36 631.5,632.61 634,632 636.5,631.3 639,630.3 641.5,630.19 644,628.97 646.5,629.21 649,628.57 651.5,629.19 654,629.62 656.5,629.32 659,629.8 661.5,629.31 664,629.34 666.5,629.22 669,629.47 671.5,629.3 674,629.68 676.5,629.8 679,629.43 681.5,628.94 684,629.39 686.5,629.57 689,629.3 691.5,629.13 694,629.27 696.5,629.32 699,628.08 701.5,629.26 704,628.98 706.5,628.83 709,628.46 711.5,628.63 714,628.69 716.5,628 719,628.61 721.5,628.35 724,628.71 726.5,628.41 729,628.1 731.5,628.11 734,628.22 736.5,628.02 739,628.08 741.5,627.64 744,627.42 746.5,627.56 749,627.24 751.5,627.38 754,627.66 756.5,627 759,627.07" fill="none" stroke="#004080" stroke-width="1.6" stroke-linejoin="round" stroke-linecap="round"/><polyline points="783.8,629.49 786.3,629.02 788.8,628.99 791.3,628.43 793.8,628.3 796.3,628.34 798.8,628.73 801.3,628.18 803.8,627.36 806.3,627.81 808.8,627.76 811.3,627.5 813.8,626.74 816.3,626.9 818.8,627.37 821.3,626.33 823.8,626.69 826.3,626.34 828.8,626.17 831.3,626.4 833.8,626.82 836.3,626.84 838.8,626.2 841.3,626.31 843.8,626.16 846.3,625.79 848.8,626.57 851.3,626.84 853.8,626.8 856.3,626.19 858.8,626.71 861.3,626.62" fill="none" stroke="#004080" stroke-width="1.6" stroke-linejoin="round" stroke-linecap="round"/><polyline points="862,626.18 864.5,626.26 867,626.13 869.5,626.3 872,626.75 874.5,625.9 877,625.8 879.5,626.4 882,626.14 884.5,625.53 887,625.77 889.5,625.81 892,625.85 894.5,626.11 897,626.29 899.5,625.93 902,626 904.5,625.71 907,626.22 909.5,626.29 912,625.79 914.5,625.63 917,626.45 919.5,626.08 922,625.52 924.5,625.26 927,625.66 929.5,626.08 932,625.54 934.5,625.61 937,625.51 939.5,625.83 942,626.04 944.5,625.22 947,625.49 949.5,625.5 952,625.35 954.5,625.15 957,625.74 959.5,625.52 962,625.67 964.5,625.88 967,625.3 969.5,625.55 972,625.25 974.5,625.32 977,625.42 979.5,625.25 982,624.83 984.5,625.71 987,625.29 989.5,624.88 992,624.54 994.5,625.17 997,625.35 999.5,625.44 1002,625.45 1004.5,624.98 1007,625.27 1009.5,624.59 1012,625.08 1014.5,625.28 1017,624.81 1019.5,624.92 1022,624.98 1024.5,624.97 1027,625.35 1029.5,624.56 1032,625.26 1034.5,624.47 1037,624.62 1039.5,624.57 1042,624.75 1044.5,624.61 1047,624.88 1049.5,624.72 1052,625.36 1054.5,624.79 1057,624.58 1059.5,624.74 1062,624.81 1064.5,624.57 1067,624.29 1069.5,624.38 1072,624.68 1074.5,624.88 1077,624.77 1079.5,624.6 1082,624.8 1084.5,624.48 1087,624.7 1089.5,625.05 1092,624.96 1094.5,625.03 1097,624.52 1099.5,624.69 1102,624.32 1104.5,624.9 1107,624.5 1109.5,624.23 1112,624.48 1114.5,624.7 1117,623.96 1119.5,624.2 1122,624.92 1124.5,624.6 1127,624.48 1129.5,623.93 1132,624.8 1134.5,624.56 1137,624.38 1139.5,623.75 1142,624.18 1144.5,624.27 1147,623.75 1149.5,623.69 1152,623.54 1154.5,623.78 1157,623.45 1159.5,623.35 1162,622.92 1164.5,622.78 1167,623.48 1169.5,623.59 1172,623.3 1174.5,623.57 1177,623.13 1179.5,623.43 1182,623.7 1184.5,623.69 1187,624.38 1189.5,623.63 1192,624 1194.5,624.22" fill="none" stroke="#004080" stroke-width="1.6" stroke-linejoin="round" stroke-linecap="round"/><polyline points="1194.7,624.3 1195.6,628.72 1199.8,679.6" fill="none" stroke="#004080" stroke-width="1.4" stroke-opacity="1" stroke-linejoin="round"/><polyline points="114,636.61 116.5,637.17 119,636.41 121.5,637.44 124,637.47 126.5,637.38 129,637.8 131.5,638.18 134,637.62 136.5,637.88 139,637.87 141.5,638.01 144,637.79 146.5,637.82 149,638.31 151.5,638.07 154,638.59 156.5,638.65 159,638.37 161.5,638.7 164,638.71 166.5,638.74 169,639.22 171.5,638.98 174,639.13 176.5,638.57 179,639.43 181.5,638.91 184,639.32 186.5,640.01 189,640.16 191.5,639.6 194,639.43 196.5,640.02 199,639.87 201.5,640.18 204,639.75 206.5,640.57 209,640.77 211.5,639.95 214,640.23 216.5,640.33 219,640.84 221.5,640.11 224,640.84 226.5,640.78 229,640.69 231.5,641.22 234,640.5 236.5,640.75 239,641.01 241.5,641.53 244,641.29 246.5,641.22 249,641.7 251.5,641.48 254,641.51 256.5,641.69 259,641.96 261.5,642.75 264,641.69 266.5,642.18 269,642.13 271.5,642.17 274,642.78 276.5,642.64 279,642.69 281.5,642.43 284,642.39 286.5,642.81 289,642.71 291.5,642.7 294,643.15 296.5,642.67 299,642.89 301.5,643.39 304,643.14 306.5,643.39 309,642.95 311.5,643.44 314,643.03 316.5,643.67 319,643.52 321.5,643.44 324,643.78 326.5,643.44 329,643.17 331.5,643.84 334,643.5 336.5,643.78 339,643.48 341.5,643.8 344,643.21 346.5,643.11 349,643.08 351.5,643.75 354,642.95 356.5,643.03 359,643.15 361.5,643.67 364,643.75 366.5,643.39 369,643.89 371.5,643.77 374,644.05 376.5,643.99 379,643.52 381.5,643.81 384,643.72 386.5,643.92 389,643.86 391.5,643.83 394,644.05 396.5,643.88 399,644.1 401.5,643.91 404,643.87 406.5,644.21 409,644.24 411.5,644.34 414,644.18 416.5,643.94 419,644.08 421.5,644.09 424,643.54 426.5,643.75 429,644.56 431.5,644.1 434,643.28 436.5,644.12 439,644.22 441.5,643.82 444,644.89 446.5,644.57 449,644.49 451.5,644.21 454,644.43 456.5,644.55 459,644.46 461.5,644.14 464,644.41 466.5,644.41 469,644.48 471.5,644.1 474,644.51 476.5,644.45 479,644.54 481.5,644.54 484,644.07 486.5,644.78 489,644.76 491.5,644.06 494,644.3 496.5,643.94 499,643.92 501.5,644.22 504,643.94 506.5,644.24 509,643.54 511.5,643.04 514,643.28 516.5,642.42 519,643.74 521.5,643.34 524,643.46 526.5,643.42 529,643.18 531.5,643.46 534,643.31 536.5,643.45 539,643.76 541.5,643.36 544,644.26 546.5,643.51 549,644.14 551.5,643.75 554,643.63 556.5,644.17 559,644.16 561.5,644.1 564,644.21 566.5,644.09 569,644.46 571.5,644.25 574,644.46 576.5,644.84 579,644.17 581.5,644.45 584,644.47 586.5,644.49 589,644.39 591.5,644.76 594,644.95 596.5,644.92 599,644.56 601.5,645.39 604,645.56 606.5,645.53 609,645.37 611.5,645.57 614,646.57 616.5,646.66 619,646.45 621.5,646.19 624,646.49 626.5,645.65 629,645.59 631.5,644.4 634,644.2 636.5,643.49 639,643.26 641.5,642.33 644,642.28 646.5,641.58 649,641.42 651.5,641.84 654,641.73 656.5,641.02 659,641.63 661.5,641.66 664,641.68 666.5,642.22 669,641.41 671.5,641.58 674,641.07 676.5,641.13 679,641.38 681.5,641.5 684,641.47 686.5,641.71 689,641.73 691.5,641.8 694,641.44 696.5,641.62 699,641.25 701.5,641.56 704,641.59 706.5,641.28 709,640.46 711.5,641.22 714,642.17 716.5,641.36 719,641.19 721.5,641.4 724,641.69 726.5,641.44 729,641.27 731.5,640.94 734,641.22 736.5,640.94 739,641.4 741.5,641.73 744,641.58 746.5,641.08 749,640.95 751.5,640.82 754,641.36 756.5,641.38 759,641.44" fill="none" stroke="#006040" stroke-width="1.6" stroke-linejoin="round" stroke-linecap="round"/><polyline points="783.8,642.66 786.3,642.12 788.8,641.75 791.3,642.49 793.8,641.75 796.3,642.41 798.8,641.05 801.3,641.19 803.8,641.08 806.3,641.27 808.8,641.23 811.3,640.71 813.8,640.89 816.3,640.16 818.8,640.24 821.3,639.96 823.8,640.23 826.3,640.27 828.8,640.62 831.3,641.63 833.8,640.26 836.3,640.68 838.8,641.02 841.3,640.91 843.8,641.38 846.3,640.72 848.8,641.33 851.3,640.93 853.8,641.48 856.3,641.36 858.8,641.45 861.3,641.27" fill="none" stroke="#006040" stroke-width="1.6" stroke-linejoin="round" stroke-linecap="round"/><polyline points="862,640.91 864.5,641.21 867,641.82 869.5,641.6 872,641.91 874.5,641.29 877,641.87 879.5,641.97 882,641 884.5,641.75 887,642.23 889.5,641.42 892,641.94 894.5,641.64 897,641.88 899.5,641.5 902,641.38 904.5,641.48 907,641.49 909.5,641.41 912,641.32 914.5,641.91 917,641.4 919.5,641.2 922,641.28 924.5,641.7 927,640.88 929.5,641.69 932,641.75 934.5,641.91 937,641.39 939.5,641.27 942,641.56 944.5,641.54 947,641.89 949.5,641.5 952,641.35 954.5,641.08 957,641.41 959.5,641.48 962,641.81 964.5,641.48 967,641.85 969.5,641.81 972,641.2 974.5,641.08 977,641.23 979.5,641.34 982,641.16 984.5,641.61 987,641.59 989.5,641.75 992,641.46 994.5,641.24 997,641.49 999.5,641.09 1002,641.4 1004.5,641.12 1007,641.69 1009.5,640.53 1012,641.58 1014.5,641.58 1017,641.3 1019.5,641.41 1022,641.36 1024.5,641.68 1027,641.78 1029.5,641.28 1032,641.76 1034.5,641.07 1037,641.39 1039.5,641.39 1042,640.87 1044.5,641.34 1047,641.03 1049.5,641.47 1052,640.95 1054.5,640.68 1057,640.82 1059.5,641.21 1062,641.25 1064.5,641.21 1067,640.83 1069.5,641.25 1072,640.8 1074.5,640.85 1077,641.16 1079.5,640.77 1082,640.21 1084.5,640.93 1087,640.67 1089.5,640.51 1092,640.96 1094.5,640.34 1097,640.67 1099.5,640.47 1102,641.16 1104.5,639.79 1107,640.34 1109.5,640.33 1112,640.51 1114.5,640.01 1117,639.89 1119.5,640.45 1122,639.86 1124.5,640.02 1127,639.87 1129.5,639.95 1132,639.39 1134.5,639.58 1137,639.68 1139.5,639.68 1142,639.92 1144.5,639.7 1147,639.67 1149.5,639.43 1152,639.78 1154.5,639.17 1157,639.27 1159.5,638.81 1162,638.89 1164.5,639.41 1167,639.09 1169.5,638.5 1172,638.99 1174.5,639.05 1177,638.93 1179.5,639.52 1182,639.48 1184.5,639.71 1187,640.14 1189.5,639.82 1192,640.47 1194.5,640.22" fill="none" stroke="#006040" stroke-width="1.6" stroke-linejoin="round" stroke-linecap="round"/><polyline points="1194.7,640.3 1195.6,643.44 1199.8,679.6" fill="none" stroke="#006040" stroke-width="1.4" stroke-opacity="1" stroke-linejoin="round"/><polyline points="114,650.72 116.5,651.23 119,651 121.5,650.81 124,650.94 126.5,651.08 129,650.63 131.5,651.31 134,651.15 136.5,650.81 139,650.96 141.5,651.54 144,650.95 146.5,652.02 149,651.1 151.5,651.52 154,650.74 156.5,651.53 159,651.44 161.5,651.78 164,651.74 166.5,651.63 169,652.41 171.5,652.05 174,651.64 176.5,652.01 179,651.08 181.5,651.81 184,652.41 186.5,651.91 189,652.16 191.5,651.82 194,652.44 196.5,652.29 199,652.3 201.5,652.62 204,652.88 206.5,652.67 209,651.95 211.5,652.64 214,652.64 216.5,652.26 219,652.16 221.5,652.57 224,652.65 226.5,652.76 229,652.6 231.5,652.92 234,653 236.5,652.87 239,653.12 241.5,652.87 244,652.62 246.5,653.13 249,653.44 251.5,654.03 254,652.63 256.5,653.16 259,653.09 261.5,653.48 264,653.18 266.5,653.53 269,653.83 271.5,653.35 274,653.6 276.5,654.15 279,653.98 281.5,653.27 284,654.42 286.5,653.64 289,653.98 291.5,653.81 294,653.84 296.5,653.81 299,654.25 301.5,653.86 304,653.73 306.5,653.94 309,654.13 311.5,653.54 314,654.39 316.5,653.95 319,654.39 321.5,654.6 324,654.29 326.5,654.37 329,654.09 331.5,654.03 334,653.68 336.5,654.2 339,654.11 341.5,653.57 344,654.38 346.5,654.76 349,654.44 351.5,654.68 354,654.26 356.5,654.05 359,654.39 361.5,654.27 364,654.05 366.5,654.71 369,654.46 371.5,654.23 374,654.5 376.5,654.41 379,654.65 381.5,654.95 384,654.3 386.5,654.14 389,654.92 391.5,655.24 394,654.35 396.5,654.27 399,654.2 401.5,654.57 404,654.61 406.5,654.52 409,654.86 411.5,654.37 414,654.45 416.5,654.27 419,655.07 421.5,654.99 424,655.07 426.5,654.44 429,655.1 431.5,654.8 434,654.94 436.5,654.91 439,654.65 441.5,654.71 444,654.31 446.5,654.62 449,654.73 451.5,654.46 454,654.85 456.5,655.22 459,654.7 461.5,654.57 464,654.61 466.5,654.94 469,655.42 471.5,654.96 474,654.93 476.5,654.56 479,655.04 481.5,655.14 484,654.84 486.5,654.97 489,654.79 491.5,655.21 494,655.38 496.5,655.08 499,655.11 501.5,654.97 504,654.75 506.5,654.7 509,654.8 511.5,654.95 514,654.9 516.5,655.2 519,655.11 521.5,655.32 524,655.1 526.5,654.78 529,654.88 531.5,654.35 534,655.33 536.5,654.65 539,654.69 541.5,655.35 544,654.47 546.5,654.6 549,654.76 551.5,654.59 554,654.78 556.5,654.82 559,654.93 561.5,654.7 564,654.93 566.5,654.61 569,654.88 571.5,655.09 574,654.29 576.5,654.81 579,655 581.5,654.45 584,654.18 586.5,655.25 589,655.04 591.5,655.53 594,655.37 596.5,655.43 599,655.38 601.5,655.44 604,655.07 606.5,655.11 609,655.42 611.5,655.04 614,655.19 616.5,654.96 619,654.79 621.5,654.52 624,654.99 626.5,654.42 629,654.7 631.5,654.05 634,654.52 636.5,654.48 639,654.1 641.5,653.73 644,654.09 646.5,654.11 649,653.89 651.5,653.81 654,654.24 656.5,653.9 659,653.78 661.5,654.12 664,653.82 666.5,653.58 669,654.02 671.5,653.61 674,653.96 676.5,653.45 679,653.71 681.5,653.98 684,653.77 686.5,653.81 689,653.83 691.5,653.97 694,653.77 696.5,653.9 699,653.73 701.5,654.4 704,653.59 706.5,654.12 709,653.61 711.5,654.09 714,654.35 716.5,653.66 719,654.53 721.5,653.75 724,653.82 726.5,654.18 729,653.79 731.5,654.43 734,654.31 736.5,653.38 739,653.8 741.5,654.03 744,654.39 746.5,653.98 749,654.11 751.5,654.53 754,654.08 756.5,654.49 759,654.02" fill="none" stroke="#008000" stroke-width="1.6" stroke-linejoin="round" stroke-linecap="round"/><polyline points="783.8,654.99 786.3,655.1 788.8,654.33 791.3,653.95 793.8,654.13 796.3,654.9 798.8,654.42 801.3,654.89 803.8,654.16 806.3,654.26 808.8,654.49 811.3,654.82 813.8,654.42 816.3,654.16 818.8,654.54 821.3,654.46 823.8,654.56 826.3,654.35 828.8,654.2 831.3,654.37 833.8,653.61 836.3,654.41 838.8,654.67 841.3,654.46 843.8,653.99 846.3,653.8 848.8,654.63 851.3,654.07 853.8,654.14 856.3,654.25 858.8,653.99 861.3,654.16" fill="none" stroke="#008000" stroke-width="1.6" stroke-linejoin="round" stroke-linecap="round"/><polyline points="862,654.59 864.5,653.98 867,654.68 869.5,654.21 872,654.19 874.5,654.37 877,654.36 879.5,654.4 882,654.26 884.5,653.92 887,654.57 889.5,654.05 892,653.85 894.5,654.36 897,654.29 899.5,654.08 902,654.11 904.5,654.27 907,654.66 909.5,654.07 912,653.72 914.5,653.92 917,654.24 919.5,654.03 922,653.9 924.5,654.31 927,654.31 929.5,654.03 932,654.18 934.5,653.9 937,653.91 939.5,653.99 942,653.69 944.5,654.19 947,654.07 949.5,653.94 952,654.12 954.5,654.13 957,653.87 959.5,653.91 962,653.85 964.5,654.49 967,653.59 969.5,654.06 972,654.33 974.5,653.76 977,653.8 979.5,653.79 982,653.55 984.5,654.43 987,654 989.5,653.74 992,653.88 994.5,654.12 997,653.96 999.5,653.8 1002,654.21 1004.5,653.8 1007,653.94 1009.5,654.11 1012,653.84 1014.5,654.08 1017,653.86 1019.5,654.84 1022,653.93 1024.5,654.26 1027,653.8 1029.5,653.72 1032,654.01 1034.5,653.95 1037,653.95 1039.5,654.04 1042,654.31 1044.5,654.62 1047,654.65 1049.5,654.07 1052,654.59 1054.5,654.55 1057,653.86 1059.5,653.9 1062,653.99 1064.5,654.57 1067,653.92 1069.5,653.86 1072,654.31 1074.5,653.82 1077,653.79 1079.5,653.99 1082,653.83 1084.5,653.03 1087,653.35 1089.5,653.9 1092,653.24 1094.5,654 1097,653.58 1099.5,653.65 1102,653.63 1104.5,652.98 1107,653.28 1109.5,653.15 1112,653.5 1114.5,653.85 1117,653.3 1119.5,653.36 1122,652.73 1124.5,653.17 1127,653.18 1129.5,653.17 1132,653.37 1134.5,653.58 1137,653.13 1139.5,653.23 1142,652.62 1144.5,653.23 1147,653.03 1149.5,652.48 1152,653.07 1154.5,652.74 1157,653.21 1159.5,653.02 1162,652.88 1164.5,653.33 1167,652.75 1169.5,652.67 1172,652.75 1174.5,652.83 1177,652.6 1179.5,653.07 1182,653.09 1184.5,652.86 1187,652.61 1189.5,653.49 1192,653.58 1194.5,653.51" fill="none" stroke="#008000" stroke-width="1.6" stroke-linejoin="round" stroke-linecap="round"/><polyline points="1194.7,653.3 1195.6,655.4 1199.8,679.6" fill="none" stroke="#008000" stroke-width="1.4" stroke-opacity="1" stroke-linejoin="round"/><polyline points="114,663.12 116.5,663.26 119,663.06 121.5,663.27 124,663.02 126.5,662.93 129,663.07 131.5,663.04 134,663.17 136.5,663.39 139,663.19 141.5,663.3 144,663.48 146.5,663.45 149,663.21 151.5,663.11 154,663.54 156.5,663.08 159,662.98 161.5,662.97 164,663.46 166.5,663.08 169,663.27 171.5,663.31 174,663.54 176.5,663.15 179,663.38 181.5,663.43 184,663.61 186.5,663.38 189,663.47 191.5,663.4 194,663.62 196.5,663.62 199,663.43 201.5,663.59 204,663.3 206.5,663.55 209,663.42 211.5,663.5 214,663.73 216.5,663.92 219,663.64 221.5,663.6 224,663.59 226.5,663.77 229,663.64 231.5,663.83 234,663.93 236.5,663.81 239,663.67 241.5,663.86 244,663.66 246.5,663.51 249,663.96 251.5,664.08 254,663.99 256.5,663.74 259,663.29 261.5,663.68 264,663.89 266.5,663.73 269,664 271.5,663.67 274,663.87 276.5,663.83 279,663.83 281.5,663.58 284,663.78 286.5,663.83 289,663.73 291.5,663.6 294,663.72 296.5,663.65 299,663.84 301.5,663.94 304,663.84 306.5,663.85 309,663.76 311.5,663.82 314,663.5 316.5,663.8 319,663.92 321.5,663.71 324,663.89 326.5,663.56 329,663.8 331.5,663.76 334,663.86 336.5,663.81 339,664.12 341.5,663.31 344,663.57 346.5,663.69 349,663.8 351.5,663.69 354,663.69 356.5,663.55 359,663.58 361.5,663.66 364,664.02 366.5,663.67 369,664.2 371.5,663.95 374,663.75 376.5,663.91 379,663.94 381.5,663.61 384,663.54 386.5,664.01 389,663.64 391.5,663.92 394,663.89 396.5,663.54 399,663.89 401.5,663.87 404,663.98 406.5,663.78 409,663.86 411.5,663.85 414,663.75 416.5,664.04 419,663.94 421.5,664.02 424,663.84 426.5,663.96 429,663.65 431.5,663.7 434,663.94 436.5,663.75 439,663.73 441.5,663.81 444,663.55 446.5,663.81 449,663.86 451.5,663.74 454,663.62 456.5,664.05 459,663.85 461.5,663.63 464,663.7 466.5,663.55 469,663.53 471.5,663.5 474,663.66 476.5,663.85 479,663.9 481.5,663.77 484,663.94 486.5,663.87 489,663.62 491.5,663.66 494,663.83 496.5,663.89 499,663.95 501.5,663.58 504,663.5 506.5,664.09 509,663.75 511.5,663.94 514,663.8 516.5,663.58 519,664 521.5,663.86 524,664.01 526.5,663.88 529,663.64 531.5,663.79 534,663.94 536.5,663.69 539,663.82 541.5,663.97 544,663.61 546.5,663.74 549,663.82 551.5,663.94 554,663.78 556.5,663.69 559,663.88 561.5,663.7 564,663.86 566.5,663.85 569,663.76 571.5,663.92 574,663.97 576.5,663.6 579,663.87 581.5,663.77 584,663.75 586.5,663.81 589,663.97 591.5,663.77 594,663.75 596.5,663.61 599,663.77 601.5,663.8 604,663.65 606.5,663.75 609,663.87 611.5,664.01 614,663.75 616.5,664.1 619,663.95 621.5,663.93 624,663.89 626.5,663.81 629,663.71 631.5,663.79 634,663.81 636.5,663.83 639,664.03 641.5,664.1 644,663.88 646.5,663.95 649,663.7 651.5,663.51 654,663.79 656.5,663.84 659,664.02 661.5,664.17 664,663.85 666.5,664 669,663.97 671.5,663.84 674,663.93 676.5,663.86 679,664.04 681.5,663.65 684,663.46 686.5,663.82 689,663.94 691.5,663.96 694,663.71 696.5,663.88 699,663.7 701.5,663.89 704,663.68 706.5,663.63 709,663.93 711.5,663.6 714,663.56 716.5,663.9 719,663.79 721.5,663.43 724,663.95 726.5,663.59 729,663.7 731.5,663.75 734,664.07 736.5,663.76 739,663.9 741.5,663.74 744,663.84 746.5,663.55 749,663.76 751.5,663.66 754,663.6 756.5,663.79 759,663.9" fill="none" stroke="#406000" stroke-width="1.7" stroke-linejoin="round" stroke-linecap="round"/><polyline points="783.8,663.8 786.3,663.68 788.8,663.84 791.3,663.56 793.8,663.77 796.3,663.8 798.8,663.7 801.3,663.68 803.8,663.73 806.3,663.63 808.8,663.68 811.3,663.82 813.8,663.42 816.3,663.89 818.8,663.77 821.3,663.73 823.8,663.55 826.3,663.63 828.8,663.6 831.3,663.79 833.8,663.78 836.3,663.86 838.8,663.69 841.3,663.38 843.8,663.54 846.3,663.62 848.8,663.73 851.3,663.45 853.8,663.64 856.3,663.68 858.8,663.58 861.3,663.64" fill="none" stroke="#406000" stroke-width="1.7" stroke-linejoin="round" stroke-linecap="round"/><polyline points="862,664 864.5,663.66 867,663.96 869.5,663.69 872,663.55 874.5,663.74 877,663.59 879.5,663.64 882,663.31 884.5,663.7 887,663.56 889.5,663.81 892,663.65 894.5,663.58 897,663.48 899.5,663.63 902,663.57 904.5,663.51 907,663.9 909.5,663.6 912,663.75 914.5,663.84 917,663.68 919.5,663.71 922,663.69 924.5,663.75 927,663.69 929.5,663.68 932,663.63 934.5,663.53 937,663.54 939.5,663.5 942,663.63 944.5,663.79 947,663.45 949.5,663.5 952,663.44 954.5,663.58 957,663.74 959.5,663.53 962,663.63 964.5,663.23 967,663.55 969.5,663.65 972,663.48 974.5,663.33 977,663.64 979.5,663.55 982,663.83 984.5,663.48 987,663.54 989.5,663.5 992,663.57 994.5,663.29 997,663.75 999.5,663.65 1002,663.52 1004.5,663.49 1007,663.62 1009.5,663.6 1012,663.48 1014.5,663.52 1017,663.59 1019.5,663.47 1022,663.49 1024.5,663.47 1027,663.48 1029.5,663.34 1032,663.39 1034.5,663.58 1037,663.64 1039.5,663.51 1042,662.99 1044.5,663.3 1047,663.58 1049.5,663.76 1052,663.69 1054.5,663.48 1057,663.45 1059.5,663.44 1062,663.76 1064.5,663.54 1067,663.36 1069.5,663.64 1072,663.62 1074.5,663.2 1077,663.4 1079.5,663.64 1082,663.62 1084.5,663.3 1087,663.48 1089.5,663.61 1092,663.53 1094.5,663.32 1097,663.45 1099.5,663.57 1102,663.55 1104.5,663.33 1107,663.82 1109.5,663.5 1112,663.24 1114.5,663.42 1117,663.06 1119.5,663.36 1122,663.45 1124.5,663.81 1127,663.48 1129.5,663.51 1132,663.56 1134.5,663.48 1137,663.36 1139.5,663.65 1142,663.52 1144.5,663.67 1147,663.59 1149.5,663.3 1152,663.37 1154.5,663.38 1157,663.38 1159.5,663.5 1162,663.4 1164.5,663.31 1167,663.64 1169.5,663.63 1172,663.43 1174.5,663.27 1177,663.33 1179.5,663.31 1182,663.28 1184.5,663.27 1187,663.45 1189.5,663.45 1192,663.47 1194.5,663.27" fill="none" stroke="#406000" stroke-width="1.7" stroke-linejoin="round" stroke-linecap="round"/><polyline points="1194.7,663.4 1195.6,664.7 1199.8,679.6" fill="none" stroke="#406000" stroke-width="1.4" stroke-opacity="1" stroke-linejoin="round"/><polyline points="114,665.77 116.5,666.1 119,665.76 121.5,665.64 124,666.25 126.5,665.78 129,665.6 131.5,665.9 134,665.59 136.5,665.66 139,665.93 141.5,665.61 144,665.45 146.5,665.88 149,665.9 151.5,665.47 154,665.68 156.5,665.96 159,665.8 161.5,665.92 164,665.73 166.5,665.63 169,665.65 171.5,665.7 174,665.8 176.5,665.24 179,665.39 181.5,665.77 184,665.91 186.5,665.65 189,665.78 191.5,665.57 194,665.51 196.5,665.82 199,665.78 201.5,665.69 204,665.54 206.5,665.81 209,665.79 211.5,665.75 214,665.78 216.5,665.73 219,665.91 221.5,665.88 224,666.16 226.5,666.09 229,665.8 231.5,665.58 234,665.94 236.5,665.7 239,666.12 241.5,665.53 244,665.74 246.5,666.13 249,665.83 251.5,665.97 254,665.96 256.5,665.74 259,666 261.5,665.67 264,665.78 266.5,666.25 269,665.81 271.5,665.92 274,665.64 276.5,666.11 279,665.67 281.5,665.71 284,665.74 286.5,665.68 289,665.58 291.5,665.81 294,665.77 296.5,665.85 299,665.68 301.5,665.69 304,665.81 306.5,665.87 309,665.7 311.5,665.87 314,665.83 316.5,666.09 319,666.01 321.5,665.98 324,666.08 326.5,665.77 329,666.16 331.5,665.93 334,665.8 336.5,665.98 339,665.69 341.5,666.25 344,665.96 346.5,665.62 349,665.69 351.5,665.81 354,665.81 356.5,666 359,666.09 361.5,666.12 364,666.03 366.5,665.74 369,666.14 371.5,666.17 374,665.56 376.5,665.82 379,665.87 381.5,665.79 384,666.14 386.5,666.03 389,665.96 391.5,665.71 394,665.55 396.5,665.77 399,665.79 401.5,665.78 404,665.55 406.5,665.66 409,665.88 411.5,666.03 414,665.86 416.5,665.92 419,665.95 421.5,665.96 424,666.21 426.5,665.82 429,666.02 431.5,665.72 434,666.21 436.5,666.12 439,666.18 441.5,666.01 444,665.97 446.5,665.74 449,666.06 451.5,666.26 454,665.46 456.5,666.34 459,665.84 461.5,666.1 464,665.85 466.5,665.98 469,666.17 471.5,665.98 474,666.37 476.5,666.03 479,666.15 481.5,665.9 484,665.93 486.5,665.95 489,666.13 491.5,666.36 494,666.04 496.5,665.79 499,665.92 501.5,665.77 504,666.14 506.5,666.05 509,665.84 511.5,665.98 514,666.24 516.5,666.14 519,665.95 521.5,666.21 524,666.14 526.5,665.96 529,666.1 531.5,666.43 534,665.86 536.5,666.27 539,666.05 541.5,666.2 544,666.16 546.5,666.14 549,666.05 551.5,666.09 554,666.22 556.5,666.18 559,665.81 561.5,666.18 564,666.35 566.5,666.27 569,666.14 571.5,665.75 574,666.22 576.5,666.24 579,666.4 581.5,665.93 584,666.07 586.5,666.01 589,666.07 591.5,665.79 594,666.03 596.5,666.04 599,666.05 601.5,666.44 604,666.01 606.5,666.05 609,666.35 611.5,666.03 614,666.37 616.5,666.23 619,666.02 621.5,666.01 624,666.18 626.5,666.11 629,666.17 631.5,666.04 634,666.27 636.5,666.03 639,666.07 641.5,666.13 644,665.92 646.5,666.11 649,666.13 651.5,665.89 654,665.82 656.5,666.42 659,666.13 661.5,666.15 664,666.06 666.5,666.49 669,666.15 671.5,665.84 674,666.29 676.5,666 679,666.28 681.5,666.17 684,666.44 686.5,666.29 689,666.12 691.5,666.47 694,666.73 696.5,666.09 699,666.4 701.5,666.26 704,666.28 706.5,665.95 709,666 711.5,666.46 714,666.22 716.5,666.08 719,666.54 721.5,666.42 724,666.33 726.5,665.99 729,666.18 731.5,666.47 734,665.78 736.5,665.87 739,666.02 741.5,666.37 744,666.22 746.5,666.27 749,666.21 751.5,666.19 754,666.41 756.5,666.88 759,666.26" fill="none" stroke="#804000" stroke-width="1.6" stroke-linejoin="round" stroke-linecap="round"/><polyline points="783.8,666.42 786.3,666.07 788.8,666.48 791.3,666.18 793.8,666.19 796.3,666.07 798.8,666.01 801.3,666.05 803.8,665.96 806.3,665.9 808.8,666.52 811.3,666.24 813.8,666.35 816.3,666.25 818.8,665.87 821.3,666.15 823.8,665.97 826.3,665.99 828.8,666.12 831.3,666.18 833.8,666.16 836.3,666.17 838.8,666.08 841.3,666.15 843.8,666.39 846.3,666.57 848.8,666.36 851.3,666.09 853.8,666.21 856.3,666.32 858.8,666.33 861.3,666.38" fill="none" stroke="#804000" stroke-width="1.6" stroke-linejoin="round" stroke-linecap="round"/><polyline points="862,666.38 864.5,666.21 867,666.07 869.5,665.82 872,666.34 874.5,666.25 877,665.96 879.5,666.13 882,666.04 884.5,666.03 887,666.47 889.5,666.05 892,666.6 894.5,666.09 897,665.97 899.5,666.14 902,666.59 904.5,666.08 907,666.21 909.5,665.66 912,666.23 914.5,665.84 917,666.08 919.5,666.38 922,666.06 924.5,666.25 927,666.06 929.5,666.04 932,666.16 934.5,666.32 937,666.12 939.5,666.1 942,665.91 944.5,665.76 947,666.12 949.5,666.06 952,666.15 954.5,666.3 957,666.26 959.5,665.92 962,666.14 964.5,666.14 967,666.04 969.5,665.64 972,665.93 974.5,666.07 977,666.23 979.5,666.02 982,665.8 984.5,666.35 987,666.07 989.5,665.99 992,666.18 994.5,666.21 997,666.06 999.5,665.96 1002,665.96 1004.5,666.23 1007,666.04 1009.5,666.17 1012,665.69 1014.5,665.97 1017,665.99 1019.5,665.97 1022,665.67 1024.5,665.97 1027,666.37 1029.5,666.12 1032,665.95 1034.5,665.91 1037,665.78 1039.5,666.1 1042,665.9 1044.5,665.97 1047,666.23 1049.5,666.24 1052,666.17 1054.5,665.72 1057,665.93 1059.5,666.28 1062,665.81 1064.5,666.29 1067,666.04 1069.5,666.23 1072,665.96 1074.5,665.81 1077,665.84 1079.5,666.33 1082,665.97 1084.5,665.79 1087,666.2 1089.5,665.72 1092,666 1094.5,666.1 1097,666.09 1099.5,666.11 1102,666.01 1104.5,665.53 1107,666.07 1109.5,666.02 1112,665.98 1114.5,666.12 1117,666.17 1119.5,666.06 1122,666.32 1124.5,666.46 1127,666.07 1129.5,665.95 1132,665.76 1134.5,666.13 1137,665.66 1139.5,666.35 1142,666.21 1144.5,665.91 1147,666.15 1149.5,665.83 1152,665.79 1154.5,666.16 1157,665.8 1159.5,666.05 1162,665.98 1164.5,666.32 1167,666.06 1169.5,666.32 1172,666.17 1174.5,665.84 1177,665.76 1179.5,665.57 1182,666 1184.5,665.44 1187,665.83 1189.5,665.51 1192,665.87 1194.5,666.13" fill="none" stroke="#804000" stroke-width="1.6" stroke-linejoin="round" stroke-linecap="round"/><polyline points="1194.7,666 1196.5,666 1198.28,669.07 1200.06,671.48 1201.83,673.36 1203.61,674.84 1205.39,676 1207.17,676.9 1208.94,677.61 1210.72,678.17 1212.5,678.6" fill="none" stroke="#804000" stroke-width="1.8" stroke-opacity="1" stroke-linejoin="round"/><polyline points="114,667.16 116.5,667.21 119,667.23 121.5,667.34 124,667.07 126.5,667.31 129,667.28 131.5,667.14 134,667.15 136.5,667.48 139,667.41 141.5,667.37 144,667.18 146.5,667.25 149,667.11 151.5,667.04 154,667.23 156.5,667.22 159,667.12 161.5,667.12 164,667.36 166.5,667.24 169,667.07 171.5,667.62 174,667.05 176.5,667.34 179,667.16 181.5,667.41 184,667.32 186.5,667.47 189,667.31 191.5,667.2 194,667.53 196.5,667.31 199,667.29 201.5,667.3 204,667.21 206.5,667.37 209,667.57 211.5,667.55 214,667.37 216.5,667.42 219,667.44 221.5,667.23 224,667.55 226.5,667.37 229,667.06 231.5,667.42 234,667.19 236.5,667.38 239,667.43 241.5,667.29 244,667.38 246.5,667.54 249,667.13 251.5,667.05 254,667.32 256.5,667.3 259,667.65 261.5,667.49 264,667.42 266.5,667.33 269,667.05 271.5,667.14 274,667.3 276.5,667.37 279,667.28 281.5,667.36 284,667.45 286.5,667.24 289,667.28 291.5,667.2 294,667.53 296.5,667.05 299,667.44 301.5,667.47 304,667.05 306.5,667.28 309,667.52 311.5,667.22 314,667.27 316.5,667.35 319,667.55 321.5,667.45 324,667.26 326.5,667.15 329,667.13 331.5,667.41 334,667.04 336.5,667.28 339,667.45 341.5,667.18 344,667.32 346.5,667.35 349,667.48 351.5,667.16 354,667.38 356.5,667.36 359,667.38 361.5,667.13 364,667.45 366.5,667.25 369,667.36 371.5,667.25 374,667.67 376.5,667.38 379,667.7 381.5,667.28 384,667.34 386.5,667.6 389,667.33 391.5,667.45 394,667.56 396.5,667.33 399,667.28 401.5,667.35 404,667.54 406.5,667.45 409,667.58 411.5,667.35 414,667.32 416.5,667.22 419,667.35 421.5,667.3 424,667.38 426.5,667.25 429,667.29 431.5,667.35 434,667.54 436.5,667.35 439,667.31 441.5,667.55 444,667.6 446.5,667.36 449,667.36 451.5,667.13 454,667.17 456.5,667.4 459,667.61 461.5,667.68 464,667.53 466.5,667.34 469,667.49 471.5,667.19 474,667.4 476.5,667.24 479,667.41 481.5,667.63 484,667.74 486.5,667.45 489,667.48 491.5,667.17 494,667.32 496.5,667.65 499,667.6 501.5,667.55 504,667.49 506.5,667.67 509,667.39 511.5,667.4 514,667.85 516.5,667.3 519,667.5 521.5,667.37 524,667.66 526.5,667.39 529,667.38 531.5,667.39 534,667.56 536.5,667.28 539,667.21 541.5,667.42 544,667.38 546.5,667.52 549,667.39 551.5,667.35 554,667.48 556.5,667.51 559,667.6 561.5,667.45 564,667.17 566.5,667.44 569,667.45 571.5,667.43 574,667.53 576.5,667.41 579,667.62 581.5,667.41 584,667.66 586.5,667.29 589,667.1 591.5,667.31 594,667.88 596.5,667.42 599,667.44 601.5,667.5 604,667.4 606.5,667.5 609,667.48 611.5,667.77 614,667.64 616.5,667.51 619,667.57 621.5,667.56 624,667.31 626.5,667.64 629,667.38 631.5,667.59 634,667.49 636.5,667.61 639,667.69 641.5,667.56 644,667.4 646.5,667.43 649,667.56 651.5,667.42 654,667.42 656.5,667.46 659,667.43 661.5,667.56 664,667.42 666.5,667.5 669,667.38 671.5,667.23 674,667.61 676.5,667.64 679,667.41 681.5,667.61 684,667.54 686.5,667.31 689,667.67 691.5,667.19 694,667.48 696.5,667.6 699,667.32 701.5,667.73 704,667.4 706.5,667.67 709,667.46 711.5,667.59 714,667.48 716.5,667.84 719,667.55 721.5,667.64 724,667.59 726.5,667.51 729,667.45 731.5,667.55 734,667.63 736.5,667.62 739,667.57 741.5,667.46 744,667.59 746.5,667.34 749,667.48 751.5,667.18 754,667.38 756.5,667.46 759,667.27" fill="none" stroke="#bf2000" stroke-width="2.3" stroke-linejoin="round" stroke-linecap="round"/><polyline points="783.8,667.31 786.3,667.62 788.8,667.55 791.3,667.64 793.8,667.65 796.3,667.57 798.8,667.6 801.3,667.52 803.8,667.67 806.3,667.25 808.8,667.45 811.3,667.63 813.8,667.6 816.3,667.49 818.8,667.43 821.3,667.6 823.8,667.45 826.3,667.31 828.8,667.65 831.3,667.42 833.8,667.5 836.3,667.23 838.8,667.09 841.3,667.54 843.8,667.72 846.3,667.13 848.8,667.39 851.3,667.55 853.8,667.5 856.3,667.48 858.8,667.46 861.3,667.32" fill="none" stroke="#bf2000" stroke-width="2.3" stroke-linejoin="round" stroke-linecap="round"/><polyline points="862,667.63 864.5,667.61 867,667.52 869.5,667.12 872,667.72 874.5,667.46 877,667.54 879.5,667.75 882,667.66 884.5,667.45 887,667.62 889.5,667.55 892,667.37 894.5,667.48 897,667.2 899.5,667.22 902,667.49 904.5,667.67 907,667.31 909.5,667.64 912,667.48 914.5,667.73 917,667.4 919.5,667.9 922,667.52 924.5,667.42 927,667.49 929.5,667.18 932,667.51 934.5,667.41 937,667.53 939.5,667.4 942,667.04 944.5,667.06 947,667.35 949.5,667.26 952,667.58 954.5,667.29 957,667.52 959.5,667.42 962,667.68 964.5,667.46 967,667.48 969.5,667.29 972,667.5 974.5,667.54 977,667.43 979.5,667.55 982,667.29 984.5,667.41 987,667.5 989.5,667.39 992,667.63 994.5,667.54 997,667.35 999.5,667.3 1002,667.44 1004.5,667.33 1007,667.38 1009.5,667.27 1012,667.55 1014.5,667.46 1017,667.48 1019.5,667.56 1022,667.09 1024.5,667.44 1027,667.4 1029.5,667.54 1032,667.51 1034.5,667.51 1037,667.63 1039.5,667.15 1042,667.27 1044.5,667.61 1047,667.65 1049.5,667.31 1052,667.6 1054.5,667.56 1057,667.22 1059.5,667.34 1062,667.48 1064.5,667.42 1067,667.7 1069.5,667.52 1072,667.56 1074.5,667.33 1077,667.24 1079.5,667.33 1082,667.63 1084.5,667.7 1087,667.3 1089.5,667.4 1092,667.05 1094.5,667.61 1097,667.23 1099.5,667.55 1102,667.61 1104.5,667.22 1107,667.29 1109.5,667.53 1112,667.62 1114.5,667.34 1117,667.26 1119.5,667.47 1122,667.61 1124.5,667.25 1127,667.29 1129.5,667.59 1132,667.44 1134.5,667.29 1137,667.41 1139.5,667.48 1142,667.56 1144.5,667.45 1147,667.41 1149.5,667.16 1152,667.49 1154.5,667.48 1157,667.44 1159.5,667.41 1162,667.42 1164.5,667.55 1167,667.35 1169.5,667.22 1172,667.54 1174.5,667.35 1177,667.36 1179.5,667.47 1182,667.36 1184.5,667.39 1187,667.23 1189.5,667.6 1192,667.2 1194.5,667.6" fill="none" stroke="#bf2000" stroke-width="2.3" stroke-linejoin="round" stroke-linecap="round"/><polyline points="1194.7,667.4 1196.5,667.4 1198.28,670.13 1200.06,672.27 1201.83,673.95 1203.61,675.26 1205.39,676.29 1207.17,677.09 1208.94,677.72 1210.72,678.21 1212.5,678.6" fill="none" stroke="#bf2000" stroke-width="1.8" stroke-opacity="1" stroke-linejoin="round"/><polyline points="114,668.85 116.5,668.91 119,668.95 121.5,669.1 124,669.02 126.5,668.94 129,668.85 131.5,669.12 134,669 136.5,669.05 139,668.98 141.5,668.94 144,669.08 146.5,669.03 149,669.14 151.5,669.02 154,668.83 156.5,669.09 159,669.01 161.5,668.97 164,668.63 166.5,668.9 169,669.02 171.5,668.92 174,669.03 176.5,669.07 179,669 181.5,668.89 184,669.05 186.5,669.04 189,668.97 191.5,668.77 194,668.85 196.5,669.1 199,668.97 201.5,668.78 204,668.98 206.5,669 209,669.08 211.5,669.05 214,669.04 216.5,668.91 219,668.8 221.5,668.92 224,669.16 226.5,668.82 229,669.11 231.5,668.82 234,668.84 236.5,669.01 239,668.9 241.5,668.97 244,668.86 246.5,669.01 249,669.1 251.5,668.82 254,669.06 256.5,669.04 259,669.09 261.5,668.72 264,669.1 266.5,668.86 269,668.97 271.5,668.94 274,668.87 276.5,668.89 279,668.91 281.5,669.02 284,669.08 286.5,668.96 289,669.09 291.5,669.01 294,669.13 296.5,668.84 299,669.01 301.5,668.99 304,669.01 306.5,669.04 309,669.09 311.5,669.01 314,669.06 316.5,668.96 319,668.98 321.5,668.92 324,669.12 326.5,669.09 329,669.15 331.5,668.94 334,668.97 336.5,669.29 339,669.12 341.5,668.82 344,669.08 346.5,669.04 349,668.95 351.5,668.96 354,668.89 356.5,668.93 359,668.9 361.5,668.85 364,668.95 366.5,668.89 369,669.08 371.5,669.12 374,668.98 376.5,668.95 379,669.07 381.5,668.98 384,669.24 386.5,668.68 389,668.71 391.5,668.86 394,669.05 396.5,669.09 399,668.94 401.5,669 404,668.96 406.5,669.05 409,669.24 411.5,668.72 414,669.26 416.5,669.12 419,668.96 421.5,669.05 424,668.99 426.5,669.05 429,669.05 431.5,669.09 434,668.88 436.5,669.07 439,668.92 441.5,668.96 444,669.09 446.5,668.94 449,669.03 451.5,669.04 454,669.01 456.5,668.85 459,669.06 461.5,669.02 464,669.26 466.5,668.87 469,669.12 471.5,668.95 474,668.96 476.5,669.2 479,668.98 481.5,669.09 484,669.01 486.5,668.89 489,668.97 491.5,668.95 494,668.97 496.5,669.22 499,669.05 501.5,668.79 504,669.22 506.5,669.04 509,669.11 511.5,669.19 514,668.9 516.5,669.04 519,668.98 521.5,668.96 524,668.96 526.5,669.01 529,669.14 531.5,669.09 534,669.03 536.5,669.14 539,668.72 541.5,669 544,669.04 546.5,669.04 549,669.17 551.5,669.02 554,669.17 556.5,668.98 559,669.08 561.5,669.01 564,668.97 566.5,669.06 569,669.07 571.5,668.89 574,669.12 576.5,668.97 579,669.01 581.5,668.68 584,669 586.5,668.77 589,669.11 591.5,668.91 594,668.95 596.5,668.98 599,668.84 601.5,669 604,668.85 606.5,668.98 609,669.1 611.5,669.16 614,669.17 616.5,668.97 619,668.89 621.5,669.06 624,669.19 626.5,668.9 629,669.16 631.5,668.98 634,668.68 636.5,669.01 639,669.23 641.5,669.09 644,669.13 646.5,669.05 649,668.8 651.5,668.72 654,668.87 656.5,668.95 659,668.88 661.5,668.9 664,669.09 666.5,669.18 669,668.8 671.5,668.87 674,668.99 676.5,668.98 679,668.72 681.5,669.35 684,669.09 686.5,669.04 689,668.77 691.5,669.04 694,668.86 696.5,669.06 699,669.04 701.5,669.01 704,669.05 706.5,668.93 709,669.02 711.5,668.71 714,669.09 716.5,668.98 719,669.31 721.5,669.01 724,668.72 726.5,669.19 729,668.91 731.5,668.86 734,669 736.5,669.16 739,669.24 741.5,668.95 744,669.03 746.5,669.03 749,668.92 751.5,668.94 754,668.98 756.5,668.99 759,669.13" fill="none" stroke="#ff0000" stroke-width="2.1" stroke-linejoin="round" stroke-linecap="round"/><polyline points="783.8,668.77 786.3,669.06 788.8,669.05 791.3,669.17 793.8,668.95 796.3,668.95 798.8,669.01 801.3,668.93 803.8,668.93 806.3,668.92 808.8,668.92 811.3,668.88 813.8,668.93 816.3,668.91 818.8,668.91 821.3,668.84 823.8,669.11 826.3,669.04 828.8,668.99 831.3,668.87 833.8,669.08 836.3,668.97 838.8,668.99 841.3,669.01 843.8,668.98 846.3,669.12 848.8,668.9 851.3,668.92 853.8,669.02 856.3,668.97 858.8,669.06 861.3,669.11" fill="none" stroke="#ff0000" stroke-width="2.1" stroke-linejoin="round" stroke-linecap="round"/><polyline points="862,669.16 864.5,669.11 867,668.97 869.5,668.98 872,668.95 874.5,669.14 877,668.97 879.5,668.9 882,668.87 884.5,669.09 887,668.89 889.5,668.68 892,669.08 894.5,669.04 897,669.09 899.5,669.12 902,669.06 904.5,669.05 907,669.01 909.5,668.91 912,668.75 914.5,668.76 917,669.05 919.5,669.1 922,669 924.5,668.91 927,669.08 929.5,669 932,669 934.5,668.96 937,668.86 939.5,668.88 942,669.05 944.5,669.2 947,669.21 949.5,668.98 952,669.06 954.5,668.99 957,669.02 959.5,669.05 962,669.11 964.5,668.86 967,669.21 969.5,668.99 972,668.88 974.5,669.28 977,668.89 979.5,669 982,668.91 984.5,669.14 987,668.68 989.5,669.04 992,668.81 994.5,669.19 997,669.25 999.5,669.11 1002,668.91 1004.5,669.14 1007,669.27 1009.5,669.03 1012,668.96 1014.5,669.18 1017,668.84 1019.5,668.97 1022,669 1024.5,669.02 1027,669.13 1029.5,668.98 1032,668.87 1034.5,668.83 1037,668.98 1039.5,669.06 1042,669.12 1044.5,669.08 1047,668.84 1049.5,669.07 1052,668.92 1054.5,669.16 1057,668.96 1059.5,668.97 1062,668.93 1064.5,669.12 1067,668.99 1069.5,669.33 1072,669.14 1074.5,668.86 1077,669 1079.5,669.13 1082,669.1 1084.5,669.08 1087,669.03 1089.5,668.82 1092,668.82 1094.5,669.1 1097,668.93 1099.5,669 1102,669.08 1104.5,668.78 1107,668.78 1109.5,669.07 1112,668.93 1114.5,668.96 1117,669.14 1119.5,668.97 1122,668.99 1124.5,669.04 1127,668.79 1129.5,669.21 1132,669.05 1134.5,668.94 1137,669.14 1139.5,668.89 1142,668.92 1144.5,668.85 1147,668.97 1149.5,668.91 1152,669.03 1154.5,668.92 1157,669.03 1159.5,669.05 1162,669.05 1164.5,669.05 1167,669.01 1169.5,668.9 1172,668.76 1174.5,669.04 1177,668.83 1179.5,669.04 1182,668.99 1184.5,668.99 1187,669 1189.5,669.07 1192,668.88 1194.5,669.04" fill="none" stroke="#ff0000" stroke-width="2.1" stroke-linejoin="round" stroke-linecap="round"/><polyline points="1194.7,669 1196.5,669 1198.28,671.34 1200.06,673.17 1201.83,674.61 1203.61,675.74 1205.39,676.62 1207.17,677.31 1208.94,677.85 1210.72,678.27 1212.5,678.6" fill="none" stroke="#ff0000" stroke-width="1.8" stroke-opacity="1" stroke-linejoin="round"/><polyline points="114,678.86 122,678.82 130,678.87 138,678.66 146,678.69 154,678.98 162,678.78 170,678.74 178,678.85 186,678.57 194,678.68 202,678.77 210,678.69 218,678.93 226,678.77 234,678.83 242,678.58 250,678.7 258,678.7 266,678.78 274,678.77 282,678.7 290,678.79 298,679.01 306,678.71 314,678.6 322,678.88 330,678.92 338,678.73 346,678.85 354,678.4 362,678.77 370,678.67 378,679.03 386,678.74 394,678.98 402,678.67 410,678.66 418,678.62 426,678.53 434,678.62 442,678.87 450,678.47 458,678.72 466,678.87 474,678.74 482,678.78 490,678.75 498,678.78 506,678.42 514,678.93 522,678.76 530,678.62 538,678.66 546,678.68 554,678.8 562,678.53 570,678.52 578,678.51 586,678.84 594,678.57 602,678.72 610,678.53 618,678.69 626,678.63 634,678.59 642,678.87 650,678.72 658,678.56 666,679.06 674,678.56 682,678.53 690,678.45 698,678.95 706,678.74 714,678.76 722,678.87 730,678.72 738,678.81 746,678.96 754,678.74 759.9,678.83" fill="none" stroke="#0000ff" stroke-width="3.1" stroke-linecap="round"/><polyline points="783.8,678.74 791.8,678.73 799.8,678.92 807.8,678.79 815.8,678.75 823.8,678.43 831.8,678.57 839.8,678.6 847.8,678.7 855.8,678.76 863.8,678.73 871.8,678.68 879.8,678.76 887.8,678.76 895.8,678.84 903.8,678.44 911.8,678.86 919.8,679 927.8,678.88 935.8,678.64 943.8,678.57 951.8,678.7 959.8,678.91 967.8,678.75 975.8,678.41 983.8,678.21 991.8,678.74 999.8,679.06 1007.8,678.47 1015.8,678.61 1023.8,678.71 1031.8,678.75 1039.8,678.83 1047.8,678.47 1055.8,678.72 1063.8,678.6 1071.8,678.83 1079.8,678.76 1087.8,678.87 1095.8,678.52 1103.8,678.53 1111.8,678.59 1119.8,678.63 1127.8,678.59 1135.8,678.51 1143.8,678.61 1151.8,678.46 1159.8,678.85 1167.8,678.63 1175.8,678.51 1183.8,678.72 1191.8,678.46 1199.8,678.75 1207.8,678.64 1215.8,678.96 1223.8,678.78 1228.5,678.58" fill="none" stroke="#0000ff" stroke-width="3.1" stroke-linecap="round"/><polyline points="759.9,682.21 760.9,681.67 761.9,682.05 762.9,679.43 763.9,681.27 764.9,681.27 765.9,682.48 766.9,680.83 767.9,681.83 768.9,681.46 769.9,680.61 770.9,681.19 771.9,681.96 772.9,681.44 773.9,681.46 774.9,681.53 775.9,681.64 776.9,681.8 777.9,681.52 778.9,680.55 779.9,681.43 780.9,681.64 781.9,682.72 782.9,680.87" fill="none" stroke="#0000ff" stroke-width="2.0"/><line x1="760.2" y1="663" x2="760.2" y2="681" stroke="#c02000" stroke-width="0.9" stroke-dasharray="1.2 1.2"/><line x1="783.5" y1="663" x2="783.5" y2="681" stroke="#c02000" stroke-width="0.9" stroke-dasharray="1.2 1.2"/><polyline points="1199,683.98 1200,681.25 1201,684.02 1202,679.28 1203,681.58 1204,678.9 1205,680.06 1206,681.37 1207,682.56 1208,680.93 1209,682.25 1210,680.86 1211,684.02 1212,681.18 1213,684.48 1214,684.27 1215,680.75 1216,682.61 1217,681.33 1218,683.83 1219,682.35 1220,684.3 1221,681.69 1222,681.55 1223,680.92 1224,682.1 1225,682.47 1226,682.02 1227,682.32 1228,682.91" fill="none" stroke="#0000ff" stroke-width="1.6"/><line x1="760.7" y1="530.21" x2="760.7" y2="677.3" stroke="#6070ff" stroke-width="1" stroke-dasharray="1 8"/><line x1="783" y1="530.37" x2="783" y2="677.3" stroke="#6070ff" stroke-width="1" stroke-dasharray="1 8"/><line x1="1226.5" y1="655" x2="1226.5" y2="680" stroke="#e04020" stroke-width="0.9" stroke-dasharray="1 1.5"/></g>
<g><rect x="74.5" y="65.5" width="1155" height="208" fill="none" stroke="#000" stroke-width="1.1"/><rect x="74.5" y="273.5" width="1155" height="208" fill="none" stroke="#000" stroke-width="1.1"/><rect x="74.5" y="481.5" width="1155" height="208" fill="none" stroke="#000" stroke-width="1.1"/><line x1="74.5" y1="65.5" x2="74.5" y2="62.2" stroke="#000" stroke-width="0.85"/><line x1="74.5" y1="273.5" x2="74.5" y2="276.8" stroke="#000" stroke-width="0.85"/><line x1="74.5" y1="481.5" x2="74.5" y2="484.8" stroke="#000" stroke-width="0.85"/><line x1="74.5" y1="689.5" x2="74.5" y2="692.8" stroke="#000" stroke-width="0.85"/><line x1="92.5" y1="65.5" x2="92.5" y2="62.2" stroke="#000" stroke-width="0.85"/><line x1="92.5" y1="273.5" x2="92.5" y2="276.8" stroke="#000" stroke-width="0.85"/><line x1="92.5" y1="481.5" x2="92.5" y2="484.8" stroke="#000" stroke-width="0.85"/><line x1="92.5" y1="689.5" x2="92.5" y2="692.8" stroke="#000" stroke-width="0.85"/><line x1="110.5" y1="65.5" x2="110.5" y2="60.5" stroke="#000" stroke-width="1.1"/><line x1="110.5" y1="273.5" x2="110.5" y2="278.5" stroke="#000" stroke-width="1.1"/><line x1="110.5" y1="481.5" x2="110.5" y2="486.5" stroke="#000" stroke-width="1.1"/><line x1="110.5" y1="689.5" x2="110.5" y2="694.5" stroke="#000" stroke-width="1.1"/><text x="110.6" y="56.6" font-size="13.89" text-anchor="middle" letter-spacing="-0.25">00:00</text><text x="110.6" y="708.7" font-size="13.89" text-anchor="middle" letter-spacing="-0.25">00:00</text><line x1="128.5" y1="65.5" x2="128.5" y2="62.2" stroke="#000" stroke-width="0.85"/><line x1="128.5" y1="273.5" x2="128.5" y2="276.8" stroke="#000" stroke-width="0.85"/><line x1="128.5" y1="481.5" x2="128.5" y2="484.8" stroke="#000" stroke-width="0.85"/><line x1="128.5" y1="689.5" x2="128.5" y2="692.8" stroke="#000" stroke-width="0.85"/><line x1="146.5" y1="65.5" x2="146.5" y2="62.2" stroke="#000" stroke-width="0.85"/><line x1="146.5" y1="273.5" x2="146.5" y2="276.8" stroke="#000" stroke-width="0.85"/><line x1="146.5" y1="481.5" x2="146.5" y2="484.8" stroke="#000" stroke-width="0.85"/><line x1="146.5" y1="689.5" x2="146.5" y2="692.8" stroke="#000" stroke-width="0.85"/><line x1="164.5" y1="65.5" x2="164.5" y2="62.2" stroke="#000" stroke-width="0.85"/><line x1="164.5" y1="273.5" x2="164.5" y2="276.8" stroke="#000" stroke-width="0.85"/><line x1="164.5" y1="481.5" x2="164.5" y2="484.8" stroke="#000" stroke-width="0.85"/><line x1="164.5" y1="689.5" x2="164.5" y2="692.8" stroke="#000" stroke-width="0.85"/><line x1="182.5" y1="65.5" x2="182.5" y2="62.2" stroke="#000" stroke-width="0.85"/><line x1="182.5" y1="273.5" x2="182.5" y2="276.8" stroke="#000" stroke-width="0.85"/><line x1="182.5" y1="481.5" x2="182.5" y2="484.8" stroke="#000" stroke-width="0.85"/><line x1="182.5" y1="689.5" x2="182.5" y2="692.8" stroke="#000" stroke-width="0.85"/><line x1="200.5" y1="65.5" x2="200.5" y2="62.2" stroke="#000" stroke-width="0.85"/><line x1="200.5" y1="273.5" x2="200.5" y2="276.8" stroke="#000" stroke-width="0.85"/><line x1="200.5" y1="481.5" x2="200.5" y2="484.8" stroke="#000" stroke-width="0.85"/><line x1="200.5" y1="689.5" x2="200.5" y2="692.8" stroke="#000" stroke-width="0.85"/><line x1="218.5" y1="65.5" x2="218.5" y2="60.5" stroke="#000" stroke-width="1.1"/><line x1="218.5" y1="273.5" x2="218.5" y2="278.5" stroke="#000" stroke-width="1.1"/><line x1="218.5" y1="481.5" x2="218.5" y2="486.5" stroke="#000" stroke-width="1.1"/><line x1="218.5" y1="689.5" x2="218.5" y2="694.5" stroke="#000" stroke-width="1.1"/><text x="218.6" y="56.6" font-size="13.89" text-anchor="middle" letter-spacing="-0.25">01:00</text><text x="218.6" y="708.7" font-size="13.89" text-anchor="middle" letter-spacing="-0.25">01:00</text><line x1="236.5" y1="65.5" x2="236.5" y2="62.2" stroke="#000" stroke-width="0.85"/><line x1="236.5" y1="273.5" x2="236.5" y2="276.8" stroke="#000" stroke-width="0.85"/><line x1="236.5" y1="481.5" x2="236.5" y2="484.8" stroke="#000" stroke-width="0.85"/><line x1="236.5" y1="689.5" x2="236.5" y2="692.8" stroke="#000" stroke-width="0.85"/><line x1="254.5" y1="65.5" x2="254.5" y2="62.2" stroke="#000" stroke-width="0.85"/><line x1="254.5" y1="273.5" x2="254.5" y2="276.8" stroke="#000" stroke-width="0.85"/><line x1="254.5" y1="481.5" x2="254.5" y2="484.8" stroke="#000" stroke-width="0.85"/><line x1="254.5" y1="689.5" x2="254.5" y2="692.8" stroke="#000" stroke-width="0.85"/><line x1="273.5" y1="65.5" x2="273.5" y2="62.2" stroke="#000" stroke-width="0.85"/><line x1="273.5" y1="273.5" x2="273.5" y2="276.8" stroke="#000" stroke-width="0.85"/><line x1="273.5" y1="481.5" x2="273.5" y2="484.8" stroke="#000" stroke-width="0.85"/><line x1="273.5" y1="689.5" x2="273.5" y2="692.8" stroke="#000" stroke-width="0.85"/><line x1="291.5" y1="65.5" x2="291.5" y2="62.2" stroke="#000" stroke-width="0.85"/><line x1="291.5" y1="273.5" x2="291.5" y2="276.8" stroke="#000" stroke-width="0.85"/><line x1="291.5" y1="481.5" x2="291.5" y2="484.8" stroke="#000" stroke-width="0.85"/><line x1="291.5" y1="689.5" x2="291.5" y2="692.8" stroke="#000" stroke-width="0.85"/><line x1="309.5" y1="65.5" x2="309.5" y2="62.2" stroke="#000" stroke-width="0.85"/><line x1="309.5" y1="273.5" x2="309.5" y2="276.8" stroke="#000" stroke-width="0.85"/><line x1="309.5" y1="481.5" x2="309.5" y2="484.8" stroke="#000" stroke-width="0.85"/><line x1="309.5" y1="689.5" x2="309.5" y2="692.8" stroke="#000" stroke-width="0.85"/><line x1="327.5" y1="65.5" x2="327.5" y2="60.5" stroke="#000" stroke-width="1.1"/><line x1="327.5" y1="273.5" x2="327.5" y2="278.5" stroke="#000" stroke-width="1.1"/><line x1="327.5" y1="481.5" x2="327.5" y2="486.5" stroke="#000" stroke-width="1.1"/><line x1="327.5" y1="689.5" x2="327.5" y2="694.5" stroke="#000" stroke-width="1.1"/><text x="327.6" y="56.6" font-size="13.89" text-anchor="middle" letter-spacing="-0.25">02:00</text><text x="327.6" y="708.7" font-size="13.89" text-anchor="middle" letter-spacing="-0.25">02:00</text><line x1="345.5" y1="65.5" x2="345.5" y2="62.2" stroke="#000" stroke-width="0.85"/><line x1="345.5" y1="273.5" x2="345.5" y2="276.8" stroke="#000" stroke-width="0.85"/><line x1="345.5" y1="481.5" x2="345.5" y2="484.8" stroke="#000" stroke-width="0.85"/><line x1="345.5" y1="689.5" x2="345.5" y2="692.8" stroke="#000" stroke-width="0.85"/><line x1="363.5" y1="65.5" x2="363.5" y2="62.2" stroke="#000" stroke-width="0.85"/><line x1="363.5" y1="273.5" x2="363.5" y2="276.8" stroke="#000" stroke-width="0.85"/><line x1="363.5" y1="481.5" x2="363.5" y2="484.8" stroke="#000" stroke-width="0.85"/><line x1="363.5" y1="689.5" x2="363.5" y2="692.8" stroke="#000" stroke-width="0.85"/><line x1="381.5" y1="65.5" x2="381.5" y2="62.2" stroke="#000" stroke-width="0.85"/><line x1="381.5" y1="273.5" x2="381.5" y2="276.8" stroke="#000" stroke-width="0.85"/><line x1="381.5" y1="481.5" x2="381.5" y2="484.8" stroke="#000" stroke-width="0.85"/><line x1="381.5" y1="689.5" x2="381.5" y2="692.8" stroke="#000" stroke-width="0.85"/><line x1="399.5" y1="65.5" x2="399.5" y2="62.2" stroke="#000" stroke-width="0.85"/><line x1="399.5" y1="273.5" x2="399.5" y2="276.8" stroke="#000" stroke-width="0.85"/><line x1="399.5" y1="481.5" x2="399.5" y2="484.8" stroke="#000" stroke-width="0.85"/><line x1="399.5" y1="689.5" x2="399.5" y2="692.8" stroke="#000" stroke-width="0.85"/><line x1="417.5" y1="65.5" x2="417.5" y2="62.2" stroke="#000" stroke-width="0.85"/><line x1="417.5" y1="273.5" x2="417.5" y2="276.8" stroke="#000" stroke-width="0.85"/><line x1="417.5" y1="481.5" x2="417.5" y2="484.8" stroke="#000" stroke-width="0.85"/><line x1="417.5" y1="689.5" x2="417.5" y2="692.8" stroke="#000" stroke-width="0.85"/><line x1="435.5" y1="65.5" x2="435.5" y2="60.5" stroke="#000" stroke-width="1.1"/><line x1="435.5" y1="273.5" x2="435.5" y2="278.5" stroke="#000" stroke-width="1.1"/><line x1="435.5" y1="481.5" x2="435.5" y2="486.5" stroke="#000" stroke-width="1.1"/><line x1="435.5" y1="689.5" x2="435.5" y2="694.5" stroke="#000" stroke-width="1.1"/><text x="435.6" y="56.6" font-size="13.89" text-anchor="middle" letter-spacing="-0.25">03:00</text><text x="435.6" y="708.7" font-size="13.89" text-anchor="middle" letter-spacing="-0.25">03:00</text><line x1="453.5" y1="65.5" x2="453.5" y2="62.2" stroke="#000" stroke-width="0.85"/><line x1="453.5" y1="273.5" x2="453.5" y2="276.8" stroke="#000" stroke-width="0.85"/><line x1="453.5" y1="481.5" x2="453.5" y2="484.8" stroke="#000" stroke-width="0.85"/><line x1="453.5" y1="689.5" x2="453.5" y2="692.8" stroke="#000" stroke-width="0.85"/><line x1="471.5" y1="65.5" x2="471.5" y2="62.2" stroke="#000" stroke-width="0.85"/><line x1="471.5" y1="273.5" x2="471.5" y2="276.8" stroke="#000" stroke-width="0.85"/><line x1="471.5" y1="481.5" x2="471.5" y2="484.8" stroke="#000" stroke-width="0.85"/><line x1="471.5" y1="689.5" x2="471.5" y2="692.8" stroke="#000" stroke-width="0.85"/><line x1="489.5" y1="65.5" x2="489.5" y2="62.2" stroke="#000" stroke-width="0.85"/><line x1="489.5" y1="273.5" x2="489.5" y2="276.8" stroke="#000" stroke-width="0.85"/><line x1="489.5" y1="481.5" x2="489.5" y2="484.8" stroke="#000" stroke-width="0.85"/><line x1="489.5" y1="689.5" x2="489.5" y2="692.8" stroke="#000" stroke-width="0.85"/><line x1="507.5" y1="65.5" x2="507.5" y2="62.2" stroke="#000" stroke-width="0.85"/><line x1="507.5" y1="273.5" x2="507.5" y2="276.8" stroke="#000" stroke-width="0.85"/><line x1="507.5" y1="481.5" x2="507.5" y2="484.8" stroke="#000" stroke-width="0.85"/><line x1="507.5" y1="689.5" x2="507.5" y2="692.8" stroke="#000" stroke-width="0.85"/><line x1="525.5" y1="65.5" x2="525.5" y2="62.2" stroke="#000" stroke-width="0.85"/><line x1="525.5" y1="273.5" x2="525.5" y2="276.8" stroke="#000" stroke-width="0.85"/><line x1="525.5" y1="481.5" x2="525.5" y2="484.8" stroke="#000" stroke-width="0.85"/><line x1="525.5" y1="689.5" x2="525.5" y2="692.8" stroke="#000" stroke-width="0.85"/><line x1="543.5" y1="65.5" x2="543.5" y2="60.5" stroke="#000" stroke-width="1.1"/><line x1="543.5" y1="273.5" x2="543.5" y2="278.5" stroke="#000" stroke-width="1.1"/><line x1="543.5" y1="481.5" x2="543.5" y2="486.5" stroke="#000" stroke-width="1.1"/><line x1="543.5" y1="689.5" x2="543.5" y2="694.5" stroke="#000" stroke-width="1.1"/><text x="543.6" y="56.6" font-size="13.89" text-anchor="middle" letter-spacing="-0.25">04:00</text><text x="543.6" y="708.7" font-size="13.89" text-anchor="middle" letter-spacing="-0.25">04:00</text><line x1="561.5" y1="65.5" x2="561.5" y2="62.2" stroke="#000" stroke-width="0.85"/><line x1="561.5" y1="273.5" x2="561.5" y2="276.8" stroke="#000" stroke-width="0.85"/><line x1="561.5" y1="481.5" x2="561.5" y2="484.8" stroke="#000" stroke-width="0.85"/><line x1="561.5" y1="689.5" x2="561.5" y2="692.8" stroke="#000" stroke-width="0.85"/><line x1="579.5" y1="65.5" x2="579.5" y2="62.2" stroke="#000" stroke-width="0.85"/><line x1="579.5" y1="273.5" x2="579.5" y2="276.8" stroke="#000" stroke-width="0.85"/><line x1="579.5" y1="481.5" x2="579.5" y2="484.8" stroke="#000" stroke-width="0.85"/><line x1="579.5" y1="689.5" x2="579.5" y2="692.8" stroke="#000" stroke-width="0.85"/><line x1="597.5" y1="65.5" x2="597.5" y2="62.2" stroke="#000" stroke-width="0.85"/><line x1="597.5" y1="273.5" x2="597.5" y2="276.8" stroke="#000" stroke-width="0.85"/><line x1="597.5" y1="481.5" x2="597.5" y2="484.8" stroke="#000" stroke-width="0.85"/><line x1="597.5" y1="689.5" x2="597.5" y2="692.8" stroke="#000" stroke-width="0.85"/><line x1="615.5" y1="65.5" x2="615.5" y2="62.2" stroke="#000" stroke-width="0.85"/><line x1="615.5" y1="273.5" x2="615.5" y2="276.8" stroke="#000" stroke-width="0.85"/><line x1="615.5" y1="481.5" x2="615.5" y2="484.8" stroke="#000" stroke-width="0.85"/><line x1="615.5" y1="689.5" x2="615.5" y2="692.8" stroke="#000" stroke-width="0.85"/><line x1="633.5" y1="65.5" x2="633.5" y2="62.2" stroke="#000" stroke-width="0.85"/><line x1="633.5" y1="273.5" x2="633.5" y2="276.8" stroke="#000" stroke-width="0.85"/><line x1="633.5" y1="481.5" x2="633.5" y2="484.8" stroke="#000" stroke-width="0.85"/><line x1="633.5" y1="689.5" x2="633.5" y2="692.8" stroke="#000" stroke-width="0.85"/><line x1="652.5" y1="65.5" x2="652.5" y2="60.5" stroke="#000" stroke-width="1.1"/><line x1="652.5" y1="273.5" x2="652.5" y2="278.5" stroke="#000" stroke-width="1.1"/><line x1="652.5" y1="481.5" x2="652.5" y2="486.5" stroke="#000" stroke-width="1.1"/><line x1="652.5" y1="689.5" x2="652.5" y2="694.5" stroke="#000" stroke-width="1.1"/><text x="652.6" y="56.6" font-size="13.89" text-anchor="middle" letter-spacing="-0.25">05:00</text><text x="652.6" y="708.7" font-size="13.89" text-anchor="middle" letter-spacing="-0.25">05:00</text><line x1="670.5" y1="65.5" x2="670.5" y2="62.2" stroke="#000" stroke-width="0.85"/><line x1="670.5" y1="273.5" x2="670.5" y2="276.8" stroke="#000" stroke-width="0.85"/><line x1="670.5" y1="481.5" x2="670.5" y2="484.8" stroke="#000" stroke-width="0.85"/><line x1="670.5" y1="689.5" x2="670.5" y2="692.8" stroke="#000" stroke-width="0.85"/><line x1="688.5" y1="65.5" x2="688.5" y2="62.2" stroke="#000" stroke-width="0.85"/><line x1="688.5" y1="273.5" x2="688.5" y2="276.8" stroke="#000" stroke-width="0.85"/><line x1="688.5" y1="481.5" x2="688.5" y2="484.8" stroke="#000" stroke-width="0.85"/><line x1="688.5" y1="689.5" x2="688.5" y2="692.8" stroke="#000" stroke-width="0.85"/><line x1="706.5" y1="65.5" x2="706.5" y2="62.2" stroke="#000" stroke-width="0.85"/><line x1="706.5" y1="273.5" x2="706.5" y2="276.8" stroke="#000" stroke-width="0.85"/><line x1="706.5" y1="481.5" x2="706.5" y2="484.8" stroke="#000" stroke-width="0.85"/><line x1="706.5" y1="689.5" x2="706.5" y2="692.8" stroke="#000" stroke-width="0.85"/><line x1="724.5" y1="65.5" x2="724.5" y2="62.2" stroke="#000" stroke-width="0.85"/><line x1="724.5" y1="273.5" x2="724.5" y2="276.8" stroke="#000" stroke-width="0.85"/><line x1="724.5" y1="481.5" x2="724.5" y2="484.8" stroke="#000" stroke-width="0.85"/><line x1="724.5" y1="689.5" x2="724.5" y2="692.8" stroke="#000" stroke-width="0.85"/><line x1="742.5" y1="65.5" x2="742.5" y2="62.2" stroke="#000" stroke-width="0.85"/><line x1="742.5" y1="273.5" x2="742.5" y2="276.8" stroke="#000" stroke-width="0.85"/><line x1="742.5" y1="481.5" x2="742.5" y2="484.8" stroke="#000" stroke-width="0.85"/><line x1="742.5" y1="689.5" x2="742.5" y2="692.8" stroke="#000" stroke-width="0.85"/><line x1="760.5" y1="65.5" x2="760.5" y2="60.5" stroke="#000" stroke-width="1.1"/><line x1="760.5" y1="273.5" x2="760.5" y2="278.5" stroke="#000" stroke-width="1.1"/><line x1="760.5" y1="481.5" x2="760.5" y2="486.5" stroke="#000" stroke-width="1.1"/><line x1="760.5" y1="689.5" x2="760.5" y2="694.5" stroke="#000" stroke-width="1.1"/><text x="760.6" y="56.6" font-size="13.89" text-anchor="middle" letter-spacing="-0.25">06:00</text><text x="760.6" y="708.7" font-size="13.89" text-anchor="middle" letter-spacing="-0.25">06:00</text><line x1="778.5" y1="65.5" x2="778.5" y2="62.2" stroke="#000" stroke-width="0.85"/><line x1="778.5" y1="273.5" x2="778.5" y2="276.8" stroke="#000" stroke-width="0.85"/><line x1="778.5" y1="481.5" x2="778.5" y2="484.8" stroke="#000" stroke-width="0.85"/><line x1="778.5" y1="689.5" x2="778.5" y2="692.8" stroke="#000" stroke-width="0.85"/><line x1="796.5" y1="65.5" x2="796.5" y2="62.2" stroke="#000" stroke-width="0.85"/><line x1="796.5" y1="273.5" x2="796.5" y2="276.8" stroke="#000" stroke-width="0.85"/><line x1="796.5" y1="481.5" x2="796.5" y2="484.8" stroke="#000" stroke-width="0.85"/><line x1="796.5" y1="689.5" x2="796.5" y2="692.8" stroke="#000" stroke-width="0.85"/><line x1="814.5" y1="65.5" x2="814.5" y2="62.2" stroke="#000" stroke-width="0.85"/><line x1="814.5" y1="273.5" x2="814.5" y2="276.8" stroke="#000" stroke-width="0.85"/><line x1="814.5" y1="481.5" x2="814.5" y2="484.8" stroke="#000" stroke-width="0.85"/><line x1="814.5" y1="689.5" x2="814.5" y2="692.8" stroke="#000" stroke-width="0.85"/><line x1="832.5" y1="65.5" x2="832.5" y2="62.2" stroke="#000" stroke-width="0.85"/><line x1="832.5" y1="273.5" x2="832.5" y2="276.8" stroke="#000" stroke-width="0.85"/><line x1="832.5" y1="481.5" x2="832.5" y2="484.8" stroke="#000" stroke-width="0.85"/><line x1="832.5" y1="689.5" x2="832.5" y2="692.8" stroke="#000" stroke-width="0.85"/><line x1="850.5" y1="65.5" x2="850.5" y2="62.2" stroke="#000" stroke-width="0.85"/><line x1="850.5" y1="273.5" x2="850.5" y2="276.8" stroke="#000" stroke-width="0.85"/><line x1="850.5" y1="481.5" x2="850.5" y2="484.8" stroke="#000" stroke-width="0.85"/><line x1="850.5" y1="689.5" x2="850.5" y2="692.8" stroke="#000" stroke-width="0.85"/><line x1="868.5" y1="65.5" x2="868.5" y2="60.5" stroke="#000" stroke-width="1.1"/><line x1="868.5" y1="273.5" x2="868.5" y2="278.5" stroke="#000" stroke-width="1.1"/><line x1="868.5" y1="481.5" x2="868.5" y2="486.5" stroke="#000" stroke-width="1.1"/><line x1="868.5" y1="689.5" x2="868.5" y2="694.5" stroke="#000" stroke-width="1.1"/><text x="868.6" y="56.6" font-size="13.89" text-anchor="middle" letter-spacing="-0.25">07:00</text><text x="868.6" y="708.7" font-size="13.89" text-anchor="middle" letter-spacing="-0.25">07:00</text><line x1="886.5" y1="65.5" x2="886.5" y2="62.2" stroke="#000" stroke-width="0.85"/><line x1="886.5" y1="273.5" x2="886.5" y2="276.8" stroke="#000" stroke-width="0.85"/><line x1="886.5" y1="481.5" x2="886.5" y2="484.8" stroke="#000" stroke-width="0.85"/><line x1="886.5" y1="689.5" x2="886.5" y2="692.8" stroke="#000" stroke-width="0.85"/><line x1="904.5" y1="65.5" x2="904.5" y2="62.2" stroke="#000" stroke-width="0.85"/><line x1="904.5" y1="273.5" x2="904.5" y2="276.8" stroke="#000" stroke-width="0.85"/><line x1="904.5" y1="481.5" x2="904.5" y2="484.8" stroke="#000" stroke-width="0.85"/><line x1="904.5" y1="689.5" x2="904.5" y2="692.8" stroke="#000" stroke-width="0.85"/><line x1="922.5" y1="65.5" x2="922.5" y2="62.2" stroke="#000" stroke-width="0.85"/><line x1="922.5" y1="273.5" x2="922.5" y2="276.8" stroke="#000" stroke-width="0.85"/><line x1="922.5" y1="481.5" x2="922.5" y2="484.8" stroke="#000" stroke-width="0.85"/><line x1="922.5" y1="689.5" x2="922.5" y2="692.8" stroke="#000" stroke-width="0.85"/><line x1="940.5" y1="65.5" x2="940.5" y2="62.2" stroke="#000" stroke-width="0.85"/><line x1="940.5" y1="273.5" x2="940.5" y2="276.8" stroke="#000" stroke-width="0.85"/><line x1="940.5" y1="481.5" x2="940.5" y2="484.8" stroke="#000" stroke-width="0.85"/><line x1="940.5" y1="689.5" x2="940.5" y2="692.8" stroke="#000" stroke-width="0.85"/><line x1="958.5" y1="65.5" x2="958.5" y2="62.2" stroke="#000" stroke-width="0.85"/><line x1="958.5" y1="273.5" x2="958.5" y2="276.8" stroke="#000" stroke-width="0.85"/><line x1="958.5" y1="481.5" x2="958.5" y2="484.8" stroke="#000" stroke-width="0.85"/><line x1="958.5" y1="689.5" x2="958.5" y2="692.8" stroke="#000" stroke-width="0.85"/><line x1="976.5" y1="65.5" x2="976.5" y2="60.5" stroke="#000" stroke-width="1.1"/><line x1="976.5" y1="273.5" x2="976.5" y2="278.5" stroke="#000" stroke-width="1.1"/><line x1="976.5" y1="481.5" x2="976.5" y2="486.5" stroke="#000" stroke-width="1.1"/><line x1="976.5" y1="689.5" x2="976.5" y2="694.5" stroke="#000" stroke-width="1.1"/><text x="976.6" y="56.6" font-size="13.89" text-anchor="middle" letter-spacing="-0.25">08:00</text><text x="976.6" y="708.7" font-size="13.89" text-anchor="middle" letter-spacing="-0.25">08:00</text><line x1="994.5" y1="65.5" x2="994.5" y2="62.2" stroke="#000" stroke-width="0.85"/><line x1="994.5" y1="273.5" x2="994.5" y2="276.8" stroke="#000" stroke-width="0.85"/><line x1="994.5" y1="481.5" x2="994.5" y2="484.8" stroke="#000" stroke-width="0.85"/><line x1="994.5" y1="689.5" x2="994.5" y2="692.8" stroke="#000" stroke-width="0.85"/><line x1="1012.5" y1="65.5" x2="1012.5" y2="62.2" stroke="#000" stroke-width="0.85"/><line x1="1012.5" y1="273.5" x2="1012.5" y2="276.8" stroke="#000" stroke-width="0.85"/><line x1="1012.5" y1="481.5" x2="1012.5" y2="484.8" stroke="#000" stroke-width="0.85"/><line x1="1012.5" y1="689.5" x2="1012.5" y2="692.8" stroke="#000" stroke-width="0.85"/><line x1="1030.5" y1="65.5" x2="1030.5" y2="62.2" stroke="#000" stroke-width="0.85"/><line x1="1030.5" y1="273.5" x2="1030.5" y2="276.8" stroke="#000" stroke-width="0.85"/><line x1="1030.5" y1="481.5" x2="1030.5" y2="484.8" stroke="#000" stroke-width="0.85"/><line x1="1030.5" y1="689.5" x2="1030.5" y2="692.8" stroke="#000" stroke-width="0.85"/><line x1="1049.5" y1="65.5" x2="1049.5" y2="62.2" stroke="#000" stroke-width="0.85"/><line x1="1049.5" y1="273.5" x2="1049.5" y2="276.8" stroke="#000" stroke-width="0.85"/><line x1="1049.5" y1="481.5" x2="1049.5" y2="484.8" stroke="#000" stroke-width="0.85"/><line x1="1049.5" y1="689.5" x2="1049.5" y2="692.8" stroke="#000" stroke-width="0.85"/><line x1="1067.5" y1="65.5" x2="1067.5" y2="62.2" stroke="#000" stroke-width="0.85"/><line x1="1067.5" y1="273.5" x2="1067.5" y2="276.8" stroke="#000" stroke-width="0.85"/><line x1="1067.5" y1="481.5" x2="1067.5" y2="484.8" stroke="#000" stroke-width="0.85"/><line x1="1067.5" y1="689.5" x2="1067.5" y2="692.8" stroke="#000" stroke-width="0.85"/><line x1="1085.5" y1="65.5" x2="1085.5" y2="60.5" stroke="#000" stroke-width="1.1"/><line x1="1085.5" y1="273.5" x2="1085.5" y2="278.5" stroke="#000" stroke-width="1.1"/><line x1="1085.5" y1="481.5" x2="1085.5" y2="486.5" stroke="#000" stroke-width="1.1"/><line x1="1085.5" y1="689.5" x2="1085.5" y2="694.5" stroke="#000" stroke-width="1.1"/><text x="1085.6" y="56.6" font-size="13.89" text-anchor="middle" letter-spacing="-0.25">09:00</text><text x="1085.6" y="708.7" font-size="13.89" text-anchor="middle" letter-spacing="-0.25">09:00</text><line x1="1103.5" y1="65.5" x2="1103.5" y2="62.2" stroke="#000" stroke-width="0.85"/><line x1="1103.5" y1="273.5" x2="1103.5" y2="276.8" stroke="#000" stroke-width="0.85"/><line x1="1103.5" y1="481.5" x2="1103.5" y2="484.8" stroke="#000" stroke-width="0.85"/><line x1="1103.5" y1="689.5" x2="1103.5" y2="692.8" stroke="#000" stroke-width="0.85"/><line x1="1121.5" y1="65.5" x2="1121.5" y2="62.2" stroke="#000" stroke-width="0.85"/><line x1="1121.5" y1="273.5" x2="1121.5" y2="276.8" stroke="#000" stroke-width="0.85"/><line x1="1121.5" y1="481.5" x2="1121.5" y2="484.8" stroke="#000" stroke-width="0.85"/><line x1="1121.5" y1="689.5" x2="1121.5" y2="692.8" stroke="#000" stroke-width="0.85"/><line x1="1139.5" y1="65.5" x2="1139.5" y2="62.2" stroke="#000" stroke-width="0.85"/><line x1="1139.5" y1="273.5" x2="1139.5" y2="276.8" stroke="#000" stroke-width="0.85"/><line x1="1139.5" y1="481.5" x2="1139.5" y2="484.8" stroke="#000" stroke-width="0.85"/><line x1="1139.5" y1="689.5" x2="1139.5" y2="692.8" stroke="#000" stroke-width="0.85"/><line x1="1157.5" y1="65.5" x2="1157.5" y2="62.2" stroke="#000" stroke-width="0.85"/><line x1="1157.5" y1="273.5" x2="1157.5" y2="276.8" stroke="#000" stroke-width="0.85"/><line x1="1157.5" y1="481.5" x2="1157.5" y2="484.8" stroke="#000" stroke-width="0.85"/><line x1="1157.5" y1="689.5" x2="1157.5" y2="692.8" stroke="#000" stroke-width="0.85"/><line x1="1175.5" y1="65.5" x2="1175.5" y2="62.2" stroke="#000" stroke-width="0.85"/><line x1="1175.5" y1="273.5" x2="1175.5" y2="276.8" stroke="#000" stroke-width="0.85"/><line x1="1175.5" y1="481.5" x2="1175.5" y2="484.8" stroke="#000" stroke-width="0.85"/><line x1="1175.5" y1="689.5" x2="1175.5" y2="692.8" stroke="#000" stroke-width="0.85"/><line x1="1193.5" y1="65.5" x2="1193.5" y2="60.5" stroke="#000" stroke-width="1.1"/><line x1="1193.5" y1="273.5" x2="1193.5" y2="278.5" stroke="#000" stroke-width="1.1"/><line x1="1193.5" y1="481.5" x2="1193.5" y2="486.5" stroke="#000" stroke-width="1.1"/><line x1="1193.5" y1="689.5" x2="1193.5" y2="694.5" stroke="#000" stroke-width="1.1"/><text x="1193.6" y="56.6" font-size="13.89" text-anchor="middle" letter-spacing="-0.25">10:00</text><text x="1193.6" y="708.7" font-size="13.89" text-anchor="middle" letter-spacing="-0.25">10:00</text><line x1="1211.5" y1="65.5" x2="1211.5" y2="62.2" stroke="#000" stroke-width="0.85"/><line x1="1211.5" y1="273.5" x2="1211.5" y2="276.8" stroke="#000" stroke-width="0.85"/><line x1="1211.5" y1="481.5" x2="1211.5" y2="484.8" stroke="#000" stroke-width="0.85"/><line x1="1211.5" y1="689.5" x2="1211.5" y2="692.8" stroke="#000" stroke-width="0.85"/><line x1="1229.5" y1="65.5" x2="1229.5" y2="62.2" stroke="#000" stroke-width="0.85"/><line x1="1229.5" y1="273.5" x2="1229.5" y2="276.8" stroke="#000" stroke-width="0.85"/><line x1="1229.5" y1="481.5" x2="1229.5" y2="484.8" stroke="#000" stroke-width="0.85"/><line x1="1229.5" y1="689.5" x2="1229.5" y2="692.8" stroke="#000" stroke-width="0.85"/><line x1="74.5" y1="65.5" x2="69.5" y2="65.5" stroke="#000" stroke-width="1"/><line x1="74.5" y1="69.5" x2="69.5" y2="69.5" stroke="#000" stroke-width="1"/><line x1="74.5" y1="74.5" x2="69.5" y2="74.5" stroke="#000" stroke-width="1"/><line x1="74.5" y1="78.5" x2="69.5" y2="78.5" stroke="#000" stroke-width="1"/><line x1="74.5" y1="82.5" x2="69.5" y2="82.5" stroke="#000" stroke-width="1"/><line x1="74.5" y1="87.5" x2="69.5" y2="87.5" stroke="#000" stroke-width="1"/><line x1="74.5" y1="91.5" x2="69.5" y2="91.5" stroke="#000" stroke-width="1"/><line x1="74.5" y1="95.5" x2="69.5" y2="95.5" stroke="#000" stroke-width="1"/><line x1="74.5" y1="100.5" x2="69.5" y2="100.5" stroke="#000" stroke-width="1"/><line x1="74.5" y1="104.5" x2="69.5" y2="104.5" stroke="#000" stroke-width="1"/><line x1="74.5" y1="108.5" x2="69.5" y2="108.5" stroke="#000" stroke-width="1"/><line x1="74.5" y1="113.5" x2="69.5" y2="113.5" stroke="#000" stroke-width="1"/><line x1="74.5" y1="117.5" x2="69.5" y2="117.5" stroke="#000" stroke-width="1"/><line x1="74.5" y1="121.5" x2="69.5" y2="121.5" stroke="#000" stroke-width="1"/><line x1="74.5" y1="126.5" x2="69.5" y2="126.5" stroke="#000" stroke-width="1"/><line x1="74.5" y1="130.5" x2="69.5" y2="130.5" stroke="#000" stroke-width="1"/><line x1="74.5" y1="134.5" x2="69.5" y2="134.5" stroke="#000" stroke-width="1"/><line x1="74.5" y1="139.5" x2="69.5" y2="139.5" stroke="#000" stroke-width="1"/><line x1="74.5" y1="143.5" x2="69.5" y2="143.5" stroke="#000" stroke-width="1"/><line x1="74.5" y1="147.5" x2="69.5" y2="147.5" stroke="#000" stroke-width="1"/><line x1="74.5" y1="152.5" x2="69.5" y2="152.5" stroke="#000" stroke-width="1"/><line x1="74.5" y1="156.5" x2="69.5" y2="156.5" stroke="#000" stroke-width="1"/><line x1="74.5" y1="160.5" x2="69.5" y2="160.5" stroke="#000" stroke-width="1"/><line x1="74.5" y1="165.5" x2="69.5" y2="165.5" stroke="#000" stroke-width="1"/><line x1="74.5" y1="169.5" x2="69.5" y2="169.5" stroke="#000" stroke-width="1"/><line x1="74.5" y1="173.5" x2="69.5" y2="173.5" stroke="#000" stroke-width="1"/><line x1="74.5" y1="178.5" x2="69.5" y2="178.5" stroke="#000" stroke-width="1"/><line x1="74.5" y1="182.5" x2="69.5" y2="182.5" stroke="#000" stroke-width="1"/><line x1="74.5" y1="186.5" x2="69.5" y2="186.5" stroke="#000" stroke-width="1"/><line x1="74.5" y1="191.5" x2="69.5" y2="191.5" stroke="#000" stroke-width="1"/><line x1="74.5" y1="195.5" x2="69.5" y2="195.5" stroke="#000" stroke-width="1"/><line x1="74.5" y1="199.5" x2="69.5" y2="199.5" stroke="#000" stroke-width="1"/><line x1="74.5" y1="204.5" x2="69.5" y2="204.5" stroke="#000" stroke-width="1"/><line x1="74.5" y1="208.5" x2="69.5" y2="208.5" stroke="#000" stroke-width="1"/><line x1="74.5" y1="212.5" x2="69.5" y2="212.5" stroke="#000" stroke-width="1"/><line x1="74.5" y1="217.5" x2="69.5" y2="217.5" stroke="#000" stroke-width="1"/><line x1="74.5" y1="221.5" x2="69.5" y2="221.5" stroke="#000" stroke-width="1"/><line x1="74.5" y1="225.5" x2="69.5" y2="225.5" stroke="#000" stroke-width="1"/><line x1="74.5" y1="230.5" x2="69.5" y2="230.5" stroke="#000" stroke-width="1"/><line x1="74.5" y1="234.5" x2="69.5" y2="234.5" stroke="#000" stroke-width="1"/><line x1="74.5" y1="238.5" x2="69.5" y2="238.5" stroke="#000" stroke-width="1"/><line x1="74.5" y1="243.5" x2="69.5" y2="243.5" stroke="#000" stroke-width="1"/><line x1="74.5" y1="247.5" x2="69.5" y2="247.5" stroke="#000" stroke-width="1"/><line x1="74.5" y1="251.5" x2="69.5" y2="251.5" stroke="#000" stroke-width="1"/><line x1="74.5" y1="256.5" x2="69.5" y2="256.5" stroke="#000" stroke-width="1"/><line x1="74.5" y1="260.5" x2="69.5" y2="260.5" stroke="#000" stroke-width="1"/><line x1="74.5" y1="264.5" x2="69.5" y2="264.5" stroke="#000" stroke-width="1"/><line x1="74.5" y1="269.5" x2="69.5" y2="269.5" stroke="#000" stroke-width="1"/><line x1="74.5" y1="273.5" x2="69.5" y2="273.5" stroke="#000" stroke-width="1"/><text x="64.6" y="71.1" font-size="13.89" text-anchor="end">24.0</text><text x="64.6" y="92.7" font-size="13.89" text-anchor="end">20.0</text><text x="64.6" y="115" font-size="13.89" text-anchor="end">16.0</text><text x="64.6" y="141.6" font-size="13.89" text-anchor="end">12.0</text><text x="64.6" y="163.5" font-size="13.89" text-anchor="end">10.0</text><text x="64.6" y="186.1" font-size="13.89" text-anchor="end">8.0</text><text x="64.6" y="211.9" font-size="13.89" text-anchor="end">6.0</text><text x="64.6" y="234.1" font-size="13.89" text-anchor="end">5.0</text><text x="64.6" y="256.4" font-size="13.89" text-anchor="end">4.0</text><text x="64.6" y="279.1" font-size="13.89" text-anchor="end">3.0</text><line x1="74.5" y1="273.5" x2="69.5" y2="273.5" stroke="#000" stroke-width="1"/><line x1="74.5" y1="277.5" x2="69.5" y2="277.5" stroke="#000" stroke-width="1"/><line x1="74.5" y1="282.5" x2="69.5" y2="282.5" stroke="#000" stroke-width="1"/><line x1="74.5" y1="286.5" x2="69.5" y2="286.5" stroke="#000" stroke-width="1"/><line x1="74.5" y1="290.5" x2="69.5" y2="290.5" stroke="#000" stroke-width="1"/><line x1="74.5" y1="295.5" x2="69.5" y2="295.5" stroke="#000" stroke-width="1"/><line x1="74.5" y1="299.5" x2="69.5" y2="299.5" stroke="#000" stroke-width="1"/><line x1="74.5" y1="303.5" x2="69.5" y2="303.5" stroke="#000" stroke-width="1"/><line x1="74.5" y1="308.5" x2="69.5" y2="308.5" stroke="#000" stroke-width="1"/><line x1="74.5" y1="312.5" x2="69.5" y2="312.5" stroke="#000" stroke-width="1"/><line x1="74.5" y1="316.5" x2="69.5" y2="316.5" stroke="#000" stroke-width="1"/><line x1="74.5" y1="321.5" x2="69.5" y2="321.5" stroke="#000" stroke-width="1"/><line x1="74.5" y1="325.5" x2="69.5" y2="325.5" stroke="#000" stroke-width="1"/><line x1="74.5" y1="329.5" x2="69.5" y2="329.5" stroke="#000" stroke-width="1"/><line x1="74.5" y1="334.5" x2="69.5" y2="334.5" stroke="#000" stroke-width="1"/><line x1="74.5" y1="338.5" x2="69.5" y2="338.5" stroke="#000" stroke-width="1"/><line x1="74.5" y1="342.5" x2="69.5" y2="342.5" stroke="#000" stroke-width="1"/><line x1="74.5" y1="347.5" x2="69.5" y2="347.5" stroke="#000" stroke-width="1"/><line x1="74.5" y1="351.5" x2="69.5" y2="351.5" stroke="#000" stroke-width="1"/><line x1="74.5" y1="355.5" x2="69.5" y2="355.5" stroke="#000" stroke-width="1"/><line x1="74.5" y1="360.5" x2="69.5" y2="360.5" stroke="#000" stroke-width="1"/><line x1="74.5" y1="364.5" x2="69.5" y2="364.5" stroke="#000" stroke-width="1"/><line x1="74.5" y1="368.5" x2="69.5" y2="368.5" stroke="#000" stroke-width="1"/><line x1="74.5" y1="373.5" x2="69.5" y2="373.5" stroke="#000" stroke-width="1"/><line x1="74.5" y1="377.5" x2="69.5" y2="377.5" stroke="#000" stroke-width="1"/><line x1="74.5" y1="381.5" x2="69.5" y2="381.5" stroke="#000" stroke-width="1"/><line x1="74.5" y1="386.5" x2="69.5" y2="386.5" stroke="#000" stroke-width="1"/><line x1="74.5" y1="390.5" x2="69.5" y2="390.5" stroke="#000" stroke-width="1"/><line x1="74.5" y1="394.5" x2="69.5" y2="394.5" stroke="#000" stroke-width="1"/><line x1="74.5" y1="399.5" x2="69.5" y2="399.5" stroke="#000" stroke-width="1"/><line x1="74.5" y1="403.5" x2="69.5" y2="403.5" stroke="#000" stroke-width="1"/><line x1="74.5" y1="407.5" x2="69.5" y2="407.5" stroke="#000" stroke-width="1"/><line x1="74.5" y1="412.5" x2="69.5" y2="412.5" stroke="#000" stroke-width="1"/><line x1="74.5" y1="416.5" x2="69.5" y2="416.5" stroke="#000" stroke-width="1"/><line x1="74.5" y1="420.5" x2="69.5" y2="420.5" stroke="#000" stroke-width="1"/><line x1="74.5" y1="425.5" x2="69.5" y2="425.5" stroke="#000" stroke-width="1"/><line x1="74.5" y1="429.5" x2="69.5" y2="429.5" stroke="#000" stroke-width="1"/><line x1="74.5" y1="433.5" x2="69.5" y2="433.5" stroke="#000" stroke-width="1"/><line x1="74.5" y1="438.5" x2="69.5" y2="438.5" stroke="#000" stroke-width="1"/><line x1="74.5" y1="442.5" x2="69.5" y2="442.5" stroke="#000" stroke-width="1"/><line x1="74.5" y1="446.5" x2="69.5" y2="446.5" stroke="#000" stroke-width="1"/><line x1="74.5" y1="451.5" x2="69.5" y2="451.5" stroke="#000" stroke-width="1"/><line x1="74.5" y1="455.5" x2="69.5" y2="455.5" stroke="#000" stroke-width="1"/><line x1="74.5" y1="459.5" x2="69.5" y2="459.5" stroke="#000" stroke-width="1"/><line x1="74.5" y1="464.5" x2="69.5" y2="464.5" stroke="#000" stroke-width="1"/><line x1="74.5" y1="468.5" x2="69.5" y2="468.5" stroke="#000" stroke-width="1"/><line x1="74.5" y1="472.5" x2="69.5" y2="472.5" stroke="#000" stroke-width="1"/><line x1="74.5" y1="477.5" x2="69.5" y2="477.5" stroke="#000" stroke-width="1"/><line x1="74.5" y1="481.5" x2="69.5" y2="481.5" stroke="#000" stroke-width="1"/><text x="64.6" y="300.7" font-size="13.89" text-anchor="end">20.0</text><text x="64.6" y="323" font-size="13.89" text-anchor="end">16.0</text><text x="64.6" y="349.6" font-size="13.89" text-anchor="end">12.0</text><text x="64.6" y="371.5" font-size="13.89" text-anchor="end">10.0</text><text x="64.6" y="394.1" font-size="13.89" text-anchor="end">8.0</text><text x="64.6" y="419.9" font-size="13.89" text-anchor="end">6.0</text><text x="64.6" y="442.1" font-size="13.89" text-anchor="end">5.0</text><text x="64.6" y="464.4" font-size="13.89" text-anchor="end">4.0</text><text x="64.6" y="487.1" font-size="13.89" text-anchor="end">3.0</text><line x1="74.5" y1="679.5" x2="69.5" y2="679.5" stroke="#000" stroke-width="1.1"/><text x="64.6" y="684.9" font-size="13.89" text-anchor="end">0</text><line x1="74.5" y1="629.5" x2="69.5" y2="629.5" stroke="#000" stroke-width="1.1"/><text x="64.6" y="634.9" font-size="13.89" text-anchor="end">500</text><line x1="74.5" y1="580.5" x2="69.5" y2="580.5" stroke="#000" stroke-width="1.1"/><text x="64.6" y="585.9" font-size="13.89" text-anchor="end">1000</text><line x1="74.5" y1="530.5" x2="69.5" y2="530.5" stroke="#000" stroke-width="1.1"/><text x="64.6" y="535.9" font-size="13.89" text-anchor="end">1500</text><text transform="translate(22.6,168.5) rotate(-90)" font-size="16.67" text-anchor="middle">Frequency, GHz</text><text transform="translate(22.6,377.8) rotate(-90)" font-size="16.67" text-anchor="middle">Frequency, GHz</text><text transform="translate(19.1,585) rotate(-90)" font-size="16.67" text-anchor="middle">Stokes I,V plot, sfu</text><text x="1233" y="708.7" font-size="15.28">UTC Time</text><text x="675" y="27.8" font-size="16.67" text-anchor="middle" style="white-space:pre" xml:space="preserve">2025-05-16  SOLARSPEL  3-24 GHz spectropolarimeter data   Stokes I,V   48 frequency channels   (calibration preliminary)</text><rect x="1239.6" y="76.5" width="8.9" height="187" fill="url(#cbI)" stroke="#000" stroke-width="1.1"/><rect x="1239.6" y="283.5" width="8.9" height="188" fill="url(#cbV)" stroke="#000" stroke-width="1.1"/><line x1="1248.5" y1="263.5" x2="1253.5" y2="263.5" stroke="#000" stroke-width="1.1"/><text x="1258.2" y="268.1" font-size="13.89">0</text><line x1="1248.5" y1="216.5" x2="1253.5" y2="216.5" stroke="#000" stroke-width="1.1"/><text x="1258.2" y="221.1" font-size="13.89">500</text><line x1="1248.5" y1="170.5" x2="1253.5" y2="170.5" stroke="#000" stroke-width="1.1"/><text x="1258.2" y="175.1" font-size="13.89">1000</text><line x1="1248.5" y1="123.5" x2="1253.5" y2="123.5" stroke="#000" stroke-width="1.1"/><text x="1258.2" y="128.1" font-size="13.89">1500</text><line x1="1248.5" y1="76.5" x2="1253.5" y2="76.5" stroke="#000" stroke-width="1.1"/><text x="1258.2" y="81.1" font-size="13.89">2000</text><line x1="1248.5" y1="471.5" x2="1253.5" y2="471.5" stroke="#000" stroke-width="1.1"/><text x="1258.2" y="476.1" font-size="13.89">−200</text><line x1="1248.5" y1="424.5" x2="1253.5" y2="424.5" stroke="#000" stroke-width="1.1"/><text x="1258.2" y="429.1" font-size="13.89">−100</text><line x1="1248.5" y1="377.5" x2="1253.5" y2="377.5" stroke="#000" stroke-width="1.1"/><text x="1258.2" y="382.1" font-size="13.89">0</text><line x1="1248.5" y1="330.5" x2="1253.5" y2="330.5" stroke="#000" stroke-width="1.1"/><text x="1258.2" y="335.1" font-size="13.89">100</text><line x1="1248.5" y1="283.5" x2="1253.5" y2="283.5" stroke="#000" stroke-width="1.1"/><text x="1258.2" y="288.1" font-size="13.89">200</text><text transform="translate(1311.8,170.2) rotate(-90)" font-size="16.67" text-anchor="middle">Stokes I map, sfu</text><text transform="translate(1314.8,377.6) rotate(-90)" font-size="16.67" text-anchor="middle">Stokes V map, sfu</text><rect x="1234.8" y="487.6" width="109.4" height="176.4" rx="2.5" fill="#fff" fill-opacity="0.8" stroke="#cccccc" stroke-width="1"/><circle cx="1251.6" cy="498.6" r="3.8" fill="#0000ff"/><text x="1274.5" y="501.9" font-size="12.5">19.69 GHz</text><circle cx="1251.6" cy="517.85" r="3.8" fill="#0020bf"/><text x="1274.5" y="521.15" font-size="12.5">15.69 GHz</text><circle cx="1251.6" cy="537.1" r="3.8" fill="#004080"/><text x="1274.5" y="540.4" font-size="12.5">11.83 GHz</text><circle cx="1251.6" cy="556.35" r="3.8" fill="#006040"/><text x="1274.5" y="559.65" font-size="12.5">9.83 GHz</text><circle cx="1251.6" cy="575.6" r="3.8" fill="#008000"/><text x="1274.5" y="578.9" font-size="12.5">7.83 GHz</text><circle cx="1251.6" cy="594.85" r="3.8" fill="#406000"/><text x="1274.5" y="598.15" font-size="12.5">5.90 GHz</text><circle cx="1251.6" cy="614.1" r="3.8" fill="#804000"/><text x="1274.5" y="617.4" font-size="12.5">4.90 GHz</text><circle cx="1251.6" cy="633.35" r="3.8" fill="#bf2000"/><text x="1274.5" y="636.65" font-size="12.5">3.90 GHz</text><circle cx="1251.6" cy="652.6" r="3.8" fill="#ff0000"/><text x="1274.5" y="655.9" font-size="12.5">3.00 GHz</text></g>
</svg></body></html>
